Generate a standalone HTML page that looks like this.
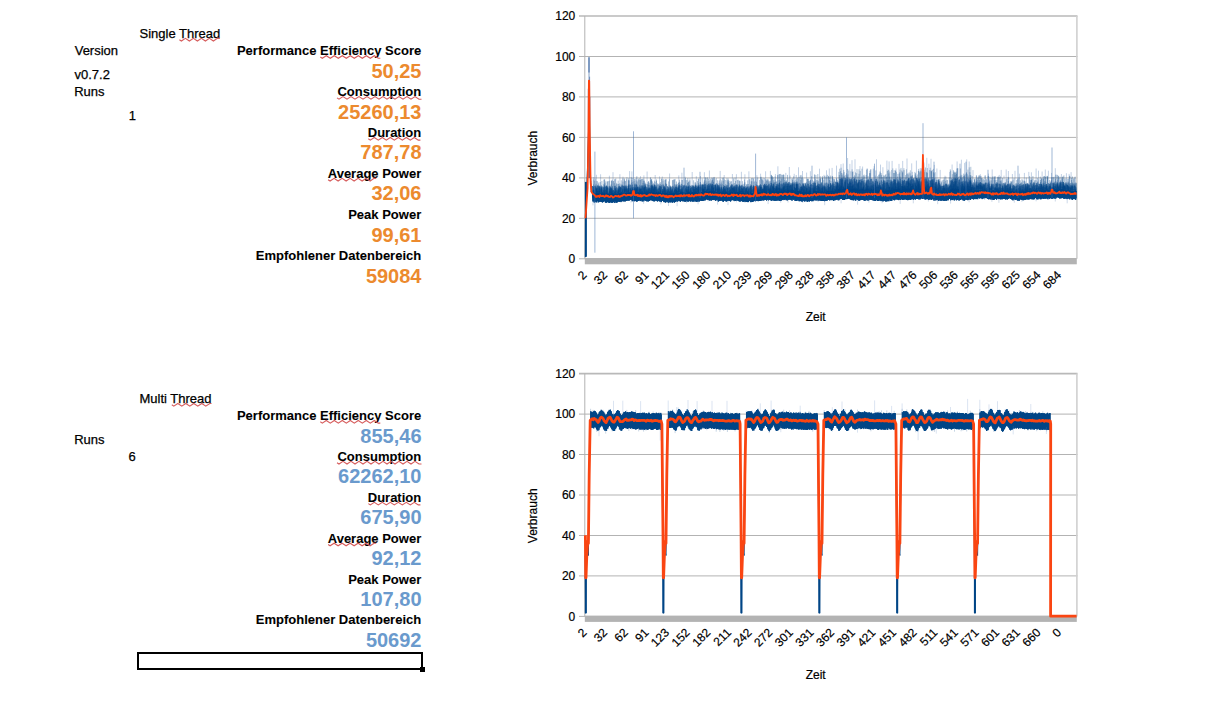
<!DOCTYPE html>
<html><head><meta charset="utf-8"><style>
html,body{margin:0;padding:0;background:#fff;}
body{width:1208px;height:704px;position:relative;overflow:hidden;font-family:"Liberation Sans", sans-serif;}
.t{position:absolute;line-height:1;white-space:nowrap;}
.n{-webkit-text-stroke:0.25px #000;}
.h{-webkit-text-stroke:0.08px #000;}
svg{position:absolute;left:0;top:0;}
svg text{font-family:"Liberation Sans", sans-serif;fill:#000;stroke:#000;stroke-width:0.2px;}
</style></head><body>
<div class="t n" style="left:139.5px;top:26.80px;font-size:13px;font-weight:normal;color:#000;">Single Thread</div>
<div class="t n" style="left:74.7px;top:44.10px;font-size:13px;font-weight:normal;color:#000;">Version</div>
<div class="t n" style="left:74.5px;top:67.70px;font-size:13px;font-weight:normal;color:#000;">v0.7.2</div>
<div class="t n" style="left:74.2px;top:84.70px;font-size:13px;font-weight:normal;color:#000;">Runs</div>
<div class="t n" style="left:128.8px;top:108.60px;font-size:13px;font-weight:normal;color:#000;">1</div>
<div class="t h" style="right:786.8px;top:44.10px;font-size:13px;font-weight:bold;color:#000;">Performance Efficiency Score</div>
<div class="t h" style="right:786.8px;top:85.00px;font-size:13px;font-weight:bold;color:#000;">Consumption</div>
<div class="t h" style="right:786.8px;top:125.90px;font-size:13px;font-weight:bold;color:#000;">Duration</div>
<div class="t h" style="right:786.8px;top:166.80px;font-size:13px;font-weight:bold;color:#000;">Average Power</div>
<div class="t h" style="right:786.8px;top:207.70px;font-size:13px;font-weight:bold;color:#000;">Peak Power</div>
<div class="t h" style="right:786.8px;top:248.60px;font-size:13px;font-weight:bold;color:#000;">Empfohlener Datenbereich</div>
<div class="t" style="right:786.5px;top:60.77px;font-size:20px;font-weight:bold;color:#ec8a2e;">50,25</div>
<div class="t" style="right:786.5px;top:101.67px;font-size:20px;font-weight:bold;color:#ec8a2e;">25260,13</div>
<div class="t" style="right:786.5px;top:142.47px;font-size:20px;font-weight:bold;color:#ec8a2e;">787,78</div>
<div class="t" style="right:786.5px;top:183.27px;font-size:20px;font-weight:bold;color:#ec8a2e;">32,06</div>
<div class="t" style="right:786.5px;top:224.57px;font-size:20px;font-weight:bold;color:#ec8a2e;">99,61</div>
<div class="t" style="right:786.5px;top:265.67px;font-size:20px;font-weight:bold;color:#ec8a2e;">59084</div>
<div class="t n" style="left:139.5px;top:391.90px;font-size:13px;font-weight:normal;color:#000;">Multi Thread</div>
<div class="t n" style="left:74.2px;top:432.90px;font-size:13px;font-weight:normal;color:#000;">Runs</div>
<div class="t n" style="left:128.6px;top:450.00px;font-size:13px;font-weight:normal;color:#000;">6</div>
<div class="t h" style="right:786.8px;top:408.90px;font-size:13px;font-weight:bold;color:#000;">Performance Efficiency Score</div>
<div class="t h" style="right:786.8px;top:449.80px;font-size:13px;font-weight:bold;color:#000;">Consumption</div>
<div class="t h" style="right:786.8px;top:490.70px;font-size:13px;font-weight:bold;color:#000;">Duration</div>
<div class="t h" style="right:786.8px;top:531.60px;font-size:13px;font-weight:bold;color:#000;">Average Power</div>
<div class="t h" style="right:786.8px;top:572.50px;font-size:13px;font-weight:bold;color:#000;">Peak Power</div>
<div class="t h" style="right:786.8px;top:613.40px;font-size:13px;font-weight:bold;color:#000;">Empfohlener Datenbereich</div>
<div class="t" style="right:786.5px;top:425.57px;font-size:20px;font-weight:bold;color:#6a9acd;">855,46</div>
<div class="t" style="right:786.5px;top:466.47px;font-size:20px;font-weight:bold;color:#6a9acd;">62262,10</div>
<div class="t" style="right:786.5px;top:507.27px;font-size:20px;font-weight:bold;color:#6a9acd;">675,90</div>
<div class="t" style="right:786.5px;top:548.07px;font-size:20px;font-weight:bold;color:#6a9acd;">92,12</div>
<div class="t" style="right:786.5px;top:589.37px;font-size:20px;font-weight:bold;color:#6a9acd;">107,80</div>
<div class="t" style="right:786.5px;top:630.47px;font-size:20px;font-weight:bold;color:#6a9acd;">50692</div>
<svg width="1208" height="704" viewBox="0 0 1208 704">
<polyline points="179.4,39.7 181.4,41.0 185.4,38.4 189.4,41.0 193.4,38.4 197.4,41.0 201.4,38.4 205.4,41.0 209.4,38.4 213.4,41.0 217.4,38.4 219.8,38.4" fill="none" stroke="#d65c5c" stroke-width="1.1"/>
<polyline points="171.8,404.8 173.8,406.1 177.8,403.5 181.8,406.1 185.8,403.5 189.8,406.1 193.8,403.5 197.8,406.1 201.8,403.5 205.8,406.1 209.8,403.5 211.5,403.5" fill="none" stroke="#d65c5c" stroke-width="1.1"/>
<polyline points="320.3,57.0 322.3,58.3 326.3,55.7 330.3,58.3 334.3,55.7 338.3,58.3 342.3,55.7 346.3,58.3 350.3,55.7 354.3,58.3 358.3,55.7 362.3,58.3 366.3,55.7 370.3,58.3 374.3,55.7 378.3,58.3 380.3,58.3" fill="none" stroke="#d65c5c" stroke-width="1.1"/>
<polyline points="337.0,97.9 339.0,99.2 343.0,96.6 347.0,99.2 351.0,96.6 355.0,99.2 359.0,96.6 363.0,99.2 367.0,96.6 371.0,99.2 375.0,96.6 379.0,99.2 383.0,96.6 387.0,99.2 391.0,96.6 395.0,99.2 399.0,96.6 403.0,99.2 407.0,96.6 411.0,99.2 415.0,96.6 419.0,99.2 421.5,99.2" fill="none" stroke="#d65c5c" stroke-width="1.1"/>
<polyline points="368.3,138.8 370.3,140.1 374.3,137.5 378.3,140.1 382.3,137.5 386.3,140.1 390.3,137.5 394.3,140.1 398.3,137.5 402.3,140.1 406.3,137.5 410.3,140.1 414.3,137.5 418.3,140.1 420.4,140.1" fill="none" stroke="#d65c5c" stroke-width="1.1"/>
<polyline points="328.1,179.7 330.1,181.0 334.1,178.4 338.1,181.0 342.1,178.4 346.1,181.0 350.1,178.4 354.1,181.0 358.1,178.4 362.1,181.0 366.1,178.4 370.1,181.0 374.1,178.4 376.2,178.4" fill="none" stroke="#d65c5c" stroke-width="1.1"/>
<polyline points="320.3,421.8 322.3,423.1 326.3,420.5 330.3,423.1 334.3,420.5 338.3,423.1 342.3,420.5 346.3,423.1 350.3,420.5 354.3,423.1 358.3,420.5 362.3,423.1 366.3,420.5 370.3,423.1 374.3,420.5 378.3,423.1 380.3,423.1" fill="none" stroke="#d65c5c" stroke-width="1.1"/>
<polyline points="337.0,462.7 339.0,464.0 343.0,461.4 347.0,464.0 351.0,461.4 355.0,464.0 359.0,461.4 363.0,464.0 367.0,461.4 371.0,464.0 375.0,461.4 379.0,464.0 383.0,461.4 387.0,464.0 391.0,461.4 395.0,464.0 399.0,461.4 403.0,464.0 407.0,461.4 411.0,464.0 415.0,461.4 419.0,464.0 421.5,464.0" fill="none" stroke="#d65c5c" stroke-width="1.1"/>
<polyline points="368.3,503.6 370.3,504.9 374.3,502.3 378.3,504.9 382.3,502.3 386.3,504.9 390.3,502.3 394.3,504.9 398.3,502.3 402.3,504.9 406.3,502.3 410.3,504.9 414.3,502.3 418.3,504.9 420.4,504.9" fill="none" stroke="#d65c5c" stroke-width="1.1"/>
<polyline points="328.1,544.5 330.1,545.8 334.1,543.2 338.1,545.8 342.1,543.2 346.1,545.8 350.1,543.2 354.1,545.8 358.1,543.2 362.1,545.8 366.1,543.2 370.1,545.8 374.1,543.2 376.2,543.2" fill="none" stroke="#d65c5c" stroke-width="1.1"/>
<rect x="138" y="653" width="284" height="16" fill="none" stroke="#000" stroke-width="2"/>
<rect x="420" y="667" width="5" height="5" fill="#000"/>
<line x1="579" y1="16.0" x2="1077.5" y2="16.0" stroke="#b9b9b9" stroke-width="1.6"/>
<line x1="579" y1="56.5" x2="1077.5" y2="56.5" stroke="#b3b3b3" stroke-width="1"/>
<line x1="579" y1="96.9" x2="1077.5" y2="96.9" stroke="#b3b3b3" stroke-width="1"/>
<line x1="579" y1="137.4" x2="1077.5" y2="137.4" stroke="#b3b3b3" stroke-width="1"/>
<line x1="579" y1="177.9" x2="1077.5" y2="177.9" stroke="#b3b3b3" stroke-width="1"/>
<line x1="579" y1="218.3" x2="1077.5" y2="218.3" stroke="#b3b3b3" stroke-width="1"/>
<line x1="579" y1="258.8" x2="585" y2="258.8" stroke="#b3b3b3" stroke-width="1"/>
<line x1="584.8" y1="16.0" x2="584.8" y2="258.8" stroke="#b3b3b3" stroke-width="1"/>
<line x1="1076.9" y1="16.0" x2="1076.9" y2="258.8" stroke="#d0d0d0" stroke-width="1.6"/>
<rect x="584.8" y="258.0" width="492" height="6.3" fill="#b3b3b3"/>
<text x="575.3" y="20.2" text-anchor="end" font-size="12">120</text>
<text x="575.3" y="60.7" text-anchor="end" font-size="12">100</text>
<text x="575.3" y="101.1" text-anchor="end" font-size="12">80</text>
<text x="575.3" y="141.6" text-anchor="end" font-size="12">60</text>
<text x="575.3" y="182.1" text-anchor="end" font-size="12">40</text>
<text x="575.3" y="222.5" text-anchor="end" font-size="12">20</text>
<text x="575.3" y="263.0" text-anchor="end" font-size="12">0</text>
<text transform="translate(587.5,275.7) rotate(-45)" text-anchor="end" font-size="12">2</text>
<text transform="translate(608.1,275.7) rotate(-45)" text-anchor="end" font-size="12">32</text>
<text transform="translate(628.8,275.7) rotate(-45)" text-anchor="end" font-size="12">62</text>
<text transform="translate(649.4,275.7) rotate(-45)" text-anchor="end" font-size="12">91</text>
<text transform="translate(670.0,275.7) rotate(-45)" text-anchor="end" font-size="12">121</text>
<text transform="translate(690.6,275.7) rotate(-45)" text-anchor="end" font-size="12">150</text>
<text transform="translate(711.3,275.7) rotate(-45)" text-anchor="end" font-size="12">180</text>
<text transform="translate(731.9,275.7) rotate(-45)" text-anchor="end" font-size="12">210</text>
<text transform="translate(752.5,275.7) rotate(-45)" text-anchor="end" font-size="12">239</text>
<text transform="translate(773.2,275.7) rotate(-45)" text-anchor="end" font-size="12">269</text>
<text transform="translate(793.8,275.7) rotate(-45)" text-anchor="end" font-size="12">298</text>
<text transform="translate(814.4,275.7) rotate(-45)" text-anchor="end" font-size="12">328</text>
<text transform="translate(835.1,275.7) rotate(-45)" text-anchor="end" font-size="12">358</text>
<text transform="translate(855.7,275.7) rotate(-45)" text-anchor="end" font-size="12">387</text>
<text transform="translate(876.3,275.7) rotate(-45)" text-anchor="end" font-size="12">417</text>
<text transform="translate(897.0,275.7) rotate(-45)" text-anchor="end" font-size="12">447</text>
<text transform="translate(917.6,275.7) rotate(-45)" text-anchor="end" font-size="12">476</text>
<text transform="translate(938.2,275.7) rotate(-45)" text-anchor="end" font-size="12">506</text>
<text transform="translate(958.8,275.7) rotate(-45)" text-anchor="end" font-size="12">536</text>
<text transform="translate(979.5,275.7) rotate(-45)" text-anchor="end" font-size="12">565</text>
<text transform="translate(1000.1,275.7) rotate(-45)" text-anchor="end" font-size="12">595</text>
<text transform="translate(1020.7,275.7) rotate(-45)" text-anchor="end" font-size="12">625</text>
<text transform="translate(1041.4,275.7) rotate(-45)" text-anchor="end" font-size="12">654</text>
<text transform="translate(1062.0,275.7) rotate(-45)" text-anchor="end" font-size="12">684</text>
<path d="M585.4 257.2L585.6 186L586.3 198.1L586.9 181.9L587.5 167.7L588.3 137.4L589 117.2L589.5 125.2L590 157.6L590.6 177.9L591.3 192L592 186L592.6 198.1L593 201.5L593.2 194.5L593.4 201.1L593.6 194.9L593.8 201.2L594 194.8L594.2 202.6L594.4 193.9L594.6 200.7L594.8 194.2L595 200.8L595.2 193.1L595.4 201.6L595.6 193.4L595.8 201.5L596 194L596.2 202.5L596.4 193.3L596.6 202L596.8 194.7L597 201L597.2 193.1L597.4 200.9L597.6 193.1L597.8 201.2L598 193L598.2 202.5L598.4 194.5L598.6 202L598.8 193.2L599 200.4L599.2 194.5L599.4 201.8L599.6 194.7L599.8 201.3L600 194.1L600.2 202L600.4 194.6L600.6 201L600.8 194.7L601 200.6L601.2 193.3L601.4 201.7L601.6 193.1L601.8 202.1L602 192.9L602.2 201.8L602.4 194L602.6 202.5L602.8 194.1L603 201.8L603.2 193.4L603.4 200.8L603.6 193.8L603.8 201.9L604 193.8L604.2 201.1L604.4 193L604.6 200.6L604.8 192.9L605 201.1L605.2 194.6L605.4 202.6L605.6 194.5L605.8 201.9L606 194.1L606.2 202.7L606.4 193.1L606.6 202.3L606.8 194.9L607 202.3L607.2 194.6L607.4 200.9L607.6 195L607.8 202.1L608 193.8L608.2 201.8L608.4 194.7L608.6 202.6L608.8 194.7L609 201.3L609.2 194.9L609.4 202.8L609.6 195.1L609.8 202.7L610 193.9L610.2 201.7L610.4 195.1L610.6 202.3L610.8 195.1L611 201.9L611.2 193.9L611.4 202.3L611.6 193.6L611.8 202.8L612 193.6L612.2 201.6L612.4 195.3L612.6 202.7L612.8 193.4L613 201L613.2 194.4L613.4 202.2L613.6 193.8L613.8 201.8L614 194.9L614.2 202.1L614.4 194.1L614.6 202.8L614.8 195.1L615 202.9L615.2 194.2L615.4 201.2L615.6 193.5L615.8 201.4L616 195.1L616.2 201.6L616.4 194.7L616.6 202.6L616.8 194L617 202.5L617.2 194.8L617.4 202.1L617.6 193.9L617.8 200.7L618 194.7L618.2 200.7L618.4 193.8L618.6 201.6L618.8 194.3L619 201.6L619.2 193.4L619.4 201.7L619.6 193L619.8 201.7L620 194.7L620.2 200.4L620.4 193.9L620.6 201.3L620.8 193.2L621 202.1L621.2 193L621.4 200.6L621.6 194.2L621.8 201.4L622 194L622.2 200.5L622.4 193.7L622.6 200.6L622.8 193.8L623 201.2L623.2 193.6L623.4 201.3L623.6 193.1L623.8 200.3L624 193.5L624.2 201.2L624.4 193.9L624.6 200.4L624.8 193.1L625 201.6L625.2 193L625.4 201.1L625.6 193.2L625.8 200.6L626 193.5L626.2 200.2L626.4 193.4L626.6 200.8L626.8 193.1L627 200L627.2 193.4L627.4 200.7L627.6 193.4L627.8 199.6L628 193.1L628.2 199.4L628.4 193.6L628.6 200.3L628.8 192.7L629 201L629.2 193.3L629.4 199.4L629.6 192.6L629.8 199.9L630 193.1L630.2 199.8L630.4 192L630.6 199.7L630.8 192.8L631 200L631.2 192.5L631.4 200.1L631.6 193.2L631.8 200L632 193.1L632.2 201.3L632.4 192L632.6 200.5L632.8 193L633 200.9L633.2 193.1L633.4 200.1L633.6 191.8L633.8 200.5L634 192.2L634.2 201.3L634.4 192L634.6 200.8L634.8 192.1L635 201.1L635.2 191.9L635.4 200.6L635.6 192.6L635.8 200.3L636 193.1L636.2 201.1L636.4 193.7L636.6 201.6L636.8 192.7L637 201.1L637.2 192.8L637.4 201.4L637.6 193.6L637.8 200.9L638 192.1L638.2 200.5L638.4 192.2L638.6 200.6L638.8 192.7L639 200.6L639.2 194L639.4 200.1L639.6 192.9L639.8 200.1L640 193.4L640.2 201.1L640.4 192.4L640.6 200.6L640.8 193.2L641 199.9L641.2 194.1L641.4 200.6L641.6 192.8L641.8 200L642 192.1L642.2 201.6L642.4 193.3L642.6 200.6L642.8 192.4L643 200.6L643.2 193.9L643.4 201.1L643.6 193L643.8 201.3L644 192.7L644.2 199.8L644.4 192.8L644.6 199.8L644.8 193.9L645 200.6L645.2 192.6L645.4 199.8L645.6 193L645.8 200.9L646 192.6L646.2 199.7L646.4 193L646.6 201.1L646.8 192.9L647 201.4L647.2 193.2L647.4 200.7L647.6 192.5L647.8 200L648 193.6L648.2 201.6L648.4 192.9L648.6 201L648.8 193.7L649 200L649.2 192.3L649.4 201L649.6 192.1L649.8 199.5L650 192.4L650.2 200.2L650.4 192.7L650.6 200.2L650.8 193L651 199.9L651.2 192L651.4 199.9L651.6 192.3L651.8 200.3L652 192.4L652.2 200.8L652.4 192.8L652.6 200.5L652.8 192.4L653 199.9L653.2 192.9L653.4 201.3L653.6 192.2L653.8 200.5L654 193.6L654.2 199.6L654.4 192.8L654.6 201.4L654.8 193.3L655 200.6L655.2 192.9L655.4 200L655.6 193L655.8 200.5L656 193.6L656.2 200.7L656.4 192.6L656.6 199.8L656.8 192.3L657 201L657.2 193.6L657.4 201.5L657.6 193.6L657.8 200.3L658 192.8L658.2 201.1L658.4 193.6L658.6 199.9L658.8 192.3L659 200.8L659.2 193.2L659.4 200.8L659.6 192.8L659.8 201.6L660 193.4L660.2 200.3L660.4 192.4L660.6 201.5L660.8 194L661 200.5L661.2 193.7L661.4 202.1L661.6 193.9L661.8 200.2L662 194.5L662.2 200.8L662.4 192.6L662.6 200.6L662.8 193L663 201L663.2 194.6L663.4 200.9L663.6 193L663.8 201.8L664 194.6L664.2 202.2L664.4 194L664.6 201.7L664.8 193.2L665 201.3L665.2 193L665.4 202.4L665.6 193.7L665.8 202.5L666 193.1L666.2 201.5L666.4 194.5L666.6 200.9L666.8 193.3L667 201.9L667.2 193.7L667.4 201.5L667.6 194.1L667.8 200.9L668 193.8L668.2 202.7L668.4 194.5L668.6 202.5L668.8 194.4L669 201.8L669.2 194.9L669.4 201.7L669.6 194.4L669.8 202.3L670 194.2L670.2 202.3L670.4 194.6L670.6 201.8L670.8 193.4L671 202.3L671.2 193.8L671.4 201.3L671.6 193.4L671.8 201.3L672 194.3L672.2 202.5L672.4 194.3L672.6 202.5L672.8 193.2L673 201.5L673.2 193.4L673.4 200.9L673.6 193.9L673.8 201.9L674 194.5L674.2 202.5L674.4 194.3L674.6 202.4L674.8 193.1L675 200.5L675.2 194.1L675.4 202L675.6 192.9L675.8 200.4L676 194L676.2 200.7L676.4 192.9L676.6 201L676.8 193.3L677 201.8L677.2 193.2L677.4 201L677.6 193.2L677.8 201.4L678 192.7L678.2 200.4L678.4 193.7L678.6 200.5L678.8 193.2L679 200.3L679.2 193.4L679.4 200.8L679.6 193.4L679.8 200.5L680 193L680.2 201.7L680.4 192.3L680.6 201.5L680.8 192.3L681 200.1L681.2 193.1L681.4 200.3L681.6 192.1L681.8 200.9L682 193.9L682.2 200.6L682.4 193L682.6 200.9L682.8 192.3L683 201.5L683.2 192.4L683.4 201L683.6 192.8L683.8 200L684 192.4L684.2 201.3L684.4 192.6L684.6 201.4L684.8 192.6L685 201.3L685.2 193L685.4 201.7L685.6 193.9L685.8 201L686 194L686.2 200.4L686.4 193.4L686.6 200.8L686.8 194L687 201.6L687.2 193.5L687.4 201.2L687.6 193.5L687.8 200.4L688 192.5L688.2 201.4L688.4 192.2L688.6 201.4L688.8 192.3L689 201.1L689.2 194.1L689.4 201.1L689.6 192.8L689.8 200.9L690 192.8L690.2 200.4L690.4 193.7L690.6 201.6L690.8 192.7L691 200.6L691.2 194.1L691.4 200.6L691.6 193.1L691.8 200L692 192.2L692.2 201.8L692.4 193.8L692.6 201.1L692.8 192.3L693 200.8L693.2 194.2L693.4 200.9L693.6 192.9L693.8 201.8L694 192.4L694.2 200.1L694.4 193.2L694.6 200L694.8 192.3L695 201.4L695.2 192.3L695.4 201.1L695.6 192.3L695.8 201.3L696 193L696.2 201.2L696.4 192.2L696.6 201.7L696.8 194L697 201.4L697.2 193.1L697.4 200.9L697.6 193.1L697.8 201.5L698 192.6L698.2 201.5L698.4 193L698.6 199.8L698.8 193.1L699 199.8L699.2 192.3L699.4 201.5L699.6 192.9L699.8 200.5L700 192.9L700.2 200.7L700.4 193L700.6 199.9L700.8 193.5L701 200.7L701.2 192.5L701.4 199.6L701.6 192L701.8 201L702 192.1L702.2 201L702.4 193L702.6 199.5L702.8 192L703 200.8L703.2 191.5L703.4 200.5L703.6 191.5L703.8 200.1L704 192.4L704.2 200.4L704.4 191.3L704.6 199.5L704.8 191.3L705 200.4L705.2 191.7L705.4 200.1L705.6 191.3L705.8 199.9L706 191.7L706.2 199.2L706.4 192.1L706.6 198.9L706.8 192.3L707 199.2L707.2 192.1L707.4 199.8L707.6 192.6L707.8 199.3L708 192.9L708.2 199.2L708.4 192.3L708.6 200.1L708.8 192.6L709 199.8L709.2 191.2L709.4 200.5L709.6 191.3L709.8 200.1L710 192.3L710.2 200.1L710.4 191.1L710.6 199.1L710.8 192.1L711 200.6L711.2 191.1L711.4 200.4L711.6 191.7L711.8 199L712 192.9L712.2 199.5L712.4 191.5L712.6 199.9L712.8 191.8L713 200.1L713.2 191.1L713.4 199.6L713.6 192.8L713.8 199.4L714 191.4L714.2 199.8L714.4 191.6L714.6 199.5L714.8 192.2L715 199.1L715.2 192.9L715.4 200.8L715.6 192L715.8 199.2L716 192.3L716.2 200.3L716.4 192.4L716.6 199.6L716.8 193.4L717 200.2L717.2 193.5L717.4 200.1L717.6 191.8L717.8 199.7L718 192.5L718.2 201.3L718.4 193.7L718.6 201.4L718.8 192.9L719 200.5L719.2 193.6L719.4 200.7L719.6 192.3L719.8 201L720 192.3L720.2 200.5L720.4 192.6L720.6 200.1L720.8 192.4L721 201L721.2 192.5L721.4 199.7L721.6 193.7L721.8 200L722 193.3L722.2 201L722.4 192.4L722.6 200.1L722.8 193.1L723 201.7L723.2 192.4L723.4 201.6L723.6 193.6L723.8 200L724 192.5L724.2 200.2L724.4 192.8L724.6 200.5L724.8 193.9L725 200.6L725.2 193.8L725.4 201.1L725.6 192.2L725.8 200.8L726 193.3L726.2 201.5L726.4 192.9L726.6 201.2L726.8 192.2L727 201.2L727.2 192.9L727.4 200.8L727.6 193.5L727.8 201L728 194.1L728.2 200.1L728.4 193.9L728.6 200.4L728.8 193.4L729 200.7L729.2 193.6L729.4 201L729.6 193.2L729.8 200.3L730 193L730.2 201.1L730.4 192.1L730.6 201.5L730.8 192.7L731 200.5L731.2 193.5L731.4 200.2L731.6 192.5L731.8 199.7L732 192.4L732.2 200.1L732.4 192L732.6 200.1L732.8 193.2L733 199.6L733.2 193.7L733.4 200.2L733.6 193.5L733.8 200.1L734 193.1L734.2 201.1L734.4 192.9L734.6 199.7L734.8 192.3L735 199.6L735.2 192.9L735.4 200.8L735.6 191.8L735.8 200.8L736 192.2L736.2 200.2L736.4 193.7L736.6 199.7L736.8 193.1L737 200.8L737.2 192.1L737.4 200.2L737.6 193L737.8 200.2L738 192.7L738.2 199.9L738.4 192.4L738.6 201.1L738.8 192.5L739 200.4L739.2 193.8L739.4 201.4L739.6 193.3L739.8 200.2L740 192.5L740.2 201.7L740.4 193.2L740.6 200.1L740.8 193.9L741 200.4L741.2 193L741.4 201L741.6 193.3L741.8 200.1L742 192.9L742.2 201.4L742.4 193.5L742.6 200.1L742.8 192.7L743 202L743.2 192.6L743.4 200.9L743.6 193.6L743.8 201.7L744 192.8L744.2 200.9L744.4 193.8L744.6 200.8L744.8 194L745 202.1L745.2 193.5L745.4 200.5L745.6 194.5L745.8 201.6L746 194.3L746.2 201L746.4 194.4L746.6 201.8L746.8 194L747 200.6L747.2 193.6L747.4 202.1L747.6 193L747.8 202L748 192.8L748.2 202L748.4 193.9L748.6 202.1L748.8 194.1L749 200.8L749.2 194.3L749.4 200.7L749.6 194L749.8 200.4L750 194.5L750.2 201L750.4 194.5L750.6 202L750.8 192.7L751 202.1L751.2 192.9L751.4 201.4L751.6 193.4L751.8 200.8L752 193.9L752.2 202L752.4 193.2L752.6 201L752.8 193.1L753 201.8L753.2 193.5L753.4 201.2L753.6 193.6L753.8 200.9L754 194.2L754.2 200L754.4 192.3L754.6 200.3L754.8 193.6L755 201.2L755.2 192.3L755.4 200.8L755.6 192.7L755.8 200.2L756 193.8L756.2 200.8L756.4 192.5L756.6 200.5L756.8 193.2L757 199.9L757.2 192.9L757.4 200.8L757.6 192.4L757.8 199.6L758 192.7L758.2 201.2L758.4 192.4L758.6 200.8L758.8 192.9L759 201L759.2 192L759.4 200.9L759.6 192.4L759.8 199.1L760 192.4L760.2 200.3L760.4 193.2L760.6 200.8L760.8 192L761 199.3L761.2 191.2L761.4 199.3L761.6 191.9L761.8 200.8L762 191.6L762.2 199.9L762.4 191.9L762.6 199.7L762.8 191.2L763 200.3L763.2 193L763.4 199.8L763.6 192L763.8 200.5L764 191.6L764.2 198.8L764.4 192.4L764.6 199.7L764.8 191.1L765 199.9L765.2 192.5L765.4 199.8L765.6 192.2L765.8 198.8L766 192.3L766.2 199.4L766.4 191L766.6 200.6L766.8 192.5L767 199.9L767.2 192.7L767.4 199L767.6 192.8L767.8 199.9L768 193L768.2 199.2L768.4 192.8L768.6 200.4L768.8 192.6L769 199.9L769.2 193L769.4 198.8L769.6 191.5L769.8 199.9L770 191.1L770.2 199.9L770.4 191.2L770.6 199.5L770.8 190.8L771 200.5L771.2 191.5L771.4 200.7L771.6 191.4L771.8 199.1L772 192.4L772.2 200.5L772.4 190.7L772.6 199.3L772.8 192.6L773 199.8L773.2 191L773.4 200.5L773.6 192.6L773.8 199.1L774 190.8L774.2 200.6L774.4 191.6L774.6 200.5L774.8 192.3L775 200.3L775.2 192.3L775.4 200.7L775.6 191.8L775.8 199.1L776 192.2L776.2 200.9L776.4 191L776.6 199.7L776.8 191.5L777 200.3L777.2 191.7L777.4 199.9L777.6 192.7L777.8 200.5L778 191.9L778.2 200.5L778.4 191.8L778.6 199.5L778.8 191L779 200L779.2 192.1L779.4 200.9L779.6 192.2L779.8 200.1L780 191.7L780.2 199.7L780.4 192.2L780.6 200.8L780.8 191.6L781 200.8L781.2 191.4L781.4 200.1L781.6 190.6L781.8 200.2L782 191.4L782.2 199.5L782.4 192.4L782.6 200L782.8 191.5L783 199.3L783.2 192.3L783.4 198.8L783.6 192.4L783.8 200.1L784 190.7L784.2 198.7L784.4 190.5L784.6 199.7L784.8 191.8L785 199.5L785.2 191.1L785.4 198.7L785.6 190.9L785.8 199.4L786 191.9L786.2 200.2L786.4 191L786.6 199.5L786.8 191.4L787 200.1L787.2 191.1L787.4 200.4L787.6 190.4L787.8 199.8L788 190.5L788.2 198.5L788.4 190.7L788.6 199.9L788.8 191.8L789 199L789.2 190.8L789.4 198.8L789.6 191.5L789.8 199.7L790 191.5L790.2 200L790.4 190.8L790.6 198.8L790.8 191.2L791 198.7L791.2 190.7L791.4 200.3L791.6 190.4L791.8 199.1L792 191.5L792.2 200.6L792.4 190.5L792.6 199L792.8 191.4L793 199L793.2 190.6L793.4 199.6L793.6 190.8L793.8 199.4L794 191.8L794.2 199.6L794.4 191.1L794.6 199L794.8 190.9L795 200.8L795.2 192.1L795.4 200.8L795.6 190.9L795.8 200.1L796 192.2L796.2 199.3L796.4 192.4L796.6 201L796.8 192.3L797 199.5L797.2 191.3L797.4 199.8L797.6 191.6L797.8 200.7L798 191.1L798.2 199.9L798.4 192.2L798.6 199.6L798.8 192.2L799 201.2L799.2 191.7L799.4 201L799.6 193.2L799.8 201.2L800 191.6L800.2 200.9L800.4 191.6L800.6 200.8L800.8 192.7L801 200.4L801.2 191.9L801.4 201.5L801.6 192.5L801.8 200.4L802 192.5L802.2 200.7L802.4 193.4L802.6 201.6L802.8 192.2L803 200.9L803.2 192.7L803.4 200.1L803.6 192.8L803.8 200.6L804 192.5L804.2 200.4L804.4 193.4L804.6 201.4L804.8 191.9L805 201.4L805.2 192.4L805.4 200.1L805.6 192.2L805.8 200.7L806 193L806.2 200L806.4 191.9L806.6 200.4L806.8 192.3L807 201.7L807.2 192.9L807.4 200.2L807.6 192.8L807.8 201.8L808 193.6L808.2 201.1L808.4 192.9L808.6 200.3L808.8 192.1L809 201L809.2 192.2L809.4 201.6L809.6 191.6L809.8 200.3L810 192.3L810.2 199.9L810.4 191.5L810.6 201L810.8 191.7L811 199.7L811.2 192.9L811.4 199.8L811.6 192.3L811.8 201.3L812 192.1L812.2 201L812.4 191.3L812.6 200.3L812.8 191.8L813 201.2L813.2 192.2L813.4 199.5L813.6 193L813.8 200.4L814 191.3L814.2 199.8L814.4 191.3L814.6 200.2L814.8 191.2L815 199.3L815.2 192.1L815.4 200.3L815.6 191.5L815.8 200.1L816 192.9L816.2 200.3L816.4 191.3L816.6 200.1L816.8 192.8L817 200.4L817.2 192.2L817.4 199.3L817.6 191.5L817.8 199.5L818 191.9L818.2 200.8L818.4 191L818.6 199.2L818.8 191.8L819 200.2L819.2 192.7L819.4 200L819.6 191.9L819.8 200.5L820 192.4L820.2 200.6L820.4 191.8L820.6 199.6L820.8 192.1L821 200.9L821.2 191.3L821.4 199.7L821.6 192.4L821.8 201L822 192.9L822.2 200.9L822.4 191.3L822.6 201L822.8 191.8L823 200L823.2 192.7L823.4 200.9L823.6 192.4L823.8 201L824 192.2L824.2 200.7L824.4 191.7L824.6 201.2L824.8 192.5L825 201L825.2 192.6L825.4 200.6L825.6 192.2L825.8 200L826 192L826.2 199.6L826.4 192.9L826.6 200.8L826.8 191.8L827 199.6L827.2 191.3L827.4 200.5L827.6 191.9L827.8 199.4L828 191.3L828.2 200L828.4 192.6L828.6 199.9L828.8 191.1L829 199.4L829.2 191.7L829.4 199.6L829.6 192.4L829.8 200.5L830 192.7L830.2 199.9L830.4 191.7L830.6 199.8L830.8 192L831 199.8L831.2 192.2L831.4 199.6L831.6 191.3L831.8 200.2L832 190.9L832.2 199.5L832.4 192.4L832.6 199.4L832.8 190.9L833 200L833.2 191.8L833.4 200.8L833.6 191.2L833.8 199L834 192.4L834.2 200.5L834.4 192.3L834.6 199.6L834.8 191.4L835 199.5L835.2 191L835.4 200.2L835.6 190.5L835.8 199.4L836 191.6L836.2 199.2L836.4 191.4L836.6 199.7L836.8 190.9L837 199.1L837.2 191L837.4 199.3L837.6 191.7L837.8 199.5L838 190.5L838.2 200.3L838.4 189.5L838.6 198.6L838.8 189.3L839 200.2L839.2 188.9L839.4 198.7L839.6 189.1L839.8 199.3L840 189.7L840.2 198.5L840.4 189.7L840.6 199L840.8 188.8L841 198.4L841.2 190.2L841.4 198.8L841.6 190.3L841.8 198.7L842 190.1L842.2 198.2L842.4 189.8L842.6 199.9L842.8 190.3L843 197.9L843.2 188.9L843.4 199.7L843.6 189.2L843.8 199.7L844 189.3L844.2 199.7L844.4 188.9L844.6 199.8L844.8 189.4L845 199.2L845.2 190L845.4 199.1L845.6 188.8L845.8 197.9L846 190.3L846.2 198.5L846.4 189L846.6 199.1L846.8 189.5L847 199.1L847.2 188.6L847.4 199L847.6 190.1L847.8 198.5L848 190.4L848.2 198.6L848.4 190.2L848.6 198.2L848.8 190.5L849 198.4L849.2 189.6L849.4 198.7L849.6 190.1L849.8 198.3L850 190.2L850.2 199.3L850.4 189.2L850.6 199.5L850.8 189.4L851 198.9L851.2 190.5L851.4 199.9L851.6 190L851.8 198.6L852 189.7L852.2 200.2L852.4 190.3L852.6 199.7L852.8 189.4L853 199.9L853.2 189.2L853.4 200.2L853.6 190L853.8 200.3L854 189.2L854.2 199.5L854.4 191.2L854.6 198.9L854.8 190L855 198.8L855.2 189.5L855.4 200.4L855.6 189.4L855.8 200.6L856 190.6L856.2 199.2L856.4 190.4L856.6 199.2L856.8 190.4L857 199L857.2 190.7L857.4 199.8L857.6 189.8L857.8 200L858 190.4L858.2 199.2L858.4 190L858.6 200.3L858.8 191.2L859 200.7L859.2 190.6L859.4 200.5L859.6 190.9L859.8 199.7L860 189.7L860.2 199.4L860.4 190.4L860.6 200.2L860.8 191.3L861 199.3L861.2 190.2L861.4 199.5L861.6 189.8L861.8 199.8L862 189.7L862.2 199.6L862.4 191.4L862.6 199.6L862.8 189.6L863 199.8L863.2 190.4L863.4 199.9L863.6 189.8L863.8 200.2L864 190.4L864.2 200.6L864.4 190.8L864.6 200.3L864.8 190L865 200.6L865.2 190L865.4 198.8L865.6 190L865.8 200.5L866 190.1L866.2 198.8L866.4 189.5L866.6 200L866.8 189.7L867 199.3L867.2 190.2L867.4 200.5L867.6 191L867.8 200L868 190.7L868.2 199.7L868.4 191L868.6 200.5L868.8 189.7L869 200.1L869.2 189.8L869.4 199L869.6 190.3L869.8 199.9L870 190.3L870.2 198.9L870.4 190.4L870.6 199.7L870.8 190.6L871 199.4L871.2 190.1L871.4 199.8L871.6 189.6L871.8 199.8L872 191.1L872.2 200.1L872.4 190.1L872.6 199.5L872.8 190.6L873 200.4L873.2 190.3L873.4 199.3L873.6 189.5L873.8 200.6L874 191L874.2 199L874.4 189.7L874.6 200.7L874.8 190.8L875 200.3L875.2 190.9L875.4 200.9L875.6 190.6L875.8 200.7L876 190.3L876.2 199.6L876.4 190.7L876.6 199.4L876.8 191.5L877 199.9L877.2 191.5L877.4 200.8L877.6 190.8L877.8 200.6L878 191.1L878.2 201L878.4 191.7L878.6 200.5L878.8 191.5L879 199.4L879.2 191.9L879.4 200.6L879.6 191.8L879.8 199.4L880 190.3L880.2 199.9L880.4 191.6L880.6 200.5L880.8 190.7L881 201.1L881.2 191L881.4 199.6L881.6 191L881.8 201L882 191.5L882.2 200.7L882.4 191.5L882.6 200.7L882.8 190.8L883 201.5L883.2 191.9L883.4 200.3L883.6 190.7L883.8 200.6L884 191.4L884.2 200.6L884.4 192.1L884.6 200L884.8 190.9L885 200.9L885.2 191.5L885.4 201.2L885.6 192.1L885.8 201.5L886 191.2L886.2 201L886.4 191.2L886.6 201.4L886.8 190.6L887 199.5L887.2 191.7L887.4 201L887.6 191L887.8 201.3L888 190.3L888.2 201L888.4 192L888.6 200.7L888.8 190.5L889 201.2L889.2 190.1L889.4 199.2L889.6 191.4L889.8 199.3L890 191.5L890.2 199.5L890.4 190.3L890.6 200.7L890.8 190.2L891 200.9L891.2 190L891.4 199.5L891.6 190.6L891.8 200.9L892 190.1L892.2 199.1L892.4 191.2L892.6 199.3L892.8 190.9L893 198.9L893.2 190.5L893.4 199.9L893.6 190.5L893.8 200L894 189.3L894.2 200L894.4 190.1L894.6 200.3L894.8 189.3L895 200L895.2 189.8L895.4 198.5L895.6 190L895.8 198.7L896 190.5L896.2 199.1L896.4 189.6L896.6 199.5L896.8 189.6L897 199L897.2 190.6L897.4 198.6L897.6 189.4L897.8 199.9L898 188.8L898.2 199L898.4 189.2L898.6 200.1L898.8 189.4L899 199.6L899.2 189.2L899.4 198.7L899.6 189.9L899.8 199.5L900 190.2L900.2 199.6L900.4 190.6L900.6 199.8L900.8 189.9L901 198.6L901.2 190.2L901.4 199.1L901.6 190.5L901.8 198.8L902 190.1L902.2 199.9L902.4 189.1L902.6 199.1L902.8 189.8L903 199.9L903.2 190.2L903.4 199.4L903.6 189.7L903.8 199L904 190.5L904.2 199.5L904.4 189.9L904.6 198.9L904.8 190.1L905 199.5L905.2 189.4L905.4 199.2L905.6 190L905.8 198.9L906 189.1L906.2 199.3L906.4 190L906.6 199.8L906.8 189.1L907 198.4L907.2 188.9L907.4 199.2L907.6 189.5L907.8 200.2L908 189.5L908.2 200L908.4 189.7L908.6 198.5L908.8 189.1L909 199.6L909.2 190.4L909.4 199L909.6 189L909.8 199.8L910 189.5L910.2 198.5L910.4 189.9L910.6 199.8L910.8 189.9L911 199.3L911.2 189.3L911.4 199L911.6 190.4L911.8 199.3L912 190L912.2 198.7L912.4 190.9L912.6 199L912.8 189L913 199.2L913.2 190.2L913.4 199.6L913.6 190.3L913.8 199.5L914 190.1L914.2 198.9L914.4 190.2L914.6 198.3L914.8 190.2L915 198.7L915.2 190.2L915.4 199.6L915.6 190L915.8 198.8L916 188.8L916.2 198.5L916.4 189.1L916.6 199L916.8 189.7L917 198.5L917.2 190.2L917.4 199L917.6 190.5L917.8 199L918 189.7L918.2 197.9L918.4 189.2L918.6 198.4L918.8 190.4L919 199.6L919.2 190L919.4 198.4L919.6 189.5L919.8 198.1L920 190.1L920.2 199.4L920.4 189.3L920.6 198.4L920.8 189.7L921 197.7L921.2 189.9L921.4 198L921.6 188.4L921.8 198.7L922 190.1L922.2 197.7L922.4 189.8L922.6 198.9L922.8 189.8L923 198.5L923.2 189.6L923.4 198.3L923.6 190L923.8 198.1L924 190.2L924.2 198.6L924.4 189.2L924.6 198.2L924.8 189.4L925 199.5L925.2 190.2L925.4 198.9L925.6 189.3L925.8 199.5L926 188.6L926.2 197.7L926.4 188.8L926.6 199L926.8 190L927 199.2L927.2 189.7L927.4 198.6L927.6 190.2L927.8 198.8L928 189.1L928.2 199.3L928.4 189.2L928.6 199.8L928.8 188.7L929 199.6L929.2 189.2L929.4 198.4L929.6 190.5L929.8 199.3L930 189.2L930.2 199.4L930.4 190L930.6 199.1L930.8 189L931 199.1L931.2 189.4L931.4 199.9L931.6 190.5L931.8 200L932 189.8L932.2 198.8L932.4 190.1L932.6 198.6L932.8 189.7L933 198.5L933.2 189.2L933.4 198.7L933.6 190L933.8 200.5L934 189.7L934.2 198.6L934.4 190.7L934.6 199.1L934.8 191L935 200.7L935.2 190L935.4 199.8L935.6 191.2L935.8 198.9L936 189.8L936.2 198.8L936.4 190.6L936.6 200.2L936.8 189.7L937 200L937.2 190.6L937.4 200L937.6 190.2L937.8 199L938 190.6L938.2 200.4L938.4 191.2L938.6 200.5L938.8 190.5L939 200.8L939.2 190.2L939.4 199L939.6 190.9L939.8 200L940 192.7L940.2 199.7L940.4 192.4L940.6 200.3L940.8 191.6L941 201L941.2 191.6L941.4 200.2L941.6 191.3L941.8 199.7L942 192L942.2 200.6L942.4 191.9L942.6 200L942.8 191.7L943 199.3L943.2 192.2L943.4 200.8L943.6 191.4L943.8 199.1L944 192.4L944.2 200.3L944.4 192.6L944.6 200.8L944.8 193L945 199L945.2 192.5L945.4 200.7L945.6 192L945.8 199.1L946 192.3L946.2 200.3L946.4 191.5L946.6 200.6L946.8 192.1L947 200.3L947.2 191.9L947.4 198.9L947.6 192.8L947.8 199.7L948 192.5L948.2 200.3L948.4 192.8L948.6 198.8L948.8 191.8L949 198.8L949.2 191.4L949.4 198.6L949.6 191.5L949.8 198.6L950 190.7L950.2 198.6L950.4 190.4L950.6 200.3L950.8 189.5L951 199.1L951.2 190.8L951.4 199.1L951.6 189L951.8 199.7L952 189.6L952.2 200.1L952.4 189.3L952.6 199.4L952.8 189.6L953 199.9L953.2 189.7L953.4 198.5L953.6 190.1L953.8 198.9L954 190.8L954.2 200.4L954.4 190.7L954.6 200.2L954.8 189.3L955 198.9L955.2 190.4L955.4 199.2L955.6 189.9L955.8 199L956 189.8L956.2 200.1L956.4 189.4L956.6 200.3L956.8 189L957 198.6L957.2 190.9L957.4 199.8L957.6 189.8L957.8 200L958 190.6L958.2 199.6L958.4 189.4L958.6 198.8L958.8 190.9L959 200.5L959.2 190L959.4 200.2L959.6 190.4L959.8 199.9L960 189.7L960.2 200L960.4 190.4L960.6 199.7L960.8 190.1L961 199.3L961.2 190.1L961.4 198.8L961.6 190.1L961.8 199.1L962 191.1L962.2 199.5L962.4 190.4L962.6 199.1L962.8 190.6L963 200.3L963.2 190L963.4 200.4L963.6 189.2L963.8 199.3L964 189.9L964.2 200.2L964.4 189.2L964.6 200.7L964.8 190.5L965 200L965.2 190L965.4 199.3L965.6 191L965.8 199.2L966 189.6L966.2 198.6L966.4 189.5L966.6 199.4L966.8 190.4L967 200L967.2 190.8L967.4 199.3L967.6 190.4L967.8 200.2L968 190.6L968.2 199.9L968.4 190.1L968.6 198.9L968.8 189.5L969 199.8L969.2 189.5L969.4 198.3L969.6 190.1L969.8 199.3L970 189.8L970.2 198.9L970.4 189.2L970.6 200L970.8 188.8L971 198.9L971.2 189.7L971.4 198L971.6 189.7L971.8 198.2L972 192.2L972.2 198.9L972.4 191L972.6 198.9L972.8 190.9L973 198.2L973.2 191.2L973.4 199.5L973.6 191.9L973.8 198.6L974 191.4L974.2 198.5L974.4 191.1L974.6 198.4L974.8 190.1L975 199.2L975.2 191.2L975.4 198.7L975.6 190L975.8 197.8L976 191.2L976.2 197.8L976.4 190.4L976.6 199.1L976.8 191.1L977 198.8L977.2 190.9L977.4 197.8L977.6 190.1L977.8 199.2L978 190.7L978.2 197.6L978.4 190.7L978.6 197.2L978.8 189.9L979 197.7L979.2 190.3L979.4 198L979.6 190L979.8 198.7L980 190.5L980.2 197.9L980.4 191.2L980.6 197.9L980.8 190.4L981 197.8L981.2 190.7L981.4 198.3L981.6 190L981.8 197.8L982 190.2L982.2 199.1L982.4 189.8L982.6 198.4L982.8 190.8L983 197.9L983.2 190.5L983.4 197.6L983.6 190.2L983.8 198.5L984 191.1L984.2 197.9L984.4 190.4L984.6 197.5L984.8 189.6L985 198.2L985.2 191.4L985.4 197.6L985.6 190.1L985.8 197.8L986 190.8L986.2 197.5L986.4 190.4L986.6 198.1L986.8 191.1L987 197.5L987.2 190.5L987.4 198.8L987.6 190.1L987.8 198.2L988 190L988.2 197.9L988.4 190.2L988.6 199.3L988.8 191.9L989 198.7L989.2 191.5L989.4 199L989.6 190.5L989.8 199L990 192.1L990.2 199.4L990.4 191.9L990.6 198L990.8 191.5L991 199.3L991.2 191.6L991.4 198L991.6 191.4L991.8 199.5L992 191.4L992.2 198L992.4 191.4L992.6 199.6L992.8 190.6L993 198.7L993.2 190.3L993.4 200L993.6 191L993.8 199.4L994 191.3L994.2 199.8L994.4 191.4L994.6 198.6L994.8 190.9L995 198.8L995.2 191.3L995.4 198.4L995.6 191.4L995.8 198.7L996 191.4L996.2 198.3L996.4 190.4L996.6 199.7L996.8 192L997 198.2L997.2 190.2L997.4 198.1L997.6 191.4L997.8 198.2L998 191.6L998.2 199.1L998.4 190.4L998.6 198.3L998.8 191.6L999 198.9L999.2 190.7L999.4 199.1L999.6 192L999.8 198.9L1000 190.5L1000.2 197.8L1000.4 192L1000.6 199.4L1000.8 190.5L1001 198.3L1001.2 190.8L1001.4 198.8L1001.6 191.4L1001.8 199.2L1002 191.2L1002.2 199.3L1002.4 190.4L1002.6 198.6L1002.8 190.9L1003 197.9L1003.2 190.3L1003.4 197.8L1003.6 190.5L1003.8 199L1004 190.2L1004.2 199L1004.4 192L1004.6 199L1004.8 191.7L1005 197.7L1005.2 191.4L1005.4 199.3L1005.6 190.9L1005.8 199.4L1006 190.5L1006.2 199.1L1006.4 190.4L1006.6 198.4L1006.8 191.1L1007 199.2L1007.2 190.6L1007.4 199.5L1007.6 190.3L1007.8 198.9L1008 190.3L1008.2 198.8L1008.4 190.7L1008.6 198.3L1008.8 190.7L1009 198.2L1009.2 192.1L1009.4 198.1L1009.6 190.7L1009.8 198.1L1010 191.3L1010.2 198.3L1010.4 191.3L1010.6 199L1010.8 190.9L1011 198.6L1011.2 191.2L1011.4 198.4L1011.6 191.9L1011.8 199.4L1012 190.6L1012.2 199.7L1012.4 191.4L1012.6 199.6L1012.8 191.8L1013 200.4L1013.2 191.6L1013.4 198.6L1013.6 192.7L1013.8 199.1L1014 192.2L1014.2 199.3L1014.4 192.8L1014.6 199L1014.8 191.8L1015 199.6L1015.2 192.8L1015.4 199.5L1015.6 192.1L1015.8 200L1016 192.3L1016.2 199.7L1016.4 192.9L1016.6 198.7L1016.8 193.1L1017 198.8L1017.2 191.1L1017.4 200.6L1017.6 191.8L1017.8 199.1L1018 192.2L1018.2 200.3L1018.4 191.3L1018.6 200.3L1018.8 191.4L1019 200.6L1019.2 192.6L1019.4 200.5L1019.6 191.5L1019.8 199.6L1020 191.4L1020.2 199.2L1020.4 192.4L1020.6 199.1L1020.8 192.6L1021 199.3L1021.2 191.6L1021.4 200L1021.6 191.9L1021.8 200L1022 192.9L1022.2 199.9L1022.4 192.7L1022.6 199.5L1022.8 191.2L1023 200.3L1023.2 192.1L1023.4 199.1L1023.6 191.4L1023.8 200.1L1024 191.7L1024.2 199.7L1024.4 191.7L1024.6 198.7L1024.8 192L1025 199.9L1025.2 191.5L1025.4 199.4L1025.6 191L1025.8 199.6L1026 190.8L1026.2 199L1026.4 192.4L1026.6 198.5L1026.8 191.8L1027 199.5L1027.2 191.6L1027.4 199.1L1027.6 190.8L1027.8 199L1028 191.4L1028.2 199.7L1028.4 191.2L1028.6 198.3L1028.8 191.6L1029 199.3L1029.2 190.7L1029.4 198.6L1029.6 191.3L1029.8 199.3L1030 191.1L1030.2 199L1030.4 191.4L1030.6 198L1030.8 190.8L1031 198.6L1031.2 191.1L1031.4 198.3L1031.6 190.5L1031.8 199.2L1032 191.8L1032.2 199.3L1032.4 191.3L1032.6 199.1L1032.8 190.9L1033 198.6L1033.2 190.3L1033.4 199.2L1033.6 191.7L1033.8 199.4L1034 190.1L1034.2 198L1034.4 190.5L1034.6 199.1L1034.8 191.3L1035 197.5L1035.2 190.2L1035.4 198L1035.6 190.5L1035.8 197.4L1036 190.9L1036.2 197.6L1036.4 191.1L1036.6 199.2L1036.8 190.6L1037 198L1037.2 190L1037.4 199.3L1037.6 191.8L1037.8 197.6L1038 191.1L1038.2 199.3L1038.4 191.2L1038.6 197.5L1038.8 191.4L1039 198L1039.2 190.7L1039.4 198.2L1039.6 191.7L1039.8 198.5L1040 190L1040.2 199.2L1040.4 191.8L1040.6 198.1L1040.8 191.7L1041 199.3L1041.2 190.1L1041.4 198.2L1041.6 190.7L1041.8 198.7L1042 190.4L1042.2 198.1L1042.4 191.5L1042.6 198.1L1042.8 190.8L1043 198.6L1043.2 190.7L1043.4 198.7L1043.6 190.6L1043.8 198.7L1044 191.9L1044.2 198L1044.4 190.2L1044.6 198.3L1044.8 191.6L1045 198.9L1045.2 191.7L1045.4 197.7L1045.6 190.1L1045.8 198.4L1046 190.7L1046.2 198.7L1046.4 191L1046.6 197.9L1046.8 191.2L1047 197.8L1047.2 190.4L1047.4 198L1047.6 190.6L1047.8 199.2L1048 191.5L1048.2 198.4L1048.4 190.3L1048.6 197.7L1048.8 190.8L1049 198.1L1049.2 191.7L1049.4 198.8L1049.6 190.8L1049.8 198.3L1050 190.3L1050.2 198.3L1050.4 191.6L1050.6 197.9L1050.8 190.2L1051 197.9L1051.2 190.8L1051.4 198.5L1051.6 190.9L1051.8 198.5L1052 191.1L1052.2 198.4L1052.4 191.1L1052.6 198.5L1052.8 189.8L1053 198.4L1053.2 189.6L1053.4 197.3L1053.6 191.3L1053.8 198.2L1054 189.8L1054.2 197.2L1054.4 191L1054.6 198.5L1054.8 189.8L1055 197.9L1055.2 189.4L1055.4 198.4L1055.6 189.9L1055.8 198.6L1056 189.4L1056.2 197.6L1056.4 189.7L1056.6 196.9L1056.8 191L1057 197.4L1057.2 189.6L1057.4 197.2L1057.6 189.7L1057.8 197L1058 189.9L1058.2 197.3L1058.4 190.5L1058.6 197.3L1058.8 190.5L1059 198L1059.2 189.3L1059.4 197.9L1059.6 190.9L1059.8 198.6L1060 189.5L1060.2 198.1L1060.4 189.9L1060.6 196.9L1060.8 189.3L1061 198.5L1061.2 189L1061.4 198L1061.6 190.5L1061.8 197.8L1062 190.4L1062.2 197.7L1062.4 189.8L1062.6 198L1062.8 189.2L1063 196.9L1063.2 190.6L1063.4 198.7L1063.6 189.6L1063.8 197.3L1064 190.2L1064.2 197.4L1064.4 190.8L1064.6 198.7L1064.8 191L1065 198.6L1065.2 189.6L1065.4 197.6L1065.6 191.1L1065.8 198.5L1066 190.2L1066.2 197.7L1066.4 190.1L1066.6 198.4L1066.8 191.6L1067 199.1L1067.2 191.5L1067.4 197.6L1067.6 191.7L1067.8 198.9L1068 190.1L1068.2 198.6L1068.4 190.1L1068.6 197.7L1068.8 191L1069 197.9L1069.2 190.9L1069.4 198.6L1069.6 191.9L1069.8 199.4L1070 190.5L1070.2 198L1070.4 191.3L1070.6 198.2L1070.8 192.1L1071 198.3L1071.2 191.4L1071.4 198.4L1071.6 191.3L1071.8 199.5L1072 190.9L1072.2 198.1L1072.4 191.3L1072.6 199.9L1072.8 191.6L1073 198L1073.2 191.6L1073.4 199L1073.6 191.3L1073.8 198.8L1074 191.6L1074.2 199.1L1074.4 192.2L1074.6 198.3L1074.8 192L1075 198.6L1075.2 191.9L1075.4 199.7L1075.6 191.4L1075.8 199.6L1076 190.8L1076.2 198.2" fill="none" stroke="#004586" stroke-width="1" stroke-linejoin="round"/>
<path d="M593.2 194.6V187M594.3 194.6V190.3M594.8 194.5V192.1M595.8 194.5V187.7M596.5 194.4V188.6M597.1 194.4V188.1M598.2 194.4V187M599.1 194.3V188.7M599.6 194.3V191.2M600.4 194.3V192.7M600.9 194.3V185.6M601.9 194.3V188.8M602.9 194.4V186.3M603.8 194.4V190M604.6 194.5V185.6M605.8 194.5V192.3M606.8 194.6V188.4M607.6 194.7V188M608.3 194.7V187.7M609.2 194.8V189M609.7 194.8V186.5M610.9 194.9V187.7M611.6 194.9V188M612.2 194.9V189.5M612.9 194.9V190.1M613.6 194.9V193.3M614.4 194.9V191.9M615 194.8V191.1M615.6 194.8V193.6M616.8 194.7V193.2M617.9 194.6V190.2M618.5 194.5V190M619.4 194.4V192.9M620.3 194.3V193.2M621 194.1V187.4M622.1 194V191.5M622.8 193.9V185.2M623.6 193.8V191.8M624.2 193.7V185.6M625 193.6V187.2M626.1 193.4V187.4M626.8 193.4V188.5M627.5 193.3V188.4M628.4 193.3V184.4M629.4 193.2V188.1M630.5 193.2V188.1M631.1 193.2V186.8M631.8 193.2V190.5M632.6 193.3V188.3M633.1 193.3V189.4M634.3 193.4V188.2M635 193.4V188.7M636 193.5V188.4M636.8 193.5V187.8M637.5 193.6V187M638.3 193.6V186.9M639 193.7V187.5M639.7 193.7V188.8M640.5 193.7V192.6M641.1 193.7V189M642.1 193.7V186.2M643.2 193.7V186.2M644.4 193.7V191.1M645 193.7V191.5M646.1 193.6V191.1M646.8 193.6V191.4M647.9 193.5V190.8M648.6 193.5V187.6M649.6 193.4V192.1M650.5 193.4V188.1M651.4 193.3V188.2M652.4 193.3V185.6M653.5 193.3V189.6M654.1 193.3V188.5M654.6 193.3V187.2M655.4 193.4V186.3M656.5 193.4V186.5M657.5 193.5V189.8M658.5 193.6V187.5M659.1 193.7V185.7M660 193.8V188.5M660.6 193.9V186.2M661.4 194V187M662.5 194.2V189M663.4 194.3V189.5M664.1 194.4V186.9M665.3 194.5V193.2M665.8 194.6V189.7M666.3 194.6V190M667.1 194.7V191.7M668.1 194.7V189M669.3 194.7V192.1M670 194.7V188.7M671.1 194.7V190.2M671.7 194.7V190.5M672.6 194.6V185.8M673.6 194.5V186.7M674.6 194.4V189.9M675.5 194.3V186.6M676.5 194.2V190M677.1 194.1V187.2M677.8 194.1V190.9M678.5 194V187.4M679.5 193.9V185.3M680.4 193.8V188.9M681.5 193.8V191.6M682.4 193.7V184.7M683.1 193.7V191.5M683.7 193.7V192.4M684.7 193.7V189.3M685.8 193.7V185.9M686.3 193.7V190.2M687 193.7V190.6M687.5 193.7V190.7M688.3 193.8V189.1M689.1 193.8V184.8M689.7 193.8V191.7M690.8 193.8V190.5M691.7 193.8V190.4M692.9 193.9V185.3M693.8 193.8V192.1M694.5 193.8V187.1M695.4 193.8V190.5M696.2 193.7V192.2M697 193.7V186M697.7 193.6V188.8M698.4 193.6V186.8M699.1 193.5V189.3M700.2 193.3V189.9M700.7 193.3V187.1M701.8 193.1V191.7M702.5 193.1V184.9M703.4 192.9V188.6M703.9 192.9V189.5M704.9 192.8V184.4M705.8 192.7V183.8M706.6 192.6V191M707.3 192.6V188.6M707.9 192.6V190.9M709 192.5V184.3M709.6 192.5V190.9M710.8 192.6V190.2M711.5 192.6V189.8M712.2 192.6V191.4M713 192.7V185.4M713.5 192.8V187.8M714.1 192.8V185.4M715.3 192.9V184.8M716.1 193V190.9M717.1 193.2V191.6M718.2 193.3V189.9M719.3 193.4V190.1M720.3 193.5V188.5M721 193.6V188.6M721.8 193.6V191.4M722.7 193.7V188.4M723.7 193.7V190M724.6 193.8V191.1M725.5 193.8V190.8M726.5 193.7V191.2M727.2 193.7V192.1M727.9 193.7V188.3M728.6 193.7V191.7M729.7 193.6V190.1M730.4 193.6V189.3M731.4 193.5V186.5M732.6 193.5V188.1M733.3 193.5V188.4M733.9 193.5V186.9M734.9 193.5V185M736 193.5V187.2M737.1 193.5V190.1M738 193.5V191.2M739.1 193.6V188.5M739.8 193.7V184.7M740.7 193.7V191M741.8 193.8V187.8M742.7 193.9V185.8M743.4 194V190.7M744.3 194.1V191.4M745.3 194.1V189.3M746 194.2V192.1M746.6 194.2V188.5M747.7 194.2V186.8M748.8 194.2V188.6M749.9 194.2V190.5M750.6 194.2V185.8M751.3 194.1V188.1M752.2 194V192.6M753.1 193.9V186.5M754.2 193.8V189.4M755.4 193.6V192.3M756.5 193.5V186.9M757.6 193.3V188.7M758.5 193.2V185.5M759.1 193.1V190.6M760.2 192.9V184.8M760.8 192.9V187.4M761.7 192.8V189.3M762.8 192.7V189.4M763.8 192.6V188.3M764.4 192.6V183.8M765 192.6V190.8M765.5 192.6V188.7M766.1 192.6V190.3M767.2 192.6V189.5M768.2 192.6V189.9M768.7 192.7V191.6M769.3 192.7V183.9M770.1 192.7V188.9M770.7 192.8V185.3M771.4 192.8V189.6M772.2 192.8V184.7M772.9 192.9V186.2M773.6 192.9V186.2M774.1 192.9V182.9M775.2 192.9V186.1M776.1 192.9V187.8M777.1 192.9V186.1M778.1 192.9V187.3M778.9 192.9V184.7M779.5 192.9V188.2M780.2 192.8V189.4M781.3 192.7V188.4M782.3 192.7V190.8M783.4 192.6V186.8M784.5 192.5V190.1M785.4 192.5V183.4M786.1 192.4V190.1M786.8 192.4V183.8M787.9 192.4V190.3M788.6 192.4V182.4M789.3 192.4V190.1M790.4 192.4V183.3M791.2 192.5V184.5M792.3 192.6V183.3M792.9 192.6V184.4M794 192.7V183.9M794.9 192.9V187.7M796.1 193V182.3M797.1 193.2V187M798.3 193.3V183.7M799.1 193.4V190.7M800.1 193.6V190.8M800.8 193.6V186.9M801.6 193.7V186.2M802.7 193.8V183.5M803.4 193.8V183.5M804.2 193.8V189.1M805.2 193.9V183.3M806 193.8V185M807.1 193.8V189.4M808.1 193.8V183.6M808.6 193.7V191.1M809.7 193.6V186.9M810.5 193.6V184.7M811.3 193.5V190.7M812 193.4V184.9M813 193.3V187.2M813.5 193.3V182.5M814 193.2V189.2M815.1 193.2V183M816.1 193.1V188.1M817.1 193.1V185.4M818 193V184.3M818.9 193V186.5M819.6 193V184.3M820.1 193V190.7M821.1 193V191.2M822.2 193.1V189.8M823 193.1V189.2M823.9 193.1V185.9M824.5 193.2V186.6M825.7 193.2V190.4M826.3 193.2V189.9M826.9 193.2V191.7M828.1 193.2V182.8M828.6 193.2V184M829.5 193.2V189.8M830.6 193.2V190.6M831.6 193.1V185.4M832.6 193V189.4M833.2 193V185.6M833.9 192.9V185.8M834.9 192.8V191M835.9 192.6V182M836.7 192.5V185.7M837.4 192.4V182.7M838.1 192.3V188.8M838.9 192.2V184.6M839.8 192.1V187.3M841 192V183.3M841.7 191.9V180.7M842.3 191.8V178.7M843.4 191.8V186.4M844.2 191.8V188.9M845.2 191.8V178M846.1 191.8V177.9M847 191.8V179.2M848.1 191.9V178.6M848.9 191.9V183.6M849.4 192V178.4M850 192V182.8M850.9 192.1V187.7M851.6 192.2V186.3M852.1 192.3V185.2M852.9 192.4V181.6M853.9 192.5V179M855 192.6V187.2M855.9 192.7V182.1M857 192.7V188.7M857.7 192.8V183.2M858.4 192.8V179.7M859.2 192.8V182.1M859.8 192.8V179.9M861 192.8V179.1M861.7 192.8V180.6M862.9 192.7V189.1M863.4 192.7V182.5M864.6 192.7V189.9M865.7 192.6V182.5M866.6 192.6V188.5M867.4 192.6V184.3M868.1 192.5V179.6M869.1 192.5V188.2M870 192.5V183.1M871.2 192.6V178.7M872.3 192.6V189.6M873.1 192.7V188.5M874.1 192.7V189.4M875.2 192.8V183.2M876.1 192.9V179.5M877.2 193.1V182.1M878.2 193.2V184.4M879 193.2V190.5M879.7 193.3V182.8M880.5 193.4V185.7M881.6 193.4V186.5M882.6 193.5V181.7M883.7 193.5V188.4M884.6 193.5V185.6M885.5 193.5V190.1M886.1 193.4V188.2M887.2 193.4V181.8M887.9 193.3V183.8M888.7 193.2V184.5M889.4 193.1V186.7M890.6 193V180.2M891.2 192.9V189.1M892.3 192.7V185.2M893.2 192.6V183.1M894.2 192.5V179.5M894.8 192.4V179.9M895.5 192.3V189M896.2 192.2V183.8M897.2 192.1V182.9M898.4 192V187.4M899.2 192V182.9M900.1 192V181.4M900.9 192V188.4M902 192V180.3M902.5 192V180.1M903 192V181.6M904 192V186.2M904.5 192V186.6M905.5 192.1V183.4M906.5 192.1V187.7M907.5 192.2V186.2M908 192.2V187.6M908.6 192.2V187.9M909.1 192.2V178.4M909.9 192.2V181M910.7 192.2V183.8M911.3 192.2V178.8M912 192.2V178.6M913 192.2V179.6M913.6 192.1V178.2M914.6 192.1V182.9M915.5 192V184.4M916.6 191.9V178M917.8 191.8V187.8M918.7 191.7V181.1M919.3 191.7V178.9M920.3 191.6V187.8M921 191.6V181.2M922.1 191.5V177.4M922.8 191.5V179.3M923.7 191.5V184.8M924.4 191.5V187.9M924.9 191.5V184.1M925.5 191.5V186.7M926.2 191.5V187.6M926.9 191.6V186.2M928.1 191.7V184.3M929 191.8V183.1M930.2 191.9V179.9M931.3 192.1V179.5M932.3 192.2V179.6M933.1 192.3V182.8M933.8 192.4V179.2M934.5 192.5V178.4M935.2 192.6V186.2M936.2 192.7V183.6M936.8 192.8V188.9M937.9 192.9V188.1M938.8 192.9V180.7M939.6 192.9V185M940.2 193V184.4M941.2 193V186.5M941.9 192.9V186.2M942.7 192.9V190.5M943.5 192.9V185.7M944.6 192.8V187.6M945.5 192.7V184.2M946.5 192.7V183.7M947.2 192.6V184.5M948.2 192.5V186.9M949.1 192.5V190.1M949.6 192.4V191.2M950.7 192.4V185M951.7 192.3V184.4M952.8 192.3V180.8M953.5 192.3V182M954.2 192.3V178.3M954.8 192.3V178.7M955.7 192.4V188M956.9 192.4V187.5M957.8 192.5V186.8M958.4 192.5V180.3M959.6 192.5V179.2M960.5 192.6V182.3M961.1 192.6V178M961.9 192.6V182.3M962.4 192.6V186.3M963.2 192.6V184.4M964 192.6V185.5M964.5 192.6V182.2M965.3 192.6V188.7M966.1 192.5V181.9M967.1 192.5V184.9M967.7 192.4V182.3M968.6 192.3V183.9M969.8 192.2V185.2M970.6 192V189.2M971.2 192V187.1M971.8 191.9V187.2M972.4 191.8V183.3M973.3 191.6V186.7M974.2 191.5V188.2M975.3 191.4V184.4M976.1 191.3V190.1M976.6 191.2V189.9M977.6 191.1V189.9M978.5 191.1V185.9M979.2 191V187.6M980.4 191V182.3M981.4 191V185.7M982.6 191.1V184.4M983.2 191.1V189M983.8 191.1V189.3M984.6 191.2V185.3M985.2 191.3V189.6M986 191.3V186.6M987.1 191.4V183.2M988.2 191.5V188.4M989.3 191.6V188.3M990.2 191.7V186.4M990.8 191.7V186.4M991.5 191.8V184.3M992.2 191.8V184.5M992.8 191.8V190.8M993.6 191.9V183.7M994.6 191.9V188.8M995.4 191.9V188.2M996.4 191.9V188.5M997 191.8V182.7M997.5 191.8V189.7M998.2 191.8V188.1M999.1 191.7V186.7M999.7 191.7V184M1000.7 191.7V189.2M1001.4 191.6V189.7M1002.2 191.6V185.5M1003.2 191.6V188.7M1004.3 191.6V183.3M1005.2 191.6V189.6M1005.8 191.6V184.8M1006.3 191.6V185.6M1007.3 191.7V190.5M1007.9 191.7V188.8M1008.7 191.8V183.9M1009.8 191.9V187.7M1010.3 192V186.6M1010.9 192V188.7M1012.1 192.2V188.8M1012.9 192.3V185.8M1014 192.4V190.9M1014.9 192.5V186.1M1015.5 192.5V190.7M1016.3 192.6V188.9M1017.2 192.7V183.8M1018.2 192.7V188.2M1019.4 192.8V184.2M1020.2 192.8V187.9M1021.1 192.7V190.9M1022 192.7V185.9M1022.9 192.6V186.9M1024 192.5V186.5M1025 192.4V184.2M1026 192.3V187.6M1027.2 192.1V183.4M1027.7 192V182.9M1028.3 192V183.8M1029.3 191.8V184.5M1030 191.7V188.4M1030.6 191.7V189.7M1031.2 191.6V189.2M1032.3 191.5V186.2M1033.4 191.4V182.4M1034.2 191.4V189M1035.3 191.4V189.4M1036.2 191.4V183.5M1036.8 191.4V188.2M1037.7 191.4V189.6M1038.8 191.4V184.3M1039.7 191.4V184.1M1040.3 191.4V183.6M1041.2 191.5V187.4M1042.3 191.5V186.8M1042.8 191.5V184.9M1043.3 191.5V186M1044 191.5V187.2M1044.8 191.5V184.9M1045.7 191.5V187.7M1046.4 191.5V184.2M1046.9 191.5V185.8M1047.9 191.5V185.4M1048.5 191.4V189.7M1049.4 191.4V184M1050.4 191.3V182.3M1051.3 191.2V186.7M1052.5 191.1V188.1M1053.1 191V186.8M1053.6 190.9V185.3M1054.5 190.9V188.3M1055.4 190.8V186M1056.4 190.7V183.3M1057.5 190.6V184.1M1058 190.6V185M1059 190.6V188M1059.8 190.6V185.4M1060.4 190.6V188.9M1061.1 190.6V186.3M1062.2 190.7V181.7M1063.3 190.8V182.5M1064.5 190.9V185.7M1065.4 191V189.8M1066.4 191.1V183.4M1067.1 191.2V185.3M1067.7 191.3V182.7M1068.5 191.4V186.7M1069.2 191.5V183.5M1070.3 191.7V187.3M1071.2 191.8V188.4M1072.2 191.9V185.8M1073.3 191.9V190.8M1074.1 192V183.1M1074.7 192V185.9M1075.4 192V190.1M1076.1 192V183.2" fill="none" stroke="#004586" stroke-width="1" stroke-opacity="0.45" stroke-linejoin="round"/>
<path d="M593.5 194.6V186.6M594.1 194.6V193.4M595 194.5V188.5M595.5 194.5V186.7M596.5 194.4V188.6M597.2 194.4V185.9M597.9 194.4V185.3M598.7 194.3V186M599.6 194.3V188.4M600.8 194.3V189.8M601.5 194.3V185.5M602.7 194.4V192.3M603.8 194.4V187.2M604.5 194.5V191.6M605 194.5V186.7M605.5 194.5V186.7M606.6 194.6V185.6M607.2 194.7V187.1M607.7 194.7V192.8M608.8 194.8V192.6M609.9 194.8V185.8M610.7 194.9V190.4M611.8 194.9V188.7M613 194.9V188.3M613.8 194.9V193.5M614.9 194.8V187.7M615.5 194.8V188.2M616.2 194.8V190.2M616.8 194.7V193M617.7 194.6V187.8M618.7 194.5V186.6M619.8 194.3V187.3M620.5 194.2V186.9M621.5 194.1V192.1M622 194V185.6M622.6 193.9V185.8M623.8 193.7V189.3M624.7 193.6V192M625.2 193.5V185.6M626.1 193.4V190.3M626.8 193.4V191.7M627.8 193.3V190.1M628.4 193.3V185.6M629.1 193.2V190.9M630 193.2V189.2M630.8 193.2V188.5M631.7 193.2V190.1M632.6 193.3V184.5M633.2 193.3V188.9M634 193.3V188.7M634.8 193.4V187.3M635.9 193.5V191.2M636.7 193.5V184.6M637.2 193.6V186.9M638 193.6V188.5M639 193.7V190.6M639.6 193.7V187.5M640.7 193.7V189M641.9 193.7V188.6M642.9 193.7V187.4M643.9 193.7V187.4M644.9 193.7V186.9M645.6 193.6V185.5M646.5 193.6V188.5M647.4 193.5V189.7M648.1 193.5V185.1M648.8 193.5V189.6M649.7 193.4V188.4M650.2 193.4V190.2M651.3 193.3V191.2M652.1 193.3V191.4M652.7 193.3V184.4M653.5 193.3V188.5M654 193.3V191M654.9 193.4V184.8M656 193.4V189.2M656.9 193.5V190.7M658 193.6V191.5M658.7 193.7V191.1M659.7 193.8V185.8M660.5 193.9V190.2M661.7 194.1V192.2M662.7 194.2V190.6M663.8 194.3V191.3M664.9 194.5V186.6M665.7 194.5V191.9M666.6 194.6V193M667.5 194.7V191.2M668.5 194.7V192.8M669.5 194.7V191.5M670.4 194.7V187.9M671 194.7V191M672 194.6V188.1M673.1 194.6V193.3M673.9 194.5V190.7M675 194.4V189.3M675.7 194.3V192M676.5 194.2V190.5M677 194.2V188M678.2 194V189.7M679 194V185.8M680.2 193.9V185.1M681.2 193.8V191.3M681.9 193.7V190M683 193.7V186.3M684.1 193.7V191.4M684.7 193.7V184.6M685.5 193.7V187.9M686.3 193.7V186.9M686.8 193.7V186.2M687.9 193.7V187.1M688.6 193.8V187.1M689.3 193.8V186.5M690.4 193.8V188M691.4 193.8V187.2M692.4 193.9V185.5M693.5 193.9V185.5M694.4 193.8V192.1M695.1 193.8V185.4M695.7 193.8V185.7M696.7 193.7V191.6M697.8 193.6V186.8M698.4 193.6V189.8M699.4 193.4V187.4M700.3 193.3V185.4M701 193.2V185.3M702.2 193.1V185.2M703 193V190M703.9 192.9V188.7M704.8 192.8V191M705.5 192.7V191M706.1 192.7V189.1M707 192.6V185.2M707.8 192.6V184.4M708.6 192.5V183.8M709.3 192.5V188.9M710 192.5V185.1M710.9 192.6V183.9M711.7 192.6V185.4M712.3 192.6V184.1M712.9 192.7V190.1M714.1 192.8V191.2M715.3 192.9V183.9M715.8 193V188.6M716.9 193.1V184.3M717.7 193.2V184.9M718.5 193.3V186.3M719.1 193.4V187.1M719.7 193.5V186.6M720.4 193.5V192.3M721.2 193.6V190.7M722.1 193.7V192.6M722.9 193.7V190.9M723.6 193.7V187.8M724.7 193.8V188.8M725.5 193.8V190.4M726.4 193.7V186.7M727.1 193.7V191.7M728 193.7V190.5M729.1 193.6V188.1M729.6 193.6V189.8M730.8 193.6V185.8M731.7 193.5V184.4M732.9 193.5V186.1M734.1 193.5V188.4M735.2 193.5V190.1M736.3 193.5V184.5M737.4 193.5V184.7M738.4 193.6V187.1M739 193.6V186.7M739.5 193.6V185.4M740.6 193.7V185.6M741.6 193.8V190.6M742.5 193.9V188.9M743.6 194V188.2M744.4 194.1V187.2M745.5 194.1V188M746.2 194.2V187.8M747.1 194.2V192.3M747.8 194.2V192M748.7 194.2V192.3M749.7 194.2V188.4M750.3 194.2V187.5M751.4 194.1V192.8M752.4 194V189.2M753.5 193.9V185.5M754.4 193.8V186.3M755.1 193.7V186.7M756.1 193.5V186.5M756.9 193.4V190.5M757.6 193.3V190.9M758.6 193.2V186.6M759.5 193V185.6M760.2 192.9V187M761.3 192.8V186.7M761.9 192.8V189.4M762.6 192.7V189.2M763.6 192.6V188.6M764.3 192.6V183.9M765.2 192.6V184.2M766 192.6V190.6M766.5 192.6V184.2M767 192.6V191M768 192.6V188.3M768.5 192.6V188.9M769.4 192.7V190.3M770.2 192.7V189M771 192.8V183M771.9 192.8V184.3M773 192.9V191.3M773.6 192.9V183.8M774.4 192.9V187.6M775.5 192.9V189.1M776.4 192.9V184M777.3 192.9V190.8M778 192.9V183.4M779 192.9V187.7M780.1 192.8V186.4M781.2 192.8V188.8M782.1 192.7V187.7M782.6 192.7V185.1M783.5 192.6V188.1M784.2 192.5V187.2M785.2 192.5V182M786.2 192.4V182.2M786.9 192.4V190.7M787.5 192.4V183.1M788.1 192.4V183.8M789.3 192.4V183.6M790.1 192.4V189M791.2 192.5V189.2M791.7 192.5V186.6M792.8 192.6V181.9M793.7 192.7V190.9M794.5 192.8V187.3M795.5 192.9V188M796.3 193V183.6M797.3 193.2V189.4M798.2 193.3V191.4M799.1 193.4V191.8M800 193.5V188.5M801.2 193.7V187.5M801.8 193.7V185.2M802.5 193.8V187.1M803.6 193.8V188.6M804.4 193.9V191.9M805.1 193.9V191.7M806 193.8V187.9M806.6 193.8V189M807.1 193.8V183.5M808.2 193.7V189.4M809.4 193.6V185.4M810.3 193.6V189.3M811.3 193.5V184.3M812.3 193.4V187.7M813.5 193.3V189.8M814.5 193.2V182.6M815 193.2V190.2M816 193.1V185.4M816.6 193.1V191.4M817.8 193V182.4M818.9 193V191M819.9 193V187.4M820.7 193V188.8M821.7 193.1V187.9M822.3 193.1V191.3M822.8 193.1V187.7M823.8 193.1V186.3M825 193.2V183.5M826.1 193.2V186.7M827 193.2V185.3M827.9 193.2V190.2M828.8 193.2V187.5M829.7 193.2V187.2M830.5 193.2V186.1M831.2 193.1V190.2M832.4 193V184.6M833.1 193V183.8M834.2 192.8V188.3M834.9 192.8V189.5M835.4 192.7V188.9M836.5 192.5V182M837.5 192.4V181.9M838 192.3V183.5M839.2 192.2V186.7M839.7 192.1V178.8M840.6 192V178.6M841.2 191.9V179.8M842.1 191.9V179.3M842.8 191.8V189.1M843.8 191.8V185.4M844.4 191.8V187.6M844.9 191.8V182.2M846 191.8V188.3M846.6 191.8V179.8M847.3 191.8V182.5M847.9 191.9V179.9M848.8 191.9V188.5M849.6 192V181.8M850.2 192.1V188.2M851 192.2V189.5M851.5 192.2V188.5M852.3 192.3V180.3M853.4 192.4V185.4M854.4 192.5V180.5M855.6 192.6V187.6M856.6 192.7V179.8M857.6 192.8V189.9M858.7 192.8V181.4M859.6 192.8V189.9M860.2 192.8V190.3M861 192.8V183.4M861.6 192.8V180.6M862.4 192.8V188.8M863.3 192.7V187.3M864 192.7V187.8M865 192.7V189.1M865.7 192.6V188.6M866.6 192.6V182.3M867.4 192.6V188.4M868 192.5V179.3M868.9 192.5V189.5M869.8 192.5V180.4M870.5 192.5V179.1M871.1 192.6V185M871.9 192.6V178.9M872.7 192.6V181.6M873.7 192.7V187M874.6 192.8V185M875.3 192.9V188.2M875.9 192.9V178.9M877 193V188.8M878.2 193.2V186.8M879.3 193.3V185.4M880.1 193.3V186M880.6 193.4V184.9M881.3 193.4V180.3M882.2 193.5V187.8M883.3 193.5V184.3M884.3 193.5V182.5M885.3 193.5V188.6M886.4 193.4V182.3M887.4 193.4V182.2M888.1 193.3V179.4M889.1 193.2V180.1M889.8 193.1V187.1M890.9 192.9V178.8M891.9 192.8V188.7M892.6 192.7V183.9M893.1 192.6V186.3M894 192.5V179.2M895 192.4V179.5M895.6 192.3V179.7M896.3 192.2V186.9M897.3 192.1V186.9M897.8 192.1V181.5M898.3 192.1V182.2M898.9 192V183.7M900 192V184.7M900.7 192V179.1M901.8 192V184M902.8 192V186.7M903.3 192V187M904.2 192V180.4M904.8 192.1V188M905.6 192.1V186.7M906.3 192.1V180.9M907.1 192.1V181M908 192.2V179.1M908.9 192.2V178.4M909.7 192.2V183.4M910.3 192.2V187.4M911.1 192.2V179.8M912.2 192.2V184.5M912.9 192.2V185.9M913.8 192.1V184.4M915 192V181.6M915.8 192V183M916.6 191.9V178.3M917.2 191.9V180M917.9 191.8V184.8M918.5 191.8V186.4M919.2 191.7V186.2M920.1 191.6V187.8M920.9 191.6V182.8M921.7 191.5V182.3M922.3 191.5V186.1M923.4 191.5V177.5M924 191.5V188.1M925.1 191.5V177.4M925.9 191.5V177.8M926.8 191.6V178.6M927.3 191.6V189M928.4 191.7V183.9M929 191.8V180.3M929.5 191.8V187.2M930.5 192V180.9M931.4 192.1V182.6M932.3 192.2V186.8M933.1 192.3V182.7M933.7 192.4V180.8M934.9 192.6V182.8M935.5 192.6V186.9M936.4 192.7V185.1M937.2 192.8V190.2M937.9 192.9V186.1M938.5 192.9V178.9M939.6 192.9V179.2M940.2 193V186.4M941.2 193V189.9M942.1 192.9V186.1M943.1 192.9V187.5M943.7 192.9V189.7M944.5 192.8V187.7M945.3 192.8V190.1M945.8 192.7V183.7M946.5 192.7V184.5M947.7 192.6V190.2M948.3 192.5V189.6M948.8 192.5V189.7M949.7 192.4V185.7M950.4 192.4V183.5M951.3 192.4V181M952.3 192.3V180.6M952.8 192.3V188.2M953.9 192.3V184.4M954.9 192.3V181M955.9 192.4V181.2M956.7 192.4V178.9M957.7 192.4V184.1M958.7 192.5V185.8M959.5 192.5V182.8M960.7 192.6V187.7M961.4 192.6V188.8M962.3 192.6V184.3M963.2 192.6V185.8M963.9 192.6V183.1M964.5 192.6V184.3M965.1 192.6V183.9M966 192.5V185M966.7 192.5V180.3M967.4 192.4V183.5M968.5 192.3V185.3M969.3 192.2V181.4M970.2 192.1V180.1M971.3 191.9V186.6M972.1 191.8V187M973 191.7V185.5M973.6 191.6V188.3M974.3 191.5V187M975 191.4V188M976.2 191.3V185.3M976.9 191.2V189.4M977.8 191.1V185.2M978.7 191.1V189.7M979.6 191V183.6M980.5 191V184.6M981.3 191V186.9M982 191V183.8M983 191.1V185.7M983.9 191.1V187.8M985 191.2V189.9M985.9 191.3V187.8M987 191.4V182.6M987.9 191.5V184.6M988.5 191.6V182.5M989.4 191.6V183.6M989.9 191.7V188M990.9 191.8V189.3M991.4 191.8V188.1M992.4 191.8V183.8M993 191.9V186M994.1 191.9V184.7M995 191.9V186.9M995.7 191.9V188.6M996.6 191.8V188.4M997.6 191.8V188.8M998.5 191.8V189.1M999.5 191.7V183.6M1000.6 191.7V187.3M1001.8 191.6V189.5M1002.6 191.6V188.3M1003.3 191.6V190.1M1004.1 191.6V185.8M1005.1 191.6V187M1006.3 191.6V185.2M1007.3 191.7V183.9M1008 191.7V184.5M1008.9 191.8V188.5M1009.8 191.9V185.2M1010.4 192V185.2M1011.5 192.1V190.8M1012.7 192.2V187.8M1013.8 192.4V188.2M1014.7 192.5V186.1M1015.4 192.5V189.6M1016.3 192.6V188.9M1016.8 192.7V189.3M1018 192.7V185.8M1018.6 192.7V187.6M1019.5 192.8V190.3M1020.6 192.7V183.8M1021.5 192.7V185.3M1022.3 192.7V189.6M1023.3 192.6V184.5M1024.3 192.5V190.2M1025.5 192.3V184M1026.5 192.2V189.5M1027.1 192.1V190.2M1028.1 192V186.5M1029.3 191.8V189.4M1030.1 191.7V188.5M1031.2 191.6V184.4M1032.2 191.5V186.5M1032.9 191.5V187.2M1033.5 191.4V184.7M1034.4 191.4V186M1035.5 191.4V189.3M1036.4 191.4V189.5M1037.1 191.4V185.1M1038 191.4V183.3M1038.6 191.4V187.5M1039.4 191.4V188M1040.4 191.4V187.7M1041.2 191.5V184.1M1041.7 191.5V185.2M1042.6 191.5V187.2M1043.4 191.5V189.1M1044 191.5V184.7M1044.7 191.5V188.5M1045.3 191.5V185.4M1046.3 191.5V185.6M1046.8 191.5V186.9M1047.6 191.5V189M1048.6 191.4V187.1M1049.7 191.3V186.3M1050.4 191.3V183.2M1050.9 191.2V187.4M1051.7 191.1V189.2M1052.6 191V187.6M1053.8 190.9V182.5M1054.3 190.9V188.3M1055.3 190.8V184.1M1056 190.7V187M1057.1 190.7V182.1M1057.9 190.6V183.9M1059.1 190.6V184.3M1059.9 190.6V182M1060.8 190.6V184.1M1061.9 190.7V189.2M1062.5 190.7V189.2M1063.2 190.8V181.9M1064.2 190.9V186.9M1065.1 191V186.4M1065.9 191.1V187.3M1067.1 191.2V184.2M1067.6 191.3V185.4M1068.8 191.5V187.3M1069.4 191.5V190.1M1070.3 191.7V187.6M1071.1 191.8V185.2M1071.9 191.8V185.9M1072.9 191.9V186.3M1073.7 192V189.3M1074.4 192V185.5M1075.6 192V190.2M1076.1 192V187.4" fill="none" stroke="#004586" stroke-width="1" stroke-opacity="0.45" stroke-linejoin="round"/>
<path d="M593.9 194.6V191.8M594.8 194.5V192.9M595.9 194.5V192.9M597 194.4V190.5M597.8 194.4V190.6M598.3 194.4V190.5M599 194.3V193.1M599.8 194.3V186.6M600.8 194.3V188.9M601.4 194.3V189.6M602.1 194.3V189.6M603.2 194.4V191.8M604.1 194.4V189.6M604.9 194.5V192.9M606 194.6V186.3M606.7 194.6V186.6M607.5 194.7V186.7M608.2 194.7V193.3M609.4 194.8V190.9M609.9 194.8V192M610.7 194.9V187.1M611.9 194.9V191.7M612.4 194.9V193M613.6 194.9V190M614.2 194.9V191.4M615.1 194.8V188.8M616 194.8V187.5M616.8 194.7V186.9M617.8 194.6V188.7M618.3 194.5V190.9M619 194.4V186.4M620.1 194.3V187.6M621.1 194.1V192M621.6 194V192.4M622.4 193.9V190.6M623.6 193.7V192M624.6 193.6V190.1M625.2 193.5V185.9M626.3 193.4V188.5M627.1 193.3V191.4M628 193.3V186.2M629.1 193.2V185.6M630.2 193.2V190.6M631.3 193.2V191.5M632 193.3V187.8M633 193.3V187.1M633.9 193.3V186.5M634.7 193.4V192M635.4 193.4V187.7M636.4 193.5V189.2M637.3 193.6V185.7M638.2 193.6V188.7M639 193.7V191.8M639.8 193.7V184.8M640.6 193.7V189M641.6 193.7V190.9M642.4 193.7V190.7M643.3 193.7V188.6M644.3 193.7V186.5M645.1 193.7V184.6M646 193.6V189.5M646.6 193.6V192.4M647.3 193.5V187.6M648 193.5V191.4M648.9 193.5V191.4M649.5 193.4V188.4M650.5 193.4V189.6M651.5 193.3V189.7M652.1 193.3V185.9M653.1 193.3V187M654.1 193.3V188.2M654.6 193.3V191.1M655.5 193.4V187.1M656 193.4V186.5M657.2 193.5V187.6M658.3 193.6V188.6M659.3 193.7V192.5M660.2 193.9V186.8M661.2 194V185.5M662 194.1V192.7M663.1 194.2V185.3M664.2 194.4V186.4M664.7 194.4V187.9M665.9 194.6V191.1M666.8 194.6V188.8M667.6 194.7V186.2M668.1 194.7V192.3M669.2 194.7V187.5M670 194.7V186.7M670.6 194.7V191.7M671.2 194.7V186.9M671.9 194.6V188.7M672.7 194.6V189.2M673.4 194.5V192.5M674.5 194.4V189.8M675.2 194.4V189M675.7 194.3V187.3M676.5 194.2V190.6M677.2 194.1V192.8M678.2 194V187.6M679.2 193.9V189.1M680.3 193.8V189.6M681.2 193.8V186.2M681.9 193.7V188.9M682.7 193.7V192.2M683.9 193.7V185.8M684.9 193.7V192.6M686 193.7V191.6M687.2 193.7V189.7M687.7 193.7V186.6M688.2 193.7V186.1M688.8 193.8V186.1M689.3 193.8V191.8M690.3 193.8V187.9M691.3 193.8V191.8M692.2 193.9V186M693.3 193.9V186M694.3 193.8V186.2M695.1 193.8V189M696 193.8V186.1M696.7 193.7V190.5M697.8 193.6V190.7M698.3 193.6V186.1M699.5 193.4V191.4M700.1 193.4V188.2M701 193.3V187M701.9 193.1V188.2M702.5 193.1V189.1M703.3 193V183.9M704.1 192.9V186.6M705.1 192.7V186.7M706.1 192.7V190.8M706.7 192.6V190M707.5 192.6V189.1M708.6 192.5V190.8M709.2 192.5V185.5M709.7 192.5V191.1M710.4 192.5V188.4M711.3 192.6V186.8M712.3 192.6V184.1M713 192.7V188M713.7 192.8V190.3M714.6 192.9V185M715.3 192.9V190.6M715.8 193V188.8M717 193.2V187M717.6 193.2V184.4M718.3 193.3V188.7M719.2 193.4V184.5M720.3 193.5V189.7M721.5 193.6V187.8M722.6 193.7V190.2M723.5 193.7V186.9M724.7 193.8V185.9M725.6 193.8V192.1M726.6 193.7V191.7M727.8 193.7V185M728.9 193.7V191.8M729.8 193.6V187.5M730.8 193.6V185.6M731.4 193.5V190.9M731.9 193.5V184.5M732.8 193.5V187.6M733.9 193.5V190.9M734.6 193.5V187.2M735.3 193.5V186.4M736.1 193.5V187.7M737 193.5V189.4M738.2 193.6V185.9M738.9 193.6V188.1M739.8 193.7V190.8M740.4 193.7V189.3M741.3 193.8V186M742.2 193.9V188.8M743.1 194V192.6M743.8 194V186.8M744.7 194.1V192.4M745.8 194.2V186M746.9 194.2V187.1M747.7 194.2V191.1M748.4 194.2V189.8M749 194.2V191.6M749.9 194.2V186.3M750.5 194.2V191.7M751.2 194.1V186.4M752 194.1V190.7M752.9 194V187M753.8 193.8V188M754.9 193.7V188.2M755.8 193.6V189.1M756.9 193.4V184.9M757.8 193.3V187.3M759 193.1V191.1M759.7 193V189.3M760.6 192.9V185.6M761.5 192.8V187.2M762.6 192.7V188.8M763.5 192.6V185.4M764.4 192.6V185.5M764.9 192.6V186.6M765.9 192.6V185.9M766.5 192.6V187.4M767.4 192.6V185.8M768.6 192.6V190.7M769.2 192.7V186.3M769.7 192.7V188.1M770.3 192.7V185.4M771.2 192.8V190.3M771.8 192.8V188.2M772.5 192.9V186.8M773.5 192.9V188.4M774 192.9V190.9M775.1 192.9V189.7M776.2 192.9V187.5M776.8 192.9V186.2M777.4 192.9V189.2M778.3 192.9V188M778.9 192.9V185.3M779.5 192.9V182.4M780.2 192.8V189.8M780.9 192.8V183.8M782 192.7V183.7M782.7 192.7V187.5M783.5 192.6V186.2M784.7 192.5V183.8M785.5 192.5V189.7M786.7 192.4V181.7M787.8 192.4V183.9M788.8 192.4V182.2M789.9 192.4V185.5M790.7 192.4V185.3M791.3 192.5V185.3M791.8 192.5V183M792.4 192.6V188.5M793.4 192.7V189.8M794.1 192.7V186.7M795.2 192.9V182.3M795.8 193V191.4M796.4 193.1V184.2M797.4 193.2V183.9M798.2 193.3V187.9M799.3 193.5V188.5M800.4 193.6V186.7M801 193.6V191.9M801.8 193.7V189.1M803 193.8V191.9M803.8 193.8V185.4M804.5 193.9V186.1M805.3 193.9V190.3M805.9 193.8V186.9M806.8 193.8V187.2M807.6 193.8V191.4M808.2 193.7V184.2M809 193.7V186.6M809.6 193.6V189.9M810.1 193.6V182.9M810.8 193.5V188.1M811.4 193.5V187.9M812.6 193.4V188.3M813.1 193.3V188M814 193.2V188.6M814.6 193.2V185.4M815.4 193.1V183.3M816.5 193.1V185.9M817.6 193V184.7M818.1 193V186M819.2 193V184.3M820.1 193V184.6M821.1 193.1V183.9M821.8 193.1V182.4M822.9 193.1V190.8M823.6 193.1V190.9M824.5 193.2V190.4M825.3 193.2V188.4M826.2 193.2V188.8M826.8 193.2V191.8M827.9 193.2V188.2M828.9 193.2V191.1M829.4 193.2V186.8M830.4 193.2V183.1M831 193.1V183.5M832.2 193.1V188.1M833.1 193V190.7M834.1 192.9V184M835.2 192.7V185.6M835.9 192.6V189.8M836.7 192.5V185.2M837.2 192.4V187.9M838.3 192.3V182.8M839.5 192.1V188.4M840.3 192V186.8M841.3 191.9V178.2M842.2 191.9V178.2M843.3 191.8V187M844.3 191.8V181.5M845.3 191.8V178.6M845.9 191.8V180.4M847 191.8V189.4M847.9 191.9V183.5M848.7 191.9V185.7M849.3 192V183.4M850.4 192.1V180.5M850.9 192.1V182.9M851.6 192.2V179.4M852.7 192.3V185.4M853.4 192.4V189.7M854.2 192.5V188.1M855.2 192.6V184.2M856.1 192.7V189.2M856.7 192.7V188.1M857.3 192.7V189M858 192.8V184M858.9 192.8V185.5M859.7 192.8V189.8M860.5 192.8V182.7M861 192.8V182.6M862.2 192.8V178.9M863.4 192.7V186.6M864.1 192.7V189.4M864.6 192.7V182.5M865.5 192.6V189.8M866.5 192.6V180.3M867.4 192.6V185.5M868.1 192.5V189.6M868.8 192.5V178.6M869.9 192.5V188.2M871 192.6V189.9M871.6 192.6V185.8M872.3 192.6V180.7M873.3 192.7V181.2M874.2 192.8V182.9M875.4 192.9V181M876.4 193V178.9M876.9 193V185.6M877.7 193.1V181.9M878.3 193.2V185.5M879.2 193.3V183.6M880.2 193.3V185.5M881.4 193.4V188.9M882.5 193.5V184.3M883.6 193.5V180.5M884.7 193.5V181M885.4 193.5V188.8M886.2 193.4V185.3M887.1 193.4V182.9M888.3 193.3V190.4M888.9 193.2V188M889.6 193.1V186.6M890.1 193V188.5M890.8 193V184.1M891.5 192.9V180.6M892 192.8V182.1M892.8 192.7V181M893.4 192.6V179.3M894.1 192.5V188.3M895.2 192.3V182M896.2 192.2V184.7M897.4 192.1V179.1M898.4 192V180.2M899.6 192V187.8M900.7 192V187.8M901.6 192V186.4M902.4 192V186.4M903 192V183.4M904.1 192V185.5M904.7 192V180.2M905.4 192.1V188.5M906 192.1V181.5M907.1 192.1V181.7M908 192.2V181.5M909.1 192.2V178.2M910 192.2V188.1M911.2 192.2V181.8M912 192.2V179.3M913.1 192.2V185.2M913.9 192.1V187.9M915.1 192V181.4M916 192V187M917 191.9V178.4M918.1 191.8V184M918.7 191.7V181.8M919.2 191.7V184.3M920 191.6V178.3M921.1 191.6V187.7M921.9 191.5V181.5M922.6 191.5V182.3M923.1 191.5V180.5M924.1 191.5V178.3M925.2 191.5V185.6M925.7 191.5V181.4M926.7 191.6V180.5M927.4 191.6V184.5M928.5 191.7V182.3M929.2 191.8V188.1M930.2 191.9V186.1M931.3 192.1V179.9M932.2 192.2V187.3M932.7 192.3V183.6M933.7 192.4V189M934.5 192.5V185.8M935.3 192.6V183.3M936.1 192.7V182.2M936.8 192.8V181.8M937.6 192.9V183.6M938.5 192.9V179.9M939.7 192.9V190.4M940.7 193V187.6M941.7 192.9V190M942.5 192.9V188.5M943.3 192.9V184.5M944 192.8V188.2M944.5 192.8V189.1M945.2 192.8V188.6M945.8 192.7V189.3M946.5 192.7V187.9M947.4 192.6V186.4M948.3 192.5V187.7M949.1 192.5V187.3M950.1 192.4V185.5M951.3 192.4V180M952.3 192.3V188.1M953 192.3V182.3M954.1 192.3V184.3M955.2 192.3V182.5M955.7 192.4V178M956.8 192.4V185.3M957.9 192.5V187.4M958.8 192.5V182.2M959.6 192.5V179.7M960.2 192.6V187.9M961.1 192.6V181.2M961.6 192.6V181.9M962.3 192.6V183.8M963.1 192.6V181.2M963.9 192.6V180.6M964.6 192.6V178.6M965.4 192.6V188M966.1 192.5V178.6M967.1 192.5V186M967.7 192.4V181.5M968.7 192.3V188.1M969.4 192.2V179.8M970.3 192.1V177.9M971.3 192V187.3M972.1 191.8V185M973.3 191.6V188.1M973.9 191.6V183.8M974.9 191.4V189.4M975.8 191.3V182.6M976.6 191.2V185.8M977.1 191.2V182.2M977.9 191.1V185.7M978.6 191.1V182.4M979.4 191V184.8M980.5 191V183.4M981.3 191V183.2M982.3 191.1V187.3M983.2 191.1V185.6M984.1 191.2V184.7M984.8 191.2V183.5M985.9 191.3V188.9M987 191.4V189.1M987.7 191.5V184.3M988.3 191.5V182.6M988.9 191.6V183.7M989.8 191.7V186.3M991 191.8V187.9M992.1 191.8V184.8M993 191.9V187M994 191.9V190.4M994.7 191.9V188M995.7 191.9V183.4M996.7 191.8V189.6M997.8 191.8V182.9M998.8 191.8V188.3M999.9 191.7V189.7M1000.8 191.7V184.9M1001.7 191.6V188M1002.5 191.6V185.6M1003.4 191.6V188.2M1004 191.6V182.8M1005.1 191.6V189.5M1005.8 191.6V186.1M1006.9 191.7V185.9M1008 191.7V188M1008.8 191.8V189.4M1009.9 191.9V189M1010.5 192V183.5M1011.2 192.1V188.3M1012.3 192.2V189.1M1012.9 192.3V184.1M1014 192.4V188.5M1015 192.5V186.5M1016.1 192.6V186.2M1016.7 192.6V186M1017.3 192.7V185M1017.8 192.7V190.2M1018.7 192.7V185.1M1019.4 192.8V188.6M1020 192.8V186.1M1020.7 192.7V189.2M1021.3 192.7V189.7M1021.9 192.7V190.8M1022.5 192.6V184.9M1023.4 192.6V184.1M1024.3 192.5V187.5M1025.2 192.4V185.7M1025.8 192.3V189.2M1026.8 192.2V185.8M1027.6 192.1V187.5M1028.7 191.9V189.8M1029.3 191.8V185.5M1030.3 191.7V188M1031.5 191.6V188.2M1032.2 191.5V185.2M1033.1 191.5V190.2M1033.6 191.4V189.5M1034.4 191.4V190.2M1035.4 191.4V185.2M1036.3 191.4V188.2M1036.9 191.4V182.8M1037.7 191.4V188M1038.6 191.4V186M1039.7 191.4V186.1M1040.4 191.4V189.8M1041.5 191.5V183.9M1042.5 191.5V188.8M1043.6 191.5V186.5M1044.6 191.5V190.3M1045.4 191.5V184.2M1046.5 191.5V184.1M1047.3 191.5V188.5M1048.4 191.4V183.1M1049.6 191.3V186.1M1050.7 191.2V190.1M1051.8 191.1V188.6M1052.5 191.1V186.6M1053.4 191V187.8M1054 190.9V183.1M1055 190.8V186.3M1056 190.7V184.4M1057.1 190.7V186.5M1057.7 190.6V189.1M1058.7 190.6V187M1059.2 190.6V185.3M1060.2 190.6V182.2M1060.9 190.6V186.8M1062 190.7V184.2M1062.6 190.7V186.7M1063.2 190.8V184M1064.2 190.9V186M1064.7 190.9V185.8M1065.4 191V185.8M1066.1 191.1V189.5M1067.2 191.2V185.2M1068.3 191.4V185.3M1068.8 191.5V182.5M1069.5 191.6V190.3M1070.2 191.6V189.9M1070.9 191.7V185.1M1071.8 191.8V186.9M1073 191.9V187.1M1074.2 192V185.4M1074.9 192V184.1M1075.6 192V189.4" fill="none" stroke="#004586" stroke-width="1" stroke-opacity="0.45" stroke-linejoin="round"/>
<path d="M593.4 194.6V189.9M594.3 194.6V186.1M595.2 194.5V185.7M596.2 194.5V188.3M597.1 194.4V191.3M598.3 194.4V191.5M599.4 194.3V187.4M600.1 194.3V192.1M601.2 194.3V187.9M602.3 194.4V191.9M602.9 194.4V191.8M603.8 194.4V187.3M604.5 194.5V192.6M605.3 194.5V189.9M606.4 194.6V185.6M607.3 194.7V191.4M607.9 194.7V193.6M608.4 194.7V192.3M609.1 194.8V190.5M610.2 194.8V186.8M611.3 194.9V188.7M612.5 194.9V186.2M613.2 194.9V190.8M614.4 194.9V185.9M615.1 194.8V191.8M616.2 194.8V193.2M617.3 194.6V192M618.4 194.5V188.6M619.2 194.4V186.4M619.9 194.3V187.6M620.5 194.2V187M621.5 194.1V187.7M622.5 193.9V189.2M623.5 193.8V186.1M624.6 193.6V187.5M625.2 193.5V188.7M626.3 193.4V186.8M626.9 193.4V186.1M627.9 193.3V191.3M628.5 193.3V187.7M629.2 193.2V192.1M630.3 193.2V184.7M631.5 193.2V190.2M632.6 193.3V191.7M633.7 193.3V189.5M634.5 193.4V184.4M635.5 193.4V189.6M636.6 193.5V189.2M637.4 193.6V192.1M638.6 193.6V192.2M639.1 193.7V190.7M640.1 193.7V186.7M640.7 193.7V190.3M641.6 193.7V185.2M642.2 193.7V191.4M642.9 193.7V191.3M644.1 193.7V185.2M644.6 193.7V187.3M645.4 193.7V191.7M646.5 193.6V190.3M647 193.6V190.5M648 193.5V191.1M649.2 193.4V187.8M650.3 193.4V185.8M651.3 193.3V186.8M651.9 193.3V185.3M652.5 193.3V189.4M653.7 193.3V186.1M654.3 193.3V184.5M655.3 193.4V191.8M656.2 193.4V189.8M657.3 193.5V191.8M658.2 193.6V190.8M659.1 193.7V191.5M659.8 193.8V186.1M660.7 193.9V189.4M661.2 194V192.4M662.1 194.1V190.7M663.2 194.3V191.3M664.3 194.4V185.8M664.9 194.5V189.6M665.7 194.5V188.3M666.8 194.6V193.3M668 194.7V190.2M668.7 194.7V188.1M669.4 194.7V192.9M670 194.7V193.3M671.2 194.7V192.4M672.1 194.6V190.1M673.3 194.5V191.8M673.9 194.5V191.8M674.7 194.4V193.2M675.5 194.3V189.6M676.5 194.2V187M677.5 194.1V191.2M678.6 194V185.1M679.8 193.9V190.6M680.8 193.8V191.2M681.9 193.7V188.3M682.6 193.7V191.3M683.8 193.7V191.5M684.4 193.7V185.4M685.5 193.7V192.5M686.5 193.7V185.3M687.6 193.7V191.8M688.7 193.8V191.7M689.3 193.8V189.5M690.4 193.8V189.1M691.5 193.8V192.7M692.7 193.9V187M693.8 193.8V191.5M694.4 193.8V188.9M695 193.8V187.4M696 193.8V185M696.7 193.7V188.2M697.9 193.6V187.2M698.5 193.5V185.5M699.3 193.4V186.7M700.1 193.4V186.5M701.3 193.2V185.3M702.2 193.1V189.4M702.8 193V187.4M703.5 192.9V184.9M704.1 192.9V189M704.9 192.8V184.7M705.8 192.7V190.7M706.3 192.6V190M707.2 192.6V186.6M708.1 192.5V186.2M708.8 192.5V187.7M710 192.5V184.1M711 192.6V189.4M712.2 192.6V183.9M712.7 192.7V191.2M713.4 192.7V184.8M714.2 192.8V187.2M714.9 192.9V190.8M715.8 193V185.1M716.8 193.1V186M717.3 193.2V189.4M718.5 193.3V185M719.4 193.4V188.4M720.5 193.5V191.1M721.7 193.6V186.5M722.6 193.7V189.1M723.6 193.7V185.2M724.4 193.8V188.5M725.1 193.8V185.7M725.9 193.7V189.3M726.6 193.7V184.9M727.8 193.7V186.5M728.6 193.7V191.1M729.1 193.6V191.4M730 193.6V187.4M731.2 193.5V190.7M732.3 193.5V185M733.4 193.5V187.1M734.1 193.5V188.6M735.1 193.5V188.9M736.2 193.5V185.6M737.2 193.5V190.9M738.2 193.6V192.2M738.8 193.6V191.9M739.4 193.6V189.4M740 193.7V189.7M740.9 193.8V191.2M741.5 193.8V184.8M742.1 193.9V184.9M742.9 193.9V188.3M744 194V192.2M745.1 194.1V189.4M745.7 194.2V190.7M746.7 194.2V190.2M747.8 194.2V186.2M748.9 194.2V188.1M750 194.2V186.9M751.1 194.1V185.4M751.6 194.1V185.2M752.8 194V189.7M753.7 193.9V185.9M754.8 193.7V191.8M755.9 193.6V190.5M756.9 193.4V189.9M758 193.2V189.9M758.6 193.2V188.6M759.3 193.1V190.9M760.5 192.9V184.1M761.5 192.8V185.2M762.4 192.7V188.7M763.2 192.7V190.1M763.7 192.6V185M764.6 192.6V186.9M765.5 192.6V185.4M766.5 192.6V186M767.5 192.6V185.2M768.6 192.6V184.3M769.5 192.7V189.4M770.5 192.7V187.7M771.1 192.8V190.5M772.2 192.8V191.1M773.4 192.9V187M774.5 192.9V188M775.4 192.9V187.7M776.1 192.9V185.7M776.8 192.9V187M777.4 192.9V184.3M777.9 192.9V184.7M778.6 192.9V191.1M779.4 192.9V183.1M780.2 192.8V190.7M781 192.8V184.6M782.2 192.7V190.4M783.1 192.6V190.4M783.9 192.6V183.2M784.8 192.5V185.2M785.6 192.5V184.4M786.5 192.4V185.8M787.7 192.4V186M788.4 192.4V188.3M789.2 192.4V182.3M790 192.4V190.6M791.1 192.5V183.9M792.2 192.6V184.5M793.4 192.7V189.8M794.5 192.8V191M795.6 193V189.3M796.2 193V187M797.2 193.2V183.8M798 193.3V183.5M798.7 193.4V191.6M799.4 193.5V189.9M800.3 193.6V183.6M801.4 193.7V186.9M802 193.7V186.7M803 193.8V185.7M803.5 193.8V190.4M804.4 193.9V186.9M805.5 193.9V183.8M806.5 193.8V188.2M807.6 193.8V188M808.2 193.7V186.5M809.1 193.7V190.1M809.7 193.6V188.3M810.7 193.5V184.8M811.2 193.5V191.9M811.8 193.4V189M812.6 193.4V189.1M813.2 193.3V185.1M814.2 193.2V188.2M815 193.2V186.9M815.7 193.1V185.8M816.5 193.1V191.3M817 193.1V191.3M818.1 193V185.9M819 193V188.4M819.9 193V186.1M820.6 193V190.6M821.1 193.1V187.7M822.1 193.1V186M822.7 193.1V187.6M823.3 193.1V186.5M824.5 193.2V187.7M825.4 193.2V186.5M826.1 193.2V187.5M826.9 193.2V189.5M827.7 193.2V186.1M828.4 193.2V185.4M829.6 193.2V186.8M830.6 193.2V183M831.7 193.1V185.4M832.8 193V187.6M833.4 192.9V190.5M834.6 192.8V189.1M835.3 192.7V190M835.9 192.6V190.2M836.8 192.5V186.2M837.9 192.3V182.8M838.6 192.2V185.8M839.4 192.1V183.5M840.2 192V179M841.1 191.9V185.7M842.2 191.9V182.8M843.1 191.8V187.2M843.8 191.8V183.6M844.9 191.8V180.1M845.4 191.8V187.8M846.1 191.8V185.4M846.8 191.8V179.3M847.9 191.9V187.6M848.5 191.9V186.7M849.2 192V188.4M849.7 192V179.1M850.5 192.1V182.4M851.6 192.2V178.7M852.7 192.3V184.4M853.5 192.4V187.8M854.2 192.5V178.7M854.8 192.6V178.8M855.4 192.6V181.3M856.2 192.7V179.2M856.9 192.7V183.7M857.6 192.8V184.4M858.2 192.8V182.2M859.1 192.8V189.9M859.7 192.8V179.9M860.6 192.8V188.9M861.1 192.8V187.2M862.3 192.8V187.8M863.4 192.7V180.6M863.9 192.7V184.3M864.5 192.7V190.2M865.7 192.6V184.2M866.2 192.6V188.3M866.9 192.6V181M868 192.5V185.9M868.7 192.5V185.5M869.5 192.5V186.6M870.4 192.5V188.6M871.4 192.6V189.3M872.6 192.6V184.4M873.5 192.7V185.1M874.1 192.7V188.6M874.7 192.8V187.5M875.2 192.8V184.4M876.2 192.9V190.2M877.3 193.1V186.8M878.5 193.2V185.3M879.2 193.3V190.6M880.3 193.4V187.5M881.1 193.4V190.9M882.1 193.5V189.7M882.7 193.5V191.1M883.4 193.5V182.9M884.2 193.5V190.6M885.4 193.5V183.3M886.4 193.4V182.9M887.1 193.4V180M888.1 193.3V183M888.9 193.2V185.3M890.1 193V186.6M891.3 192.9V182.2M892.1 192.8V188M893.1 192.6V180.9M894 192.5V188.4M894.8 192.4V182.4M895.9 192.3V183.2M896.8 192.2V182.8M897.8 192.1V184.2M898.4 192V188.9M899.1 192V181.3M900 192V178.6M901.2 192V186M902.2 192V181.8M903.3 192V180.8M904.2 192V179.8M905.3 192.1V187.9M906.4 192.1V181.7M907 192.1V189.7M907.8 192.2V180.7M908.5 192.2V178.2M909.1 192.2V182.3M909.9 192.2V183.2M910.8 192.2V186.8M911.5 192.2V187.8M912.3 192.2V183.8M912.9 192.2V179M913.8 192.1V188.8M914.5 192.1V188.5M915.5 192V185.2M916.3 191.9V185.5M916.9 191.9V179.5M917.4 191.8V187.1M918.4 191.8V178.5M918.9 191.7V182.9M919.9 191.6V181.2M920.9 191.6V182.1M922.1 191.5V181.7M922.8 191.5V180.6M923.4 191.5V184.1M924 191.5V188.6M924.9 191.5V179.1M925.6 191.5V187M926.6 191.6V181.7M927.5 191.6V181.7M928 191.7V184.1M929.2 191.8V185.5M930.3 191.9V186.9M931 192V187.3M931.8 192.2V180.4M932.8 192.3V180.5M933.7 192.4V179.4M934.8 192.6V187M935.4 192.6V190.1M936.2 192.7V188.5M937 192.8V187.5M938 192.9V189.5M938.6 192.9V186.9M939.7 192.9V183.3M940.8 193V186.1M942 192.9V188.1M942.7 192.9V190.2M943.8 192.9V186M944.7 192.8V185.5M945.8 192.7V191.4M946.4 192.7V191.1M947.2 192.6V190.5M948.2 192.5V188.2M949.2 192.5V185.9M949.9 192.4V184.1M950.7 192.4V189.5M951.5 192.3V188.7M952.2 192.3V180.9M952.7 192.3V179M953.8 192.3V183.8M954.8 192.3V181.4M955.6 192.4V187.9M956.7 192.4V181.1M957.5 192.4V177.9M958.5 192.5V189.2M959.1 192.5V179.4M960.1 192.6V185.9M960.8 192.6V184.9M961.5 192.6V183.9M962.1 192.6V188.5M962.6 192.6V181.3M963.5 192.6V188.5M964.3 192.6V187.4M965 192.6V181M965.8 192.6V180.6M966.6 192.5V181.7M967.8 192.4V183.6M969 192.3V187.4M970 192.1V181M970.5 192.1V180.6M971.3 192V182.6M972.2 191.8V184.4M972.7 191.7V186.9M973.9 191.6V185.5M974.7 191.5V187.4M975.4 191.4V189.8M976 191.3V182.2M976.6 191.2V184.2M977.3 191.2V185.5M978 191.1V184.1M979.2 191V183.3M980.2 191V186.1M981.2 191V185.2M981.9 191V183.1M982.5 191.1V186.5M983.2 191.1V184.6M983.7 191.1V184.1M984.5 191.2V183.6M985.5 191.3V182.6M986.4 191.4V189.7M987.5 191.5V187M988 191.5V189.4M988.8 191.6V184.8M990 191.7V187.8M991.1 191.8V184.4M991.9 191.8V187.5M993 191.9V190.2M994.2 191.9V190.7M995.3 191.9V186.6M996.4 191.9V183.9M997.3 191.8V184.4M998.2 191.8V187M999.2 191.7V187.6M1000 191.7V187.9M1000.9 191.7V184M1001.9 191.6V190.3M1002.4 191.6V186.3M1003.3 191.6V189.7M1003.9 191.6V190M1004.6 191.6V188.7M1005.6 191.6V185.7M1006.1 191.6V188.1M1007 191.7V185.5M1007.8 191.7V187.7M1008.3 191.8V190.1M1009.3 191.9V184.1M1010.3 192V186.7M1011.4 192.1V189.9M1012.4 192.2V190.7M1013.3 192.3V187.4M1014.1 192.4V185.6M1015.2 192.5V186.8M1016.1 192.6V191.1M1016.6 192.6V191.6M1017.4 192.7V189.4M1018 192.7V189.7M1018.6 192.7V190.9M1019.4 192.8V184.3M1020.4 192.7V185.7M1020.9 192.7V187.6M1022.1 192.7V184.6M1022.6 192.6V189.2M1023.3 192.6V190.1M1023.9 192.5V189.6M1024.5 192.5V188.7M1025.7 192.3V184.2M1026.7 192.2V184.1M1027.4 192.1V186.6M1028.1 192V188.3M1028.6 191.9V185.1M1029.4 191.8V189.2M1030.3 191.7V187.7M1030.9 191.6V182.7M1031.8 191.6V189.2M1032.4 191.5V183.7M1033.6 191.4V189M1034.5 191.4V187.7M1035.1 191.4V185.2M1035.9 191.4V185.2M1036.8 191.4V185.6M1037.6 191.4V189.7M1038.7 191.4V190M1039.3 191.4V187.1M1040.5 191.4V186.1M1041.2 191.5V189.8M1041.9 191.5V185.4M1043.1 191.5V182.8M1044.2 191.5V182.8M1044.9 191.5V190M1045.9 191.5V190.4M1046.7 191.5V183.9M1047.4 191.5V188.6M1048.1 191.4V185.9M1049 191.4V188.1M1050.1 191.3V186.2M1050.9 191.2V190M1051.7 191.1V187.3M1052.3 191.1V183.1M1053.4 191V188M1054.1 190.9V183.7M1054.9 190.8V182.4M1056.1 190.7V184.4M1056.8 190.7V185.4M1057.7 190.6V182.8M1058.4 190.6V186.2M1059.2 190.6V183.3M1059.9 190.6V186.4M1060.4 190.6V182.7M1061 190.6V181.8M1061.6 190.6V189.5M1062.3 190.7V186.6M1063.4 190.8V182.1M1064 190.8V186.3M1064.7 190.9V185.1M1065.3 191V187.8M1066.2 191.1V183.5M1067.3 191.3V185.2M1068.4 191.4V188.6M1069.2 191.5V186.5M1069.8 191.6V189.3M1070.3 191.7V185.9M1071.2 191.8V187.3M1072.2 191.9V184.7M1072.9 191.9V185.7M1073.9 192V189.1M1075 192V189.8M1075.7 192V188.8" fill="none" stroke="#004586" stroke-width="1" stroke-opacity="0.45" stroke-linejoin="round"/>
<path d="M593.4 194.6V189.8M594.4 194.6V192.4M595.4 194.5V193M595.9 194.5V186.2M596.6 194.4V187.2M597.8 194.4V188.2M598.9 194.3V185.4M599.9 194.3V186.5M600.9 194.3V186.4M601.6 194.3V187.5M602.6 194.4V186.6M603.2 194.4V190.4M604.3 194.5V187.2M605.3 194.5V189.7M606.4 194.6V190.6M607.1 194.6V192.7M608 194.7V193.5M609.2 194.8V192.9M609.8 194.8V188.1M610.3 194.9V188.4M611.1 194.9V188.7M612.1 194.9V191.1M613.2 194.9V189.8M614.3 194.9V192.5M615.2 194.8V186M616.1 194.8V189.6M616.7 194.7V191.2M617.3 194.6V190.3M618.2 194.5V192.1M618.7 194.5V188.6M619.6 194.4V190.1M620.2 194.3V192.5M620.9 194.2V186.1M621.4 194.1V192.2M622 194V192.5M622.9 193.9V188.4M623.9 193.7V185.9M624.6 193.6V189M625.7 193.5V188.8M626.6 193.4V192.2M627.1 193.3V189.4M627.7 193.3V188.7M628.4 193.3V187.7M629 193.2V190.9M630.1 193.2V185.2M631 193.2V189.3M631.8 193.2V185.3M632.7 193.3V189.8M633.9 193.3V189.8M634.4 193.4V192.4M635.3 193.4V186.8M636 193.5V184.4M636.6 193.5V184.6M637.8 193.6V190M638.9 193.7V191.8M639.7 193.7V188.8M640.7 193.7V188.1M641.2 193.7V187.7M642 193.7V186.3M642.8 193.7V185M644 193.7V187.7M644.8 193.7V189.4M645.5 193.6V186.4M646.4 193.6V186.7M647.1 193.6V188.7M648.2 193.5V188.8M648.8 193.5V188.6M649.8 193.4V187.1M650.4 193.4V191.2M651.2 193.3V185.1M651.9 193.3V185.4M652.6 193.3V186.8M653.2 193.3V192.3M654.4 193.3V185.3M655.2 193.4V185.3M655.8 193.4V187.7M656.7 193.5V191.2M657.2 193.5V189.2M658.1 193.6V189.2M658.9 193.7V191.9M659.6 193.8V187.6M660.5 193.9V190.3M661.6 194V192.7M662.1 194.1V190.5M662.6 194.2V188.6M663.7 194.3V187.2M664.3 194.4V189.1M665.4 194.5V187.3M666.4 194.6V192.1M667.4 194.7V189.3M667.9 194.7V187M668.5 194.7V189.8M669.3 194.7V191.3M669.9 194.7V189.8M670.4 194.7V185.8M671 194.7V192.3M671.9 194.6V189.4M673 194.6V191.7M674.2 194.5V187.6M674.9 194.4V187.8M676 194.3V185.5M677.1 194.2V189.3M677.6 194.1V190.7M678.3 194V186.2M679 194V187M680 193.9V189.4M681 193.8V186M681.9 193.7V188.6M683 193.7V187M683.8 193.7V185.8M684.9 193.7V189.8M686.1 193.7V189M687.1 193.7V188.9M688.3 193.8V192.3M689.4 193.8V191.5M690.5 193.8V186.1M691 193.8V190.6M691.6 193.8V187.6M692.5 193.9V192.1M693.4 193.9V189.1M694 193.8V189.4M695.2 193.8V191M695.8 193.8V187.4M696.5 193.7V188M697 193.7V186.8M698 193.6V188.4M699.2 193.5V185.1M700.3 193.3V184.2M701.4 193.2V191.7M702.5 193.1V184.4M703.7 192.9V189.7M704.8 192.8V184.2M705.7 192.7V186.7M706.6 192.6V188.7M707.3 192.6V185.1M708.3 192.5V188.6M709.2 192.5V185.6M709.9 192.5V190.1M711 192.6V190.5M711.6 192.6V185.3M712.2 192.6V186M713.4 192.7V187.4M714.2 192.8V190.1M715.4 193V185.7M716.1 193V187.6M717.2 193.2V188.7M718 193.3V188M719 193.4V186.3M719.6 193.5V188.5M720.7 193.6V187.1M721.9 193.7V187.1M722.7 193.7V191.1M723.5 193.7V187M724.3 193.7V188.8M724.8 193.8V186M725.3 193.8V188.6M726 193.7V187.7M726.6 193.7V191.7M727.5 193.7V188M728 193.7V187.5M729.1 193.6V186.9M729.9 193.6V191.8M730.8 193.6V189.2M731.6 193.5V192.1M732.1 193.5V188.1M733 193.5V187.9M733.6 193.5V190.5M734.2 193.5V186.1M734.8 193.5V190.5M735.9 193.5V191.4M736.7 193.5V185.2M737.8 193.5V192M738.6 193.6V190.3M739.5 193.6V185.6M740.4 193.7V186.3M741 193.8V191.3M741.9 193.8V187.9M742.8 193.9V191.2M743.9 194V186.5M744.8 194.1V186.8M745.9 194.2V188.5M746.6 194.2V187.9M747.6 194.2V190.9M748.1 194.2V188.9M748.8 194.2V186.4M749.9 194.2V192.9M751.1 194.1V189.9M752.3 194V192.4M753.2 193.9V185.5M753.7 193.9V192.4M754.9 193.7V189.8M755.8 193.6V187.2M756.5 193.5V192.1M757.2 193.4V185.1M757.8 193.3V190.3M759 193.1V187.9M759.9 193V189.6M760.5 192.9V187.4M761.6 192.8V190.2M762.5 192.7V187.4M763.4 192.6V189.2M764.4 192.6V190.1M765.5 192.6V184.9M766.3 192.6V189.5M767.1 192.6V186.1M768.1 192.6V186.5M769.1 192.7V187.4M769.9 192.7V191.7M770.5 192.7V186.2M771.6 192.8V182.8M772.5 192.8V186.1M773.2 192.9V183.9M773.9 192.9V184.8M774.7 192.9V190.3M775.6 192.9V189.4M776.1 192.9V186M777 192.9V188.3M778.1 192.9V183.6M779.3 192.9V188.6M780.4 192.8V187.6M781.1 192.8V188.9M782.3 192.7V189M783 192.6V183.9M783.6 192.6V182.6M784.5 192.5V186M785.3 192.5V189.1M786.5 192.4V188.8M787.3 192.4V188.2M787.9 192.4V186.1M788.9 192.4V189.9M789.5 192.4V185.9M790.2 192.4V185.4M790.9 192.5V190.1M792 192.5V188.6M793.1 192.6V183.5M794 192.7V182.6M794.7 192.8V184.6M795.5 192.9V188.1M796.3 193V183.8M796.9 193.1V185.1M798 193.3V185.4M799.1 193.4V186.4M800.2 193.6V189.5M801.3 193.7V189.1M802.3 193.8V186.2M803.4 193.8V183.6M804.2 193.8V189.8M804.9 193.9V186.4M806 193.8V190.2M806.7 193.8V185.9M807.6 193.8V191.7M808.5 193.7V191.5M809.5 193.6V192M810.3 193.6V187M811 193.5V188.5M811.6 193.5V183.8M812.8 193.3V183M813.9 193.2V186.1M815 193.2V182.4M815.6 193.1V191.1M816.6 193.1V187.8M817.5 193V188.4M818.4 193V187M818.9 193V183.5M819.5 193V189.6M820.5 193V190.3M821.4 193.1V182.5M822.3 193.1V187.3M822.8 193.1V184.8M824 193.2V185M824.7 193.2V185.9M825.8 193.2V189.5M826.9 193.2V182.7M827.9 193.2V189.7M828.9 193.2V184.3M829.8 193.2V191.3M830.9 193.2V184.1M831.7 193.1V189.3M832.6 193V183.2M833.7 192.9V182.4M834.7 192.8V186.1M835.3 192.7V187.3M835.9 192.6V185.5M837.1 192.5V183.3M838.3 192.3V189.3M838.9 192.2V181.4M839.6 192.1V188.8M840.2 192V184.9M841 192V179.5M842 191.9V178.4M842.8 191.8V180M843.9 191.8V178.4M844.8 191.8V188.5M845.8 191.8V182.5M846.9 191.8V179.5M847.8 191.9V182.9M848.7 191.9V184M849.4 192V189.3M850.5 192.1V178.8M851 192.2V183.1M852 192.3V181.9M853 192.4V184.3M853.8 192.5V183.6M854.9 192.6V188M855.6 192.6V189.6M856.3 192.7V179.7M856.9 192.7V187.8M857.6 192.8V182.7M858.3 192.8V182.7M858.9 192.8V187.9M860 192.8V180M861.2 192.8V188.8M861.9 192.8V188.5M862.5 192.8V180.8M863.3 192.7V186.7M864.4 192.7V185.4M865.6 192.6V187.2M866.3 192.6V183.8M867.3 192.6V180.1M868.4 192.5V188.3M869.1 192.5V181.3M870.3 192.5V185.8M871.3 192.6V187.5M872.4 192.6V185.9M873.6 192.7V184.1M874.7 192.8V188.2M875.9 192.9V185M876.5 193V186M877.3 193.1V180.6M878.4 193.2V187.1M879.3 193.3V190.4M880 193.3V182.4M880.7 193.4V185.7M881.3 193.4V187.4M882.3 193.5V184.1M882.9 193.5V185.5M883.6 193.5V180.4M884.1 193.5V187.9M884.8 193.5V180.2M885.8 193.5V181.5M886.9 193.4V189.6M887.7 193.3V189.6M888.7 193.2V185.4M889.8 193.1V183M891 192.9V182.1M891.6 192.8V187.9M892.2 192.7V187.4M893.1 192.6V183.2M894.1 192.5V187.2M895.1 192.4V180.3M896.1 192.2V178.4M896.9 192.2V188.8M898 192.1V189.2M899 192V181.6M900.1 192V183.1M900.8 192V183.6M901.7 192V185.8M902.7 192V188.9M903.2 192V180.9M904.1 192V185.3M904.9 192.1V185.6M905.6 192.1V185.4M906.7 192.1V183.1M907.9 192.2V181.5M908.6 192.2V183.1M909.6 192.2V188.3M910.5 192.2V179.6M911 192.2V184.1M912.1 192.2V183.2M913.2 192.2V183.1M913.9 192.1V178.7M914.9 192V180M916.1 192V182.7M917.2 191.9V178M917.9 191.8V181.7M919.1 191.7V180.4M919.8 191.6V183.9M920.4 191.6V185.5M921.3 191.5V183.9M922.4 191.5V181.9M923.5 191.5V182.6M924.1 191.5V186.7M924.6 191.5V188.2M925.4 191.5V187.5M926.4 191.5V179.3M927.2 191.6V180.8M928.3 191.7V178.5M929.3 191.8V186.3M930.4 192V181.3M931.5 192.1V186.5M932.1 192.2V185.9M932.7 192.3V179.3M933.3 192.4V184M934.4 192.5V183.7M934.9 192.6V183.9M935.5 192.6V181.9M936.3 192.7V182.1M937.4 192.8V184.7M938.2 192.9V188M939.3 192.9V181.3M940.4 193V185.5M941.1 193V190.1M941.9 192.9V185.5M942.7 192.9V185.9M943.3 192.9V188.1M944.1 192.8V185.6M944.8 192.8V184.7M945.4 192.7V187.4M946.6 192.6V190.3M947.4 192.6V188.3M948.2 192.5V184.8M949.1 192.5V186.4M949.9 192.4V190.2M950.7 192.4V180.6M951.5 192.3V182.2M952.1 192.3V179.6M953.2 192.3V185.9M953.7 192.3V188.3M954.3 192.3V188.6M955.5 192.4V178.7M956.2 192.4V178.8M957.3 192.4V186M958.1 192.5V189.1M959.1 192.5V187.3M959.9 192.6V188.3M961 192.6V185M962 192.6V188.1M963 192.6V188.4M963.8 192.6V186.3M965 192.6V185.3M965.8 192.6V186.3M966.9 192.5V188.2M968 192.4V178.1M968.7 192.3V182.1M969.3 192.2V182.4M969.9 192.1V178.4M970.5 192.1V182M971.2 192V188.9M971.7 191.9V179.4M972.7 191.7V190.1M973.5 191.6V189.9M974.1 191.5V182.6M975.3 191.4V186.6M976 191.3V188.4M977 191.2V185.9M977.7 191.1V186M978.5 191.1V183.8M979.6 191V182.4M980.5 191V182.1M981.1 191V188.6M981.8 191V185.8M982.7 191.1V186.8M983.5 191.1V183.5M984.5 191.2V187.4M985 191.2V188.8M985.9 191.3V182.5M986.5 191.4V188.1M987.4 191.5V188.8M988.5 191.6V184.4M989.3 191.6V187.4M989.8 191.7V188.9M990.8 191.7V188.1M991.5 191.8V186.1M992.2 191.8V190.6M993.2 191.9V190.7M994 191.9V187.6M994.6 191.9V189.7M995.2 191.9V187.4M995.9 191.9V183.8M996.8 191.8V188.1M997.5 191.8V188.4M998.3 191.8V183.8M999.4 191.7V190.1M1000.6 191.7V189.1M1001.8 191.6V188.1M1002.3 191.6V187.3M1003 191.6V183.2M1003.8 191.6V187.2M1004.6 191.6V183.9M1005.4 191.6V182.6M1006.4 191.6V189.6M1007 191.7V188.5M1007.6 191.7V183.8M1008.3 191.8V184.7M1009.4 191.9V187.1M1010.2 191.9V186.2M1011.4 192.1V188.3M1012.2 192.2V185.6M1013.3 192.3V185M1013.9 192.4V190.2M1015.1 192.5V190.5M1016 192.6V190M1017.2 192.7V190.4M1018.3 192.7V188M1019.1 192.8V191.6M1019.8 192.8V186.5M1020.4 192.7V190.8M1021.4 192.7V189.7M1022.3 192.7V191.3M1023.1 192.6V189.6M1024.1 192.5V190.9M1024.8 192.4V184.8M1025.6 192.3V188.1M1026.3 192.2V186.9M1026.9 192.2V188.5M1027.4 192.1V184.8M1028.4 192V190.9M1029 191.9V184.9M1029.7 191.8V187.9M1030.8 191.7V189.3M1031.7 191.6V190.3M1032.2 191.5V188.7M1033.4 191.4V182.6M1034.4 191.4V182.7M1035.3 191.4V190.1M1035.8 191.4V188.4M1036.6 191.4V187.4M1037.2 191.4V184.6M1038.3 191.4V186.5M1039.2 191.4V189.8M1040 191.4V184.1M1040.8 191.5V188.2M1041.8 191.5V183.9M1042.5 191.5V186.4M1043.1 191.5V184.1M1043.8 191.5V189.1M1044.5 191.5V187.2M1045.5 191.5V187.4M1046.1 191.5V186.8M1046.8 191.5V186M1047.9 191.5V188.7M1049.1 191.4V183.8M1049.6 191.3V189.5M1050.5 191.3V186.1M1051.2 191.2V189.2M1052.1 191.1V182.6M1053 191V187.2M1053.8 190.9V188.8M1054.4 190.9V186.1M1055.4 190.8V189.7M1056.5 190.7V187.8M1057.2 190.6V182.6M1058 190.6V186M1058.5 190.6V187.2M1059.2 190.6V188.4M1060.4 190.6V183M1061.1 190.6V189.3M1061.6 190.6V182.3M1062.3 190.7V189.2M1063.1 190.8V185.3M1063.7 190.8V184.5M1064.3 190.9V183.2M1065.3 191V184.4M1066.1 191.1V182.1M1066.7 191.2V188.5M1067.8 191.3V189.9M1068.6 191.4V186M1069.3 191.5V186.7M1070.2 191.7V187.8M1070.8 191.7V183.3M1071.9 191.8V186M1072.6 191.9V189.9M1073.5 192V190.7M1074.3 192V190.3M1075.5 192V186.6" fill="none" stroke="#004586" stroke-width="1" stroke-opacity="0.45" stroke-linejoin="round"/>
<path d="M593.3 192.6V179.4M594.4 192.5V180.7M596 192.4V183.9M597.5 192.4V181.2M599.4 192.3V186M600.9 192.3V187.3M601.9 192.3V187.7M603.8 192.4V179.6M604.7 192.4V184.5M605.8 192.5V181.3M607.8 192.7V185.9M608.8 192.7V186.5M610 192.8V188.3M611.5 192.9V180.6M612.4 192.9V179.6M614.3 192.9V183.2M615.5 192.8V185.5M616.6 192.7V184.2M618.3 192.5V183.9M619.5 192.3V186.1M621.3 192.1V180.3M623 191.8V181.6M624.3 191.6V178.4M625.7 191.5V185.5M626.8 191.3V184.8M628.3 191.2V180.6M629.4 191.2V180.4M631.2 191.2V177.2M633 191.3V187.2M634.5 191.4V179M635.3 191.4V178.6M636.8 191.5V177.5M638.6 191.6V178.8M640.2 191.7V179.7M641.1 191.7V179.4M643 191.7V183M644 191.7V179.7M645.4 191.6V183.9M647 191.5V187.2M648.6 191.4V181M649.4 191.4V184.8M651.4 191.3V180.5M653.3 191.3V182.9M654.5 191.3V184.5M656.5 191.4V179.4M657.5 191.5V183.3M658.7 191.6V184.4M660.6 191.9V182.2M662 192.1V179M663.8 192.3V179M664.9 192.4V180.2M666.1 192.6V179.1M667.4 192.6V186M668.9 192.7V185.5M670.5 192.7V186.9M672.2 192.6V186.6M673.8 192.5V179.9M674.9 192.4V184M676.5 192.2V181.5M677.6 192.1V187.5M679.5 191.9V179.7M681.3 191.8V183.6M682.6 191.7V187.3M684.1 191.7V179.3M686.1 191.7V180.2M687.6 191.7V183M688.8 191.7V182.2M689.9 191.8V180.4M691.4 191.8V186.7M692.9 191.8V187.6M693.8 191.8V186.9M695.1 191.8V182.7M696 191.7V183.7M697.4 191.6V181.1M698.3 191.5V178.8M700 191.4V186.4M701.1 191.2V183.6M702.8 191V184.2M704.3 190.8V181.4M706.1 190.6V180.6M707.2 190.6V177.1M709.1 190.5V183.3M710.6 190.5V178.7M711.8 190.6V180.6M712.8 190.7V178.2M714 190.8V177.4M715.2 190.9V184.6M716.4 191.1V183.1M717.6 191.2V180.3M719.3 191.4V180.5M721.2 191.6V185M722.4 191.7V177.8M724.3 191.7V179.3M725.5 191.7V187.2M727.1 191.7V180.4M728 191.7V179.5M729.1 191.6V183.2M729.9 191.6V186.8M730.8 191.5V181.7M732 191.5V184M733.5 191.4V178.4M734.5 191.4V183.1M735.6 191.4V181M736.6 191.5V184.1M737.9 191.5V185.6M739 191.6V180.4M739.9 191.7V181.2M740.9 191.7V187.4M742.4 191.9V181.2M743.6 192V185.8M744.5 192V179.4M745.4 192.1V186.7M746.7 192.2V184.8M747.7 192.2V180.4M748.8 192.2V187.4M750.3 192.2V185.8M751.2 192.1V181.3M752.3 192V177.9M753.7 191.8V185.5M754.9 191.7V180.7M756 191.5V184M757.7 191.3V177.5M759.3 191V185.3M760.4 190.9V184.6M761.3 190.8V178.7M763.1 190.6V180.6M764.3 190.6V178.1M765.7 190.6V179.3M767 190.6V180.1M767.9 190.6V178.8M768.8 190.6V182.4M769.8 190.7V181.1M771.5 190.8V174.9M773.3 190.9V177.3M775.1 190.9V176.4M776.1 190.9V180.7M777.5 190.9V175.2M779.3 190.8V174.1M780.7 190.8V173.9M782.2 190.7V183.4M783.4 190.6V174.3M784.7 190.5V179.9M785.7 190.4V181.1M787.5 190.4V174.9M788.4 190.4V183.9M789.7 190.4V184.8M790.7 190.4V185M792.3 190.5V178.2M794.3 190.8V180.7M796 191V184.2M796.9 191.1V178.7M797.8 191.2V182.2M799.5 191.5V182.8M801.1 191.6V174.9M802.7 191.8V183.5M803.7 191.8V184.9M805.2 191.8V183.1M807 191.8V179M808.3 191.7V178.9M810.2 191.6V181.3M811.7 191.4V176.1M813.6 191.2V180.8M814.6 191.2V174.5M815.9 191.1V175.1M817.8 191V174.1M819.2 191V178.8M820.4 191V179.3M822.3 191.1V177.6M823.2 191.1V183.5M825.1 191.2V182.5M826.6 191.2V182.6M828.5 191.2V176.1M829.7 191.2V177.4M831.2 191.1V184.7M832.4 191V178.4M834.1 190.8V179.2M835.6 190.6V182M836.7 190.5V178.1M838 190.3V184.7M839.7 190.1V168.7M841.6 189.9V173M842.9 189.8V173.5M844.2 189.7V171.9M845.6 189.7V180.5M847.4 189.8V177.3M849 189.9V177.6M850 190V181.1M851.8 190.2V178.1M853.1 190.4V179.5M854.5 190.5V177.9M855.5 190.6V172.4M856.7 190.7V173.2M858 190.7V176.4M859 190.8V169.2M860.2 190.8V178.7M862 190.8V176.3M863 190.7V177.9M864.2 190.7V174.6M866.1 190.6V175M868 190.5V179.7M869.8 190.5V173.3M871.3 190.5V182.8M873.2 190.7V182.2M874.8 190.8V182.5M875.6 190.9V181.2M876.8 191V181M878.2 191.1V179.3M879.4 191.3V180.8M881.3 191.4V173.2M883.1 191.5V177.3M884.4 191.5V182.8M885.9 191.4V174.2M887.4 191.3V171M888.9 191.2V173.4M890.2 191V181.5M891.7 190.8V170M892.8 190.6V168.4M894.5 190.4V173M895.7 190.3V170.7M897.7 190.1V180.3M898.6 190V178.7M900.1 190V176.5M901.8 189.9V170.5M902.6 190V171.6M904.1 190V179M905.8 190.1V181.1M907 190.1V173.9M907.9 190.2V173.2M909.1 190.2V172.3M910.1 190.2V173.4M911 190.2V176.3M912 190.2V176.1M913.7 190.1V179.9M914.9 190V171.9M916.1 189.9V178.2M917.6 189.8V179.1M918.4 189.7V170.9M919.6 189.6V178.3M921.4 189.5V168.4M922.7 189.5V174.7M924.2 189.4V169.7M925.2 189.5V179M927 189.6V172.7M928.7 189.7V177.3M929.7 189.8V170M931.4 190.1V170.8M932.4 190.2V169.8M933.6 190.4V172.2M935.2 190.6V172.2M936.7 190.7V179.8M938.4 190.9V182.2M940.1 190.9V183.9M941.5 190.9V182.4M943.2 190.9V179.8M944.2 190.8V177.4M946 190.7V183.6M947.9 190.5V185.3M949.3 190.4V177.3M950.3 190.4V169.3M952.3 190.3V174.2M954 190.3V172.4M955.8 190.3V172.5M957 190.4V168.5M957.9 190.4V168.2M959.8 190.5V176.1M960.9 190.6V176.6M962 190.6V178.9M963.4 190.6V173.6M965.1 190.6V173.8M966.6 190.5V172.6M967.9 190.4V169.6M969.9 190.1V172.2M970.9 190V175.3M972.2 189.8V176M973.4 189.6V182M974.4 189.5V179.1M976.3 189.2V178.8M977.3 189.1V177.7M979.3 189V175.4M980.8 189V182M981.9 189V178.5M983.3 189.1V178.8M985 189.2V183.7M986.3 189.3V178.9M988.3 189.5V175.8M989.8 189.7V180.4M991.3 189.8V177.8M992.9 189.8V177.8M994.2 189.9V179.9M995.8 189.8V180.1M997 189.8V179.7M999 189.7V177.4M1000.1 189.7V183.6M1001.7 189.6V182.6M1003.7 189.6V185.4M1005.5 189.6V183.7M1007.2 189.7V178.8M1008.3 189.7V181M1010.3 189.9V184.2M1011.7 190.1V182.3M1013.2 190.3V185.7M1014.9 190.5V184.2M1016.5 190.6V184.5M1017.9 190.7V178.5M1019.1 190.7V177.5M1020.7 190.7V183.1M1021.8 190.7V183.1M1023.5 190.5V184.6M1025.1 190.4V182.4M1026.3 190.2V177.6M1027.9 190V183.9M1029.8 189.7V179.3M1031.2 189.6V178.4M1032.9 189.4V176M1034.2 189.4V184.5M1035.1 189.3V179.8M1036.3 189.3V183.3M1037.4 189.3V178.1M1039.1 189.4V184M1040.5 189.4V180M1041.5 189.5V178.8M1043.3 189.5V177.4M1044.8 189.5V181M1046 189.5V176.2M1047.5 189.5V176.1M1049.4 189.3V179.9M1050.2 189.3V183.8M1051.3 189.2V180.1M1052.8 189V184.3M1053.6 188.9V183.6M1055.6 188.7V174.7M1057.6 188.6V179.6M1059 188.6V183.1M1060 188.6V176.7M1061.7 188.6V182.7M1062.6 188.7V177.1M1063.9 188.8V175.3M1065.6 189V182.6M1067 189.2V185M1068.1 189.4V181.4M1069.8 189.6V176.2M1071.6 189.8V180M1072.6 189.9V182.4M1073.8 190V179.1M1075.4 190V185.6" fill="none" stroke="#004586" stroke-width="1" stroke-opacity="0.32" stroke-linejoin="round"/>
<path d="M593.5 192.6V184.4M595.2 192.5V178.7M596.3 192.4V180.9M597.2 192.4V185M598.9 192.3V182.3M600.3 192.3V182M601.9 192.3V181M603.4 192.4V184.3M604.6 192.4V179.6M606.4 192.6V185.8M607.8 192.7V181.4M609.6 192.8V180.7M611.1 192.9V184.4M611.9 192.9V187.2M613.6 192.9V181M615.2 192.8V179.1M616.2 192.7V187.8M618 192.5V184M619.5 192.3V183.4M621.3 192.1V185.2M622.8 191.8V178.4M624.4 191.6V179.4M625.2 191.5V181.2M626.5 191.4V185.9M628.5 191.2V179.7M629.8 191.2V184.1M631.3 191.2V182.7M632.2 191.2V178M633.4 191.3V187M635.1 191.4V183.2M636.1 191.5V180.4M637.1 191.5V187.3M638.8 191.6V186.2M640 191.7V180.1M641.9 191.7V179M643.1 191.7V178.6M644.5 191.7V181.2M645.3 191.6V182.6M646.9 191.5V187M647.8 191.5V182.2M649.3 191.4V182.9M650.6 191.3V177.4M651.7 191.3V179M652.5 191.3V181.4M653.6 191.3V186.7M655.1 191.3V181.9M656.4 191.4V180.8M658.3 191.6V184.3M659.8 191.8V184.7M661.4 192V178.6M663 192.2V180.6M663.8 192.3V185.4M665.6 192.5V183.2M666.6 192.6V183.8M668.6 192.7V181.4M669.4 192.7V179.2M671.4 192.6V186.7M672.9 192.6V179.9M674.4 192.4V179.4M676.2 192.2V184.1M677.2 192.1V185.7M678.4 192V183M679.8 191.9V181.9M681.4 191.7V184.1M682.5 191.7V179.9M683.6 191.7V185.4M685.5 191.7V177.9M687 191.7V179.8M688.3 191.7V181.9M690 191.8V185.3M691.8 191.8V185.3M693.6 191.8V187.6M695.3 191.8V182.1M697.3 191.6V185M698.4 191.5V183.2M699.2 191.4V184.5M700.1 191.3V182.1M701.8 191.1V184.2M703.4 190.9V185.2M704.4 190.8V179.9M705.3 190.7V178.2M707 190.6V178.1M708.5 190.5V178.7M709.7 190.5V180.5M710.7 190.5V183.3M711.8 190.6V177.6M713 190.7V179.4M714.1 190.8V176.9M715 190.9V178.7M716.3 191V183.3M717.7 191.2V183.5M719.1 191.4V185.2M720.7 191.5V183.9M721.6 191.6V180.4M723.2 191.7V180.8M724.5 191.7V185.7M725.7 191.7V184.1M727 191.7V178.1M728.4 191.6V180.3M730 191.6V187.3M731 191.5V185.2M732.1 191.5V187.2M733.1 191.5V183.5M734.7 191.4V186.1M736.1 191.4V185.3M737.4 191.5V180.1M739 191.6V184M740.9 191.7V186.8M742.2 191.9V187.4M743.1 191.9V184.1M744.2 192V183.5M746.2 192.2V184.1M747.3 192.2V184.1M749.2 192.2V179.2M750.5 192.1V184.2M752 192V181.2M752.9 191.9V186.6M754.2 191.8V181.8M756 191.5V178.7M757.8 191.2V186.1M759.7 191V185.6M760.9 190.8V177.1M762 190.7V179.5M764 190.6V186.4M765.1 190.6V182.4M766.8 190.6V181M768.6 190.6V180.5M770.3 190.7V180.8M771.2 190.8V174.9M772.2 190.8V177.4M773.6 190.9V180.3M774.8 190.9V179.3M776.7 190.9V184.7M778.2 190.9V174.7M779.8 190.8V174.1M780.8 190.8V181M781.7 190.7V174.8M783 190.6V175M784.8 190.5V182.4M786.5 190.4V180.3M788 190.4V185M790 190.4V175.5M791.9 190.5V178.8M793.7 190.7V176.3M794.5 190.8V183.3M796.2 191V175.1M797 191.1V181.2M798.9 191.4V179.1M800.8 191.6V179.8M802.1 191.7V176.5M804.1 191.8V183.5M805.1 191.8V182.6M806.6 191.8V185.6M807.8 191.7V179M809 191.7V180.7M810.5 191.5V179.5M812.3 191.4V179.7M814 191.2V182.6M815.3 191.1V179.2M817.3 191V180.4M818.8 191V183.8M820.2 191V176.2M821.1 191V182.9M822.4 191.1V176.1M823.8 191.1V179.8M825 191.2V183.3M826 191.2V175.6M827.8 191.2V184M829.5 191.2V180M831 191.1V180.9M832.6 191V176.4M833.6 190.9V178.7M834.7 190.8V179.2M836.5 190.5V183.1M837.6 190.4V179.8M838.9 190.2V171.9M839.8 190.1V181.4M841.1 189.9V167.7M843.1 189.8V176.3M844.6 189.7V175.7M846 189.7V179.6M847 189.8V175.6M847.9 189.8V174.3M849.5 190V182M850.8 190.1V179.3M852.1 190.2V169.3M853.1 190.4V171.5M854.5 190.5V175.3M855.3 190.6V181.2M857.3 190.7V179.6M859 190.8V173.8M860.2 190.8V170.9M861.9 190.8V168.7M863.5 190.7V175.4M864.7 190.6V176.4M866 190.6V182.7M867.3 190.5V168.9M868.4 190.5V180M869.9 190.5V173M870.9 190.5V169.2M872.1 190.6V178.3M873.8 190.7V178.7M874.7 190.8V179.5M875.8 190.9V170.4M877.7 191.1V176.1M879.3 191.2V174.4M880.1 191.3V172.6M881.1 191.4V180.6M882.2 191.5V177M883.5 191.5V175.4M885.3 191.5V174.9M887 191.4V176.4M888.7 191.2V170.2M889.5 191.1V176.6M891 190.9V176.6M892.5 190.7V181.8M894.2 190.4V170.2M895.6 190.3V170.4M897.6 190.1V176.6M898.6 190V181.5M899.7 190V172.3M901 189.9V167.9M902.6 190V181.2M904 190V170.1M905.6 190.1V175.1M906.4 190.1V169.3M907.6 190.1V179.6M908.5 190.2V182.4M910.3 190.2V170.3M911.3 190.2V177.3M912.2 190.2V171.8M913.8 190.1V178M915.2 190V174.6M916.2 189.9V176.2M917.3 189.8V174.5M919.1 189.7V171.2M920.7 189.6V170.6M921.6 189.5V180.2M923.2 189.4V171.3M924.9 189.5V179.5M926.4 189.5V171.9M927.2 189.6V172.7M928.2 189.7V178.2M929.7 189.8V180.7M931.1 190V170.6M932.4 190.2V177.2M933.5 190.4V168.8M934.7 190.5V182.6M935.9 190.7V178.5M937.9 190.8V180M939.7 190.9V182.9M941 190.9V181.3M942.8 190.9V186.1M944.1 190.8V179.5M945.9 190.7V176.7M946.9 190.6V179.7M948 190.5V184.6M949.9 190.4V180.3M951.6 190.3V178.1M953.4 190.3V170.2M954.4 190.3V172.5M955.3 190.3V172.5M956.5 190.4V173.8M957.3 190.4V168.3M958.5 190.5V176.7M960.4 190.6V168.5M961.9 190.6V175.3M962.7 190.6V182.5M964.3 190.6V175.8M965.7 190.5V181.7M967.1 190.4V174.1M968.1 190.3V175.5M969.2 190.2V167.3M970.8 190V166.8M971.9 189.8V181.3M973.2 189.6V184.7M974.6 189.4V179.7M976.4 189.2V175.1M978.1 189.1V178.2M978.9 189V175.5M980.2 189V175.8M981.1 189V175.9M982 189V177.9M983 189.1V179.7M984.6 189.2V184.7M985.8 189.3V182.9M987 189.4V185.2M988.9 189.6V179M989.7 189.6V181.6M991.3 189.8V183.3M992.4 189.8V176.4M993.9 189.8V176.4M995 189.9V176.3M996.2 189.8V184.3M997 189.8V182.2M998.2 189.8V176.4M1000.1 189.7V180.8M1001 189.6V181.1M1002.5 189.6V178M1003.3 189.6V183.2M1005.2 189.6V182.2M1007 189.6V185.2M1008.8 189.8V177.7M1010.2 189.9V182.7M1011.4 190.1V181.6M1013.1 190.3V179.7M1014 190.4V178.2M1015.6 190.5V183.3M1016.8 190.6V183M1018.6 190.7V182.9M1020.3 190.7V180.3M1021.9 190.7V179.2M1023.1 190.6V181.2M1024.4 190.4V180.6M1026.1 190.2V183.1M1027.3 190.1V183.6M1028.7 189.9V183.9M1029.6 189.8V176M1030.6 189.7V180.1M1031.5 189.6V179.9M1032.8 189.5V179M1034.6 189.4V180.5M1036.3 189.3V183.1M1037.8 189.3V181.4M1039.4 189.4V183.5M1040.3 189.4V176.6M1041.3 189.5V184.7M1042.1 189.5V178.8M1043.8 189.5V176M1045.5 189.5V177M1047.2 189.5V175.8M1049.1 189.4V184.9M1050.9 189.2V180.9M1052.4 189.1V177.1M1053.4 189V177.2M1054.2 188.9V181.6M1055.4 188.8V179M1056.8 188.7V174.6M1058.5 188.6V176.1M1060.3 188.6V181M1062.2 188.7V179M1063.3 188.7V182.2M1065.1 188.9V183.4M1066.8 189.2V184.4M1068.2 189.4V178.7M1069.8 189.6V184.5M1071.5 189.8V177.9M1072.5 189.9V183.3M1073.8 190V178.1M1074.9 190V177.3" fill="none" stroke="#004586" stroke-width="1" stroke-opacity="0.32" stroke-linejoin="round"/>
<path d="M593.9 192.6V185.9M595.2 192.5V185.4M597.1 192.4V186.1M598.4 192.3V183.5M599.3 192.3V185.8M600.8 192.3V187.1M601.7 192.3V187M603.2 192.4V188M604.9 192.5V182.9M606.3 192.6V188.3M607.2 192.6V181.6M608.2 192.7V181M610.2 192.8V185.8M611.4 192.9V180.7M613 192.9V181.2M614.7 192.8V179.3M616.7 192.7V182.9M618.2 192.5V180.6M619.4 192.4V185.5M620.9 192.1V183.7M622.1 192V184.3M623.9 191.7V186.8M625.3 191.5V180.8M626.9 191.3V177.3M628.7 191.2V178.2M630 191.2V184.7M631.9 191.2V180.1M632.8 191.3V181.9M634 191.3V180.9M635.6 191.4V184.5M637.1 191.5V181.6M638.1 191.6V180.3M639.3 191.7V178.2M640.4 191.7V185.9M642.1 191.7V179M643.3 191.7V181M644.7 191.7V183.4M646.3 191.6V183.9M647.6 191.5V184M648.7 191.4V181.8M650.7 191.3V179.9M651.5 191.3V179.4M653.3 191.3V184.4M654.4 191.3V180.7M656 191.4V184.9M657.4 191.5V184.7M659.2 191.7V183.3M660.6 191.9V183.9M661.6 192V185.1M662.7 192.2V184.3M663.8 192.3V183.8M665.6 192.5V179.8M666.7 192.6V184.2M668.5 192.7V187.1M670 192.7V185.4M670.9 192.7V186.3M672.4 192.6V180.2M673.9 192.5V185.5M675.1 192.3V178.9M676.1 192.2V185M677.4 192.1V183.9M678.6 192V182.4M679.8 191.9V183.9M681.7 191.7V179.9M683.6 191.7V185M685 191.7V185.6M685.9 191.7V186.5M687.8 191.7V178M689 191.8V180.7M690.7 191.8V185.8M691.9 191.8V184.8M693.6 191.8V180.3M695.2 191.8V184.7M696.8 191.7V186.4M698.7 191.5V178.7M700.5 191.3V181.9M702.2 191.1V178.4M704 190.8V182.5M705.3 190.7V177.1M706.9 190.6V182.7M708.2 190.5V181.2M709.9 190.5V183.1M711.2 190.6V182.4M712.3 190.6V179.9M713.5 190.7V181.8M715.5 190.9V184.9M717.4 191.2V186.1M719.1 191.4V182.8M720.2 191.5V179.2M721.2 191.6V182.5M722.2 191.7V183.9M723.5 191.7V177.6M725.3 191.7V180M726.4 191.7V186.1M728.2 191.7V181.9M729.8 191.6V180.8M731.3 191.5V181M732.9 191.5V184.9M733.8 191.4V186M735.1 191.4V177.6M736.2 191.4V184.8M737.3 191.5V187.1M738.1 191.5V179.5M739.8 191.6V180.8M741.7 191.8V185.7M743.6 192V187.1M744.9 192.1V182.2M746.7 192.2V186.9M748.4 192.2V184M750 192.2V179.2M751.6 192.1V178.2M753.5 191.9V178.5M755.3 191.6V187.1M756.5 191.4V181.7M757.6 191.3V185.8M759.5 191V179.9M761 190.8V176.7M762.6 190.7V179.5M764.2 190.6V184.5M765.1 190.6V186.1M766.2 190.6V179.3M767.8 190.6V179.4M768.7 190.6V185.1M770.1 190.7V182.5M771.7 190.8V176.2M772.5 190.8V176.1M774 190.9V182M775.1 190.9V182M776.2 190.9V182M777 190.9V181.4M778.9 190.9V180.2M779.8 190.8V179.5M781.6 190.7V178.7M782.9 190.6V178.6M784 190.5V174.8M785 190.5V178.3M786.9 190.4V183.5M788 190.4V178.3M789.3 190.4V181.8M790.8 190.4V182.5M792.6 190.6V179.9M794 190.7V182.3M795.8 191V179.6M796.7 191.1V181.8M797.6 191.2V177.6M799.2 191.4V176.9M800.2 191.5V175.4M801.8 191.7V178.1M803.2 191.8V178.5M804.7 191.8V185.6M806.6 191.8V182.2M807.8 191.7V178.5M809.1 191.7V181.1M810.4 191.5V180M812.3 191.4V185.1M813.2 191.3V183.4M814.9 191.1V181.1M816.8 191V180M818.6 191V180.7M820.6 191V178.2M822.5 191.1V178.2M824.4 191.1V175.9M826 191.2V177.4M827.6 191.2V174.8M828.8 191.2V176.4M830.6 191.2V175.6M832.3 191V175.9M834 190.8V181.3M835.5 190.6V181.4M836.4 190.5V178.8M837.4 190.4V181.6M839.3 190.1V175.1M840.6 190V171.1M842.1 189.8V174.9M843.7 189.7V169.9M845.7 189.7V174.8M846.5 189.8V173.2M847.7 189.8V169M848.8 189.9V170.5M849.9 190V179.7M850.9 190.1V171.3M852.5 190.3V171.8M853.4 190.4V176.7M855.1 190.6V176.5M857 190.7V169.1M858.8 190.8V179.3M860.3 190.8V182M861.8 190.8V178.9M863 190.7V181.4M864.2 190.7V179.9M865.3 190.6V180.4M866.6 190.6V169.7M868.1 190.5V175.9M869.9 190.5V170.7M871.4 190.6V178.9M873.3 190.7V168.6M875.2 190.8V175.6M877 191V178.7M878.7 191.2V174.8M880 191.3V171.4M881.6 191.4V175.1M883.4 191.5V179.3M884.5 191.5V175.7M886.4 191.4V177M888 191.3V169.5M889.9 191.1V171.5M891.5 190.8V180.6M893.5 190.5V173M894.8 190.4V179M896.4 190.2V172.2M897.8 190.1V173.9M899.1 190V173.7M900 190V169.5M901.1 189.9V177.9M902.6 190V172.6M903.9 190V168.2M905.1 190V177.7M907 190.1V179.8M908.2 190.2V174.5M909.9 190.2V180.2M911.1 190.2V175.6M912.3 190.2V175M914.2 190.1V180.7M915.5 190V173.1M917 189.9V180.5M917.8 189.8V180.4M918.7 189.7V168.9M919.7 189.6V172.4M921 189.5V171.5M922.9 189.5V168.3M924.1 189.4V172.1M925.5 189.5V167.5M927.3 189.6V168M928.4 189.7V179.7M930.2 189.9V167.7M931.4 190.1V171.5M932.3 190.2V179M934.2 190.5V173.3M936.2 190.7V180.3M937.2 190.8V179.3M938.2 190.9V182.6M940.1 190.9V185.7M942.1 190.9V180.4M944 190.8V182.3M945.6 190.7V180.8M947.3 190.6V180.1M948.5 190.5V183.7M949.6 190.4V185.3M950.7 190.4V170.7M951.8 190.3V179.6M953.2 190.3V178.3M954 190.3V171.4M955.2 190.3V175.1M956.2 190.4V171.5M958 190.4V178.7M959.4 190.5V180M961 190.6V174.7M962.5 190.6V177.4M963.8 190.6V176M964.8 190.6V174.9M966.4 190.5V172.4M968.4 190.3V179.1M970.2 190.1V175.1M972.1 189.8V184.8M973.7 189.6V182.9M974.9 189.4V178.4M976.2 189.2V181M977.2 189.1V180.1M978.2 189.1V176.7M979.3 189V180.1M981.1 189V178.1M982.8 189.1V183.4M984.7 189.2V180.1M985.5 189.3V175.4M986.9 189.4V179.5M988.2 189.5V176.2M989.9 189.7V176.7M991.3 189.8V180.4M993.1 189.8V184.4M994.7 189.9V177.4M996.5 189.8V182.3M997.5 189.8V177.1M999 189.7V177.1M1000.4 189.7V176.4M1001.2 189.6V179.8M1002.8 189.6V184.1M1004.5 189.6V185M1006.2 189.6V179.2M1008.2 189.7V176.8M1009.5 189.8V183.3M1010.7 190V181.2M1012 190.1V180.9M1013.7 190.3V185M1014.9 190.5V185.2M1016.7 190.6V180M1017.9 190.7V179.3M1019.5 190.7V186.2M1021.3 190.7V182.1M1022.9 190.6V179.7M1024.9 190.4V181M1026.1 190.2V185.8M1027.2 190.1V183.8M1028.8 189.9V185.2M1030.5 189.7V182.8M1031.5 189.6V179.8M1033.2 189.4V183.7M1034.6 189.4V182.4M1036.1 189.3V180.2M1037.8 189.3V181.9M1038.8 189.4V179.3M1040.5 189.4V182M1041.7 189.5V178M1043.5 189.5V179M1044.5 189.5V176M1045.9 189.5V181.8M1047.5 189.5V177.4M1048.8 189.4V183.2M1050.5 189.2V184.8M1051.5 189.1V177.3M1053.3 189V183.1M1054.1 188.9V176.7M1056 188.7V181.1M1057.4 188.6V175.1M1058.9 188.6V177.7M1060.7 188.6V179.8M1062 188.6V177.5M1063 188.7V176.2M1064.8 188.9V178.7M1066 189.1V178.5M1067.9 189.3V179M1069.6 189.6V175.7M1070.8 189.7V183M1072.5 189.9V176.5M1073.5 189.9V183.8M1075.3 190V182.5M1076.1 190V182.6" fill="none" stroke="#004586" stroke-width="1" stroke-opacity="0.32" stroke-linejoin="round"/>
<path d="M593.6 188.5V177.1M596.4 188.4V174.8M600.6 188.3V174.3M604.6 188.4V179.1M609.4 188.7V175.7M613 188.8V172.2M615.8 188.7V178.3M619.9 188.2V174.2M623 187.8V176.7M626.5 187.3V179.2M629.6 187.2V171.1M631.9 187.2V171.4M636.8 187.5V176M640.5 187.6V176.2M643.9 187.6V175.4M647.1 187.5V171.5M650.3 187.3V177.7M655.2 187.3V175M659.5 187.7V176.4M662.3 188.1V176.5M665.7 188.5V178.9M669.6 188.7V173.5M673.8 188.4V179.2M678.8 187.9V175.4M681.9 187.7V172.7M685.1 187.6V176.6M689.9 187.7V178.1M692.2 187.8V172M696.3 187.7V176.2M700.5 187.2V176M704.4 186.8V172.2M709.4 186.5V170.5M712.9 186.6V177.6M716.5 187V178.1M720.2 187.4V170.9M724.2 187.7V175M728.3 187.6V178.3M732.4 187.4V174M736.4 187.4V174.2M741.4 187.7V171.8M744.9 188V174.3M748.9 188.2V171.3M753.8 187.8V178.3M756.9 187.3V175.2M760.6 186.8V173.7M763 186.6V177.7M765.6 186.5V171.3M770.4 186.7V170.9M775.4 186.9V174.1M777.9 186.9V166.3M782.3 186.6V174.8M785.8 186.4V172.9M789.3 186.3V167M794.2 186.7V173.8M798.5 187.3V167.3M802.5 187.7V171M806.6 187.8V172.6M810.4 187.5V171.2M814.8 187.1V174.5M819.5 187V168.7M824 187.1V174.8M826.5 187.2V170.3M829.3 187.2V168.5M832.1 187V167.9M836.5 186.5V165.6M841 185.9V164.1M843.2 185.7V163.5M847.6 185.8V158M849.9 186V163.9M852 186.2V160.2M855 186.5V159.3M860 186.7V166M862.6 186.7V166.5M867.1 186.5V168.3M870.5 186.5V169.5M874.1 186.7V166.1M876.5 186.9V159.3M880.5 187.3V164.6M882.9 187.4V167.2M886.9 187.3V160.6M889.1 187.1V161.4M892.1 186.7V160.9M896 186.2V168.4M899 185.9V163.9M902.7 185.9V160.9M907 186.1V158.5M911.7 186.1V163.4M916.4 185.9V160.6M920.3 185.5V168.1M924 185.4V162.5M926.8 185.5V157.8M928.9 185.7V163.7M931 186V158.8M934.3 186.4V164.9M936.9 186.7V168.5M940.2 186.9V169.9M945 186.7V175.7M949.6 186.4V171.9M952.1 186.3V164.5M957.1 186.3V161.4M961.4 186.5V159.7M964.6 186.5V162.9M966.7 186.4V159.4M969.2 186.2V161.5M973 185.6V170.1M976.4 185.2V176M980.3 185V174.1M984.6 185.1V175.6M988.4 185.5V173.6M992.2 185.8V169.4M995 185.8V176.1M999.2 185.7V174.9M1001.2 185.6V169.9M1004 185.5V175.6M1006.2 185.6V169.5M1008.4 185.7V171M1012.4 186.1V174M1015 186.4V170.8M1019.4 186.7V173.7M1024.4 186.4V172.9M1028.8 185.8V171.9M1031.4 185.5V172.3M1036.1 185.3V168.5M1038.5 185.3V170.7M1042.1 185.4V171.5M1045.3 185.5V169.5M1048.4 185.4V170.7M1051.5 185.1V172.9M1055.3 184.7V168.2M1058.6 184.5V175.6M1061.4 184.6V174M1066.4 185.1V173.2M1069.1 185.4V173.9M1071.1 185.7V172.1M1075.1 186V176.4" fill="none" stroke="#3566a8" stroke-width="1" stroke-opacity="0.3" stroke-linejoin="round"/>
<path d="M593 200.7V205.4M599.4 200.4V202.5M614.7 200.9V203.2M631 199.3V202.6M643.6 199.8V203.8M660.8 200V204.4M668.5 200.8V206M677.1 200.2V206.2M686.6 199.8V203.2M698.1 199.7V204.3M708 198.6V201.4M717.6 199.3V204.6M728 199.8V205.1M736.4 199.5V202.3M750.8 200.2V203M768.1 198.7V204.1M780.7 198.9V202.7M788 198.4V202.5M802.7 199.9V202.9M818.1 199.1V202M824.7 199.3V205.2M841.1 198V203.3M857.6 198.8V204.7M868.9 198.6V202.7M882.1 199.5V203.2M893 198.7V201M900.2 198V203.9M913.3 198.2V203.3M928.4 197.8V201.5M937.7 198.9V204.2M950.6 198.5V203.6M958.7 198.6V201M969.1 198.3V202.3M984.7 197.3V200M991.9 197.9V201.9M998.9 197.8V202.8M1014.3 198.5V202.7M1021.9 198.8V201.9M1036.1 197.4V201.3M1048.7 197.5V199.9M1055.3 196.9V201.5M1067.2 197.3V203.3" fill="none" stroke="#3a6aa8" stroke-width="1" stroke-opacity="0.25" stroke-linejoin="round"/>
<path d="M633.5 218.3V131.3M755.6 202.1V153.6M923 198.1V123.2M1052 198.1V147.5M846.5 198.1V137.4M874.5 198.1V163.7M934 198.1V161.7M966 198.1V161.7M812 198.1V165.7M684 198.1V167.7M700 198.1V171.8M960 198.1V163.7M1018 198.1V165.7M988 198.1V169.8M594.9 252.7V151.6" fill="none" stroke="#3f6fae" stroke-width="1" stroke-opacity="0.5" stroke-linejoin="round"/>
<path d="M589 177.9V57.3M588.3 177.9V88.8M589.6 177.9V76.7" fill="none" stroke="#2f5f9f" stroke-width="1" stroke-opacity="0.6" stroke-linejoin="round"/>
<path d="M589 72.6V57.3M589.7 177.9V96.9" fill="none" stroke="#3a64a0" stroke-width="1.2" stroke-opacity="0.8" stroke-linejoin="round"/>
<path d="M585.9 256.8V181.9" fill="none" stroke="#004586" stroke-width="2" stroke-linejoin="round"/>
<path d="M585.5 218.3L586.5 204.2L587.6 188L588.4 137.4L588.9 80.7L589.2 80.7L589.8 137.4L590.6 181.9L591.5 192L593 194L594.5 194.9L596 197.1L596.7 196.1L597.4 196.6L598.1 196.2L598.8 195.9L599.5 197L600.2 195.2L600.9 195.9L601.6 196.2L602.3 196.2L603 195.7L603.7 196.2L604.4 196.9L605.1 196.6L605.8 195.5L606.5 195.5L607.2 196.3L607.9 195.8L608.6 196.8L609.3 196.9L610 197L610.7 196L611.4 195.9L612.1 196.4L612.8 197.6L613.5 197.2L614.2 196.8L614.9 196.3L615.6 195.8L616.3 196L617 196.4L617.7 196.4L618.4 195.8L619.1 197L619.8 196.5L620.5 196.6L621.2 195.7L621.9 195.8L622.6 195.8L623.3 194.9L624 194.7L624.7 194.7L625.4 195.4L626.1 195.7L626.8 195.7L627.5 194.9L628.2 195.1L628.9 194.9L629.6 195.1L630.3 195L631 195.8L631.7 195.1L632.4 194.8L633.1 191.2L633.8 191L634.5 195L635.2 195L635.9 195.4L636.6 195L637.3 194.7L638 196.1L638.7 195.1L639.4 196.2L640.1 196.4L640.8 195L641.5 196.5L642.2 196.1L642.9 195.3L643.6 195.5L644.3 195L645 195.3L645.7 195.9L646.4 196.2L647.1 196.1L647.8 195.6L648.5 195.7L649.2 194.4L649.9 195.4L650.6 194.7L651.3 194.3L652 194.6L652.7 194.8L653.4 195.3L654.1 195.4L654.8 195.1L655.5 196L656.2 195.1L656.9 195.4L657.6 195.9L658.3 195.5L659 195.1L659.7 195L660.4 194.9L661.1 195.9L661.8 196.4L662.5 195.5L663.2 195.4L663.9 195.5L664.6 196.4L665.3 196.9L666 195.6L666.7 197.1L667.4 197.3L668.1 196L668.8 197.3L669.5 196L670.2 195.9L670.9 196.7L671.6 195.9L672.3 196.2L673 196.6L673.7 197.2L674.4 196.3L675.1 196.1L675.8 195.4L676.5 196.3L677.2 196.2L677.9 195.7L678.6 196.1L679.3 195.4L680 196.5L680.7 195.1L681.4 195.1L682.1 196.3L682.8 196.1L683.5 195.6L684.2 195.1L684.9 196L685.6 195.7L686.3 195.1L687 195.3L687.7 195.2L688.4 196.2L689.1 194.7L689.8 196.3L690.5 196L691.2 196.3L691.9 195L692.6 195.6L693.3 196.4L694 196.5L694.7 195.5L695.4 195L696.1 195.7L696.8 194.8L697.5 195.3L698.2 195.5L698.9 194.4L699.6 194.9L700.3 195.4L701 194.2L701.7 194.8L702.4 195.1L703.1 195.5L703.8 195.5L704.5 195.4L705.2 193.9L705.9 193.6L706.6 194.3L707.3 194L708 194L708.7 194.9L709.4 194.6L710.1 193.7L710.8 195L711.5 195.2L712.2 194.3L712.9 194.6L713.6 194.8L714.3 194.6L715 194.9L715.7 194.4L716.4 194.5L717.1 195.3L717.8 194.5L718.5 195.8L719.2 195L719.9 195.3L720.6 194.5L721.3 196.3L722 195.7L722.7 195.1L723.4 194.9L724.1 195.4L724.8 196.1L725.5 195.2L726.2 194.7L726.9 195.3L727.6 196.3L728.3 196L729 195.7L729.7 196.1L730.4 195.6L731.1 195.3L731.8 194.5L732.5 194.9L733.2 196.1L733.9 194.5L734.6 195.3L735.3 195.2L736 195.2L736.7 194.6L737.4 196.1L738.1 196.2L738.8 196.2L739.5 195.8L740.2 194.7L740.9 196.5L741.6 195.5L742.3 195.1L743 195.3L743.7 195.2L744.4 196.2L745.1 195.4L745.8 195.4L746.5 195.5L747.2 195.2L747.9 195.2L748.6 196.5L749.3 196.7L750 195.2L750.7 196.6L751.4 195.9L752.1 196.1L752.8 196.2L753.5 196.4L754.2 194.8L754.9 193.5L755.6 187L756.3 193L757 196.1L757.7 195.5L758.4 195L759.1 195.8L759.8 194.7L760.5 195.1L761.2 194.3L761.9 195.5L762.6 195.4L763.3 193.7L764 194.9L764.7 194L765.4 194.4L766.1 194.6L766.8 195.3L767.5 194.6L768.2 194L768.9 195L769.6 195.2L770.3 195.3L771 194.7L771.7 195.3L772.4 193.9L773.1 194.8L773.8 194.2L774.5 195.2L775.2 194.8L775.9 193.9L776.6 195.6L777.3 194.6L778 195.5L778.7 194.7L779.4 195L780.1 193.8L780.8 194L781.5 194L782.2 194.5L782.9 195L783.6 194.3L784.3 193.7L785 193.5L785.7 194.1L786.4 193.7L787.1 195.1L787.8 194.2L788.5 194.3L789.2 193.6L789.9 193.4L790.6 194.3L791.3 195.1L792 193.7L792.7 194.6L793.4 193.8L794.1 194.3L794.8 195.4L795.5 195.1L796.2 195.4L796.9 195.6L797.6 195.9L798.3 196L799 196L799.7 194.5L800.4 195.3L801.1 196.1L801.8 194.8L802.5 196.3L803.2 196.4L803.9 196L804.6 196.3L805.3 195.2L806 196.3L806.7 196.1L807.4 195L808.1 195L808.8 196.1L809.5 196.3L810.2 195.2L810.9 195L811.6 194.9L812.3 195.4L813 195.4L813.7 194.3L814.4 194.2L815.1 194.2L815.8 195.4L816.5 195.6L817.2 195.1L817.9 194L818.6 194.9L819.3 194.1L820 194.2L820.7 194.8L821.4 194.7L822.1 194.2L822.8 194.7L823.5 194.6L824.2 194.3L824.9 194.3L825.6 194.8L826.3 195.9L827 195.3L827.7 194.7L828.4 195.4L829.1 195.2L829.8 194.9L830.5 194.7L831.2 195.5L831.9 195.1L832.6 194.7L833.3 195.5L834 195L834.7 195.4L835.4 194.3L836.1 194.4L836.8 194.7L837.5 194.5L838.2 194.4L838.9 193.7L839.6 194L840.3 194.2L841 193.5L841.7 193.8L842.4 194.3L843.1 193.3L843.8 193.7L844.5 194L845.2 193.3L845.9 193L846.6 190.5L847.3 189.8L848 193.4L848.7 194.6L849.4 194.2L850.1 193.9L850.8 193.3L851.5 194.9L852.2 194.4L852.9 193.7L853.6 193.4L854.3 193.5L855 194.9L855.7 194.1L856.4 193.8L857.1 195.3L857.8 195L858.5 194.3L859.2 195.3L859.9 194.7L860.6 194.4L861.3 194.8L862 194.5L862.7 195.2L863.4 194.8L864.1 194.3L864.8 195.4L865.5 194.3L866.2 193.7L866.9 194.2L867.6 195L868.3 193.6L869 193.8L869.7 194.3L870.4 194.6L871.1 194.4L871.8 193.6L872.5 195L873.2 194.2L873.9 194.4L874.6 193.7L875.3 194.1L876 193.9L876.7 194.6L877.4 195.2L878.1 194.1L878.8 195.2L879.5 195L880.2 193.8L880.9 190.5L881.6 192.8L882.3 195.7L883 194.5L883.7 194.6L884.4 195.5L885.1 194.6L885.8 194.7L886.5 195.1L887.2 195.9L887.9 194.9L888.6 195.6L889.3 194.5L890 195.5L890.7 195.1L891.4 194.7L892.1 195.4L892.8 195.1L893.5 193.7L894.2 194.5L894.9 194.7L895.6 193.3L896.3 193.8L897 193.1L897.7 193L898.4 193.2L899.1 193.5L899.8 193.6L900.5 194.5L901.2 193.9L901.9 194.1L902.6 193.7L903.3 194.4L904 192.9L904.7 194.3L905.4 193.6L906.1 194.5L906.8 193.2L907.5 193.7L908.2 194.2L908.9 193.3L909.6 193.7L910.3 194.4L911 193.5L911.7 194.3L912.4 192.7L913.1 190.4L913.8 192.9L914.5 194L915.2 194.7L915.9 194.1L916.6 193.5L917.3 193L918 194.5L918.7 193.5L919.4 194.3L920.1 193.9L920.8 193.8L921.5 194L922.2 193.7L922.9 154.9L923.6 182.7L924.3 193.5L925 193.3L925.7 192.9L926.4 192.5L927.1 193L927.8 193.9L928.5 193L929.2 193.6L929.9 193.2L930.6 188.6L931.3 187.6L932 193.8L932.7 194.4L933.4 194.8L934.1 193.4L934.8 194.6L935.5 194.6L936.2 194.2L936.9 195.1L937.6 195.1L938.3 194.9L939 195.2L939.7 194.1L940.4 195.1L941.1 194.5L941.8 194.9L942.5 194.6L943.2 194.5L943.9 194.1L944.6 195.4L945.3 194.4L946 194.2L946.7 194.8L947.4 194.9L948.1 194.4L948.8 193.6L949.5 194.2L950.2 194.7L950.9 193.6L951.6 193.3L952.3 195L953 194L953.7 194.5L954.4 194.9L955.1 194.7L955.8 195L956.5 195L957.2 194.5L957.9 193.4L958.6 194.4L959.3 193.8L960 195L960.7 195.2L961.4 194.8L962.1 193.9L962.8 194.4L963.5 193.6L964.2 194.8L964.9 195.3L965.6 194.9L966.3 194.6L967 193.6L967.7 193.5L968.4 195L969.1 194.5L969.8 193.4L970.5 194.7L971.2 193.2L971.9 194.5L972.6 193.5L973.3 194.2L974 193.7L974.7 193.7L975.4 192.7L976.1 193.9L976.8 193.5L977.5 192.9L978.2 193.7L978.9 193.8L979.6 192.4L980.3 193.6L981 192.6L981.7 192.1L982.4 192.3L983.1 192.6L983.8 192.4L984.5 193.1L985.2 192.2L985.9 193.2L986.6 192.7L987.3 192.6L988 193.4L988.7 193L989.4 193.1L990.1 193.4L990.8 193.5L991.5 194.5L992.2 194.5L992.9 193.1L993.6 194.6L994.3 193.6L995 193.5L995.7 194.1L996.4 193.1L997.1 193.5L997.8 194.5L998.5 194.4L999.2 194.2L999.9 193.9L1000.6 194.1L1001.3 192.8L1002 193.4L1002.7 193.9L1003.4 192.5L1004.1 193.9L1004.8 193.7L1005.5 193.5L1006.2 193.6L1006.9 193.4L1007.6 193.7L1008.3 194.3L1009 194.4L1009.7 194.3L1010.4 194.6L1011.1 194.1L1011.8 194L1012.5 193.4L1013.2 195L1013.9 193.8L1014.6 193.9L1015.3 193.6L1016 193.5L1016.7 194.8L1017.4 195.1L1018.1 193.7L1018.8 194.1L1019.5 194.4L1020.2 194.6L1020.9 194.1L1021.6 194.3L1022.3 193.7L1023 195.2L1023.7 194.4L1024.4 194.7L1025.1 193.9L1025.8 194.9L1026.5 193.7L1027.2 193.3L1027.9 194.3L1028.6 193L1029.3 193.3L1030 194L1030.7 193.5L1031.4 193.1L1032.1 193.5L1032.8 192.6L1033.5 192.3L1034.2 193.2L1034.9 192.7L1035.6 192.9L1036.3 193.1L1037 193.7L1037.7 193.2L1038.4 192.4L1039.1 192.6L1039.8 193.2L1040.5 192.6L1041.2 193.8L1041.9 193L1042.6 193.1L1043.3 193.6L1044 193.3L1044.7 193.2L1045.4 193.2L1046.1 193L1046.8 192.4L1047.5 193.9L1048.2 192.8L1048.9 193.6L1049.6 192.7L1050.3 193.8L1051 192.4L1051.7 189.7L1052.4 189.6L1053.1 192.6L1053.8 192.8L1054.5 192.1L1055.2 193.4L1055.9 193.2L1056.6 193.3L1057.3 193.2L1058 192.6L1058.7 192.6L1059.4 191.6L1060.1 193.2L1060.8 193L1061.5 193.2L1062.2 192.2L1062.9 192.8L1063.6 193L1064.3 192L1065 192.5L1065.7 193.4L1066.4 193.6L1067.1 192.5L1067.8 192.4L1068.5 192.5L1069.2 193.2L1069.9 193.4L1070.6 194.2L1071.3 193.8L1072 194.2L1072.7 193.9L1073.4 193.6L1074.1 194.1L1074.8 193L1075.5 193.2L1076.2 194.6" fill="none" stroke="#ff420e" stroke-width="1.8" stroke-linejoin="round"/>
<text transform="translate(536.8,158.2) rotate(-90)" text-anchor="middle" font-size="12">Verbrauch</text>
<text x="815.7" y="321.0" text-anchor="middle" font-size="12">Zeit</text>
<line x1="579" y1="373.6" x2="1077.5" y2="373.6" stroke="#b9b9b9" stroke-width="1.6"/>
<line x1="579" y1="414.1" x2="1077.5" y2="414.1" stroke="#b3b3b3" stroke-width="1"/>
<line x1="579" y1="454.5" x2="1077.5" y2="454.5" stroke="#b3b3b3" stroke-width="1"/>
<line x1="579" y1="495.0" x2="1077.5" y2="495.0" stroke="#b3b3b3" stroke-width="1"/>
<line x1="579" y1="535.5" x2="1077.5" y2="535.5" stroke="#b3b3b3" stroke-width="1"/>
<line x1="579" y1="575.9" x2="1077.5" y2="575.9" stroke="#b3b3b3" stroke-width="1"/>
<line x1="579" y1="616.4" x2="585" y2="616.4" stroke="#b3b3b3" stroke-width="1"/>
<line x1="584.8" y1="373.6" x2="584.8" y2="616.4" stroke="#b3b3b3" stroke-width="1"/>
<line x1="1076.9" y1="373.6" x2="1076.9" y2="616.4" stroke="#d0d0d0" stroke-width="1.6"/>
<rect x="584.8" y="615.6" width="492" height="6.3" fill="#b3b3b3"/>
<text x="575.3" y="377.8" text-anchor="end" font-size="12">120</text>
<text x="575.3" y="418.3" text-anchor="end" font-size="12">100</text>
<text x="575.3" y="458.7" text-anchor="end" font-size="12">80</text>
<text x="575.3" y="499.2" text-anchor="end" font-size="12">60</text>
<text x="575.3" y="539.7" text-anchor="end" font-size="12">40</text>
<text x="575.3" y="580.1" text-anchor="end" font-size="12">20</text>
<text x="575.3" y="620.6" text-anchor="end" font-size="12">0</text>
<text transform="translate(587.5,633.3) rotate(-45)" text-anchor="end" font-size="12">2</text>
<text transform="translate(608.1,633.3) rotate(-45)" text-anchor="end" font-size="12">32</text>
<text transform="translate(628.8,633.3) rotate(-45)" text-anchor="end" font-size="12">62</text>
<text transform="translate(649.4,633.3) rotate(-45)" text-anchor="end" font-size="12">91</text>
<text transform="translate(670.0,633.3) rotate(-45)" text-anchor="end" font-size="12">123</text>
<text transform="translate(690.6,633.3) rotate(-45)" text-anchor="end" font-size="12">152</text>
<text transform="translate(711.3,633.3) rotate(-45)" text-anchor="end" font-size="12">182</text>
<text transform="translate(731.9,633.3) rotate(-45)" text-anchor="end" font-size="12">211</text>
<text transform="translate(752.5,633.3) rotate(-45)" text-anchor="end" font-size="12">242</text>
<text transform="translate(773.2,633.3) rotate(-45)" text-anchor="end" font-size="12">272</text>
<text transform="translate(793.8,633.3) rotate(-45)" text-anchor="end" font-size="12">301</text>
<text transform="translate(814.4,633.3) rotate(-45)" text-anchor="end" font-size="12">331</text>
<text transform="translate(835.1,633.3) rotate(-45)" text-anchor="end" font-size="12">362</text>
<text transform="translate(855.7,633.3) rotate(-45)" text-anchor="end" font-size="12">391</text>
<text transform="translate(876.3,633.3) rotate(-45)" text-anchor="end" font-size="12">421</text>
<text transform="translate(897.0,633.3) rotate(-45)" text-anchor="end" font-size="12">451</text>
<text transform="translate(917.6,633.3) rotate(-45)" text-anchor="end" font-size="12">482</text>
<text transform="translate(938.2,633.3) rotate(-45)" text-anchor="end" font-size="12">511</text>
<text transform="translate(958.8,633.3) rotate(-45)" text-anchor="end" font-size="12">541</text>
<text transform="translate(979.5,633.3) rotate(-45)" text-anchor="end" font-size="12">571</text>
<text transform="translate(1000.1,633.3) rotate(-45)" text-anchor="end" font-size="12">601</text>
<text transform="translate(1020.7,633.3) rotate(-45)" text-anchor="end" font-size="12">631</text>
<text transform="translate(1041.4,633.3) rotate(-45)" text-anchor="end" font-size="12">660</text>
<text transform="translate(1062.0,633.3) rotate(-45)" text-anchor="end" font-size="12">0</text>
<path d="M585.2 555.5L585.6 613.2L585.9 613.2L586.2 559.5L587.1 549.4L588.4 555.5L588.8 525.1L589.6 454.3L590.3 426L590.6 427L590.8 411.2L591 427.4L591.2 413.1L591.4 426.9L591.6 411.9L591.8 427.7L592 412L592.2 427.7L592.4 413L592.6 426.5L592.8 412.6L593 427.7L593.2 411.8L593.4 428.3L593.6 412.1L593.8 428.1L594 411L594.2 427L594.4 410.8L594.6 426.4L594.8 412.1L595 427.1L595.2 411L595.4 426.3L595.6 412.1L595.8 427.5L596 412.4L596.2 427.3L596.4 413L596.6 428.8L596.8 413.9L597 429.6L597.2 415.3L597.4 430.5L597.6 415.1L597.8 430L598 414.8L598.2 429.4L598.4 413.9L598.6 430.4L598.8 414.2L599 429.7L599.2 412.3L599.4 427.3L599.6 412.3L599.8 427.8L600 411.4L600.2 427L600.4 411.3L600.6 425.2L600.8 411L601 426.2L601.2 409.8L601.4 425.2L601.6 410.7L601.8 424.8L602 410.6L602.2 426.2L602.4 411.1L602.6 425.3L602.8 411.9L603 426.6L603.2 412.2L603.4 427.9L603.6 411.7L603.8 429.1L604 412.7L604.2 429.7L604.4 414.3L604.6 429.3L604.8 414L605 430.9L605.2 415.6L605.4 429.7L605.6 415.6L605.8 430.3L606 415.6L606.2 430.1L606.4 415.6L606.6 430.8L606.8 414.4L607 429L607.2 414.4L607.4 427.4L607.6 412.4L607.8 428.4L608 411.7L608.2 426.2L608.4 412L608.6 426.8L608.8 411L609 425.9L609.2 409.9L609.4 425.7L609.6 410.4L609.8 425.3L610 410.8L610.2 424.8L610.4 409.7L610.6 426.6L610.8 411.5L611 427.7L611.2 411.3L611.4 426.7L611.6 413.5L611.8 429L612 414L612.2 429.6L612.4 415.4L612.6 429.3L612.8 414.3L613 430.4L613.2 414.7L613.4 430.9L613.6 416.6L613.8 430.8L614 415.3L614.2 430.4L614.4 414.9L614.6 430.9L614.8 414.2L615 429.1L615.2 414.5L615.4 428.4L615.6 413.6L615.8 428.4L616 413.1L616.2 427.4L616.4 412L616.6 426.9L616.8 411.2L617 424.9L617.2 410.9L617.4 425L617.6 410.2L617.8 426.1L618 410.2L618.2 425.1L618.4 411.5L618.6 426.2L618.8 411L619 426.8L619.2 411.2L619.4 427.4L619.6 413.3L619.8 429.5L620 414.7L620.2 428.7L620.4 413.8L620.6 429.3L620.8 415.3L621 430.7L621.2 416L621.4 430.3L621.6 415.5L621.8 430.5L622 415L622.2 429.1L622.4 415.3L622.6 428.5L622.8 414.2L623 428.4L623.2 413.7L623.4 428.9L623.6 413.5L623.8 428L624 411.9L624.2 427.6L624.4 412.2L624.6 427.5L624.8 412.8L625 427.3L625.2 412.7L625.4 427.1L625.6 411.3L625.8 428.2L626 413.4L626.2 428L626.4 412.9L626.6 427L626.8 412.6L627 428.5L627.2 412L627.4 428.8L627.6 412.2L627.8 428.5L628 413L628.2 427.8L628.4 412.9L628.6 428.2L628.8 412.6L629 427.8L629.2 412L629.4 427.3L629.6 413.7L629.8 427.6L630 412.1L630.2 428.3L630.4 413.4L630.6 428.6L630.8 412.3L631 427.4L631.2 411.9L631.4 427.7L631.6 411.5L631.8 427.4L632 411.9L632.2 428.3L632.4 411.8L632.6 428L632.8 412.6L633 428.7L633.2 411.9L633.4 429L633.6 412.1L633.8 428.3L634 412L634.2 429.1L634.4 414L634.6 428L634.8 412.5L635 428.6L635.2 412.3L635.4 427.8L635.6 414L635.8 429.6L636 413.9L636.2 429.2L636.4 414.3L636.6 428.5L636.8 413.4L637 429L637.2 414.3L637.4 428.9L637.6 413.1L637.8 428.2L638 413.2L638.2 428.4L638.4 413.5L638.6 427.9L638.8 413.4L639 428.1L639.2 413.8L639.4 429.5L639.6 413.4L639.8 428.6L640 412.9L640.2 428.1L640.4 413L640.6 429.6L640.8 414.4L641 427.9L641.2 413.3L641.4 428.2L641.6 413.1L641.8 429.6L642 413L642.2 429L642.4 412.8L642.6 429.2L642.8 413L643 429.3L643.2 412.8L643.4 429.2L643.6 413.9L643.8 428.7L644 413.4L644.2 429.7L644.4 412.7L644.6 429.6L644.8 413.6L645 428.8L645.2 413.8L645.4 429.3L645.6 413.9L645.8 428L646 413.8L646.2 428.2L646.4 413.2L646.6 429.4L646.8 414.5L647 428.2L647.2 413.7L647.4 429.4L647.6 413.9L647.8 429.8L648 414L648.2 429.4L648.4 414.2L648.6 427.9L648.8 412.7L649 428.4L649.2 413.1L649.4 428.2L649.6 414.6L649.8 428.9L650 414L650.2 429.1L650.4 414.5L650.6 428.9L650.8 414.2L651 429.5L651.2 414.2L651.4 429.8L651.6 413.6L651.8 429.6L652 414.2L652.2 429.8L652.4 414.7L652.6 429.2L652.8 413.2L653 429.8L653.2 413.3L653.4 428.8L653.6 414.5L653.8 428.3L654 413L654.2 428.6L654.4 414.3L654.6 429L654.8 413.7L655 428.8L655.2 413.7L655.4 428L655.6 414.1L655.8 428.3L656 413.6L656.2 429L656.4 412.8L656.6 429.8L656.8 413.2L657 429.4L657.2 413.7L657.4 429.5L657.6 414.5L657.8 430L658 413.4L658.2 428.6L658.4 414.7L658.6 429.1L658.8 412.9L659 429.4L659.2 414.8L659.4 428.6L659.6 414.6L659.8 428L660 413.6L660.2 429.3L660.4 413.6L660.6 429.9L660.8 412.9L661 428.2L661.2 414.5L661.4 429.2L661.9 434.1L662.8 555.5L663.2 613.2L663.5 613.2L663.8 559.5L664.7 549.4L666 555.5L666.4 525.1L667.2 454.3L667.9 426L668.2 427.6L668.4 411.2L668.6 428L668.8 412.7L669 426.4L669.2 412.9L669.4 427.4L669.6 413.1L669.8 427.9L670 411.4L670.2 427.2L670.4 411.9L670.6 427.9L670.8 411.3L671 428L671.2 411.4L671.4 427.1L671.6 411.2L671.8 427.1L672 411.7L672.2 426.4L672.4 410.7L672.6 427.6L672.8 411.6L673 427.6L673.2 412.2L673.4 426.9L673.6 413L673.8 429.1L674 412.8L674.2 429.6L674.4 413.6L674.6 429.4L674.8 414.8L675 429.7L675.2 414.1L675.4 430.6L675.6 414.6L675.8 429.7L676 414.8L676.2 430.4L676.4 413.8L676.6 428.5L676.8 413.9L677 427.3L677.2 412.6L677.4 427L677.6 412L677.8 426.6L678 410.5L678.2 425.2L678.4 410.2L678.6 426.2L678.8 409.1L679 425.7L679.2 409.2L679.4 424.1L679.6 410.9L679.8 426.2L680 410L680.2 425.2L680.4 411.3L680.6 426.5L680.8 411.2L681 427.5L681.2 412.1L681.4 427.6L681.6 413.7L681.8 429.9L682 414.3L682.2 429.7L682.4 414.3L682.6 430.1L682.8 416.2L683 429.7L683.2 415.7L683.4 430.1L683.6 415L683.8 430L684 415L684.2 430.3L684.4 414.2L684.6 429.7L684.8 413L685 427.8L685.2 413.6L685.4 427.6L685.6 411.6L685.8 426.1L686 411.6L686.2 425.2L686.4 411.4L686.6 425.5L686.8 411.1L687 424.5L687.2 409.4L687.4 425.3L687.6 411.1L687.8 424.5L688 410.3L688.2 426.6L688.4 411.6L688.6 426.6L688.8 412.9L689 428.5L689.2 412.5L689.4 429.2L689.6 413.6L689.8 428.6L690 414.4L690.2 430.1L690.4 415.2L690.6 430.3L690.8 415.7L691 429.9L691.2 416.2L691.4 430.9L691.6 415.8L691.8 431L692 415.7L692.2 429L692.4 415.3L692.6 428.9L692.8 414L693 428.2L693.2 413.8L693.4 427.3L693.6 412.9L693.8 426.5L694 410.9L694.2 426.7L694.4 410.2L694.6 425.1L694.8 410.8L695 424.5L695.2 410.3L695.4 424.7L695.6 409.5L695.8 426.3L696 411.3L696.2 427.1L696.4 410.6L696.6 426.8L696.8 413.2L697 427L697.2 413L697.4 428L697.6 414.8L697.8 429.8L698 415.2L698.2 430.4L698.4 415L698.6 430.2L698.8 415.6L699 429.4L699.2 415.2L699.4 430.6L699.6 414.6L699.8 429.3L700 413.6L700.2 428.8L700.4 414.9L700.6 428.2L700.8 412.9L701 429.4L701.2 412.8L701.4 428.3L701.6 413.7L701.8 428.1L702 412.1L702.2 426.6L702.4 412.6L702.6 426.9L702.8 412.7L703 428.4L703.2 411.8L703.4 426.9L703.6 412L703.8 427.2L704 411.6L704.2 428L704.4 413.5L704.6 428L704.8 412.4L705 428.4L705.2 412.2L705.4 428.8L705.6 412L705.8 428.2L706 412.9L706.2 428.2L706.4 412.8L706.6 427.6L706.8 413.2L707 428.5L707.2 413.7L707.4 428.7L707.6 412.5L707.8 428.8L708 412L708.2 428.5L708.4 412.5L708.6 427.8L708.8 413.4L709 427.8L709.2 412.5L709.4 428.2L709.6 412.4L709.8 427.5L710 412.9L710.2 428L710.4 411.7L710.6 426.9L710.8 413.5L711 427.6L711.2 412.9L711.4 428.7L711.6 412.6L711.8 427.8L712 413.1L712.2 427.5L712.4 412.3L712.6 427.9L712.8 413.9L713 428.4L713.2 413.1L713.4 428.6L713.6 413.1L713.8 427.7L714 413.4L714.2 429L714.4 412.6L714.6 427.8L714.8 413.2L715 428.3L715.2 414.2L715.4 427.9L715.6 413L715.8 428.2L716 414.5L716.2 428.5L716.4 412.9L716.6 429.2L716.8 414.4L717 428.5L717.2 413.4L717.4 428.8L717.6 414.2L717.8 428L718 412.6L718.2 428.8L718.4 413L718.6 427.8L718.8 413.1L719 429.5L719.2 412.7L719.4 428.1L719.6 412.8L719.8 429.3L720 414L720.2 428.4L720.4 414.2L720.6 429.4L720.8 413.4L721 428.7L721.2 414.2L721.4 428.3L721.6 414.3L721.8 428.8L722 412.6L722.2 429.4L722.4 414.2L722.6 429.3L722.8 413.2L723 428.2L723.2 413.5L723.4 429L723.6 413.9L723.8 429.5L724 413.5L724.2 427.9L724.4 414.5L724.6 428.6L724.8 414.2L725 429.5L725.2 413.2L725.4 429.8L725.6 414.4L725.8 428.7L726 412.8L726.2 428.4L726.4 413L726.6 429.2L726.8 412.7L727 429.4L727.2 413.9L727.4 429L727.6 413.7L727.8 429.1L728 414.4L728.2 429.7L728.4 413L728.6 428.8L728.8 414.2L729 428.9L729.2 414.1L729.4 429.7L729.6 414.3L729.8 427.9L730 414.3L730.2 429.5L730.4 413.7L730.6 428.1L730.8 414.7L731 429.5L731.2 413.8L731.4 429.3L731.6 413.9L731.8 428.7L732 413.3L732.2 429.9L732.4 413.6L732.6 428.2L732.8 414.8L733 428.6L733.2 413.9L733.4 429.3L733.6 414.1L733.8 429.6L734 414.2L734.2 429.9L734.4 414.2L734.6 429.8L734.8 413.6L735 429.6L735.2 414.6L735.4 429.7L735.6 413L735.8 429.8L736 414.5L736.2 428.9L736.4 414.2L736.6 428.5L736.8 413.1L737 429.5L737.2 413.8L737.4 429.3L737.6 414.5L737.8 428.9L738 413.9L738.2 429.5L738.4 414.8L738.6 429.7L738.8 413.7L739 429.3L739.2 413.8L739.4 429.1L739.6 413.3L740.1 434.1L740.9 555.5L741.3 613.2L741.6 613.2L741.9 559.5L742.8 549.4L744.1 555.5L744.5 525.1L745.3 454.3L746 426L746.3 427.4L746.5 412.1L746.7 427.8L746.9 413L747.1 428.2L747.3 412.9L747.5 427.2L747.7 411.8L747.9 426.3L748.1 411.3L748.3 426.7L748.5 411.7L748.7 427.8L748.9 412.4L749.1 427.4L749.3 411.4L749.5 427.8L749.7 411.8L749.9 426.4L750.1 411.3L750.3 427.4L750.5 411.6L750.7 427.1L750.9 412.1L751.1 427.7L751.3 411.3L751.5 426.7L751.7 411.8L751.9 429.1L752.1 412.7L752.3 429.4L752.5 414.8L752.7 430.6L752.9 414.3L753.1 430.2L753.3 414.4L753.5 429.6L753.7 414.5L753.9 430.5L754.1 413.6L754.3 428.9L754.5 414L754.7 428.6L754.9 412.9L755.1 428.4L755.3 411.9L755.5 427.5L755.7 411.8L755.9 427.2L756.1 411.8L756.3 425.6L756.5 410L756.7 425.8L756.9 410.5L757.1 424.4L757.3 410.7L757.5 425.1L757.7 409.3L757.9 424.4L758.1 409.9L758.3 424.8L758.5 411.3L758.7 427.3L758.9 411.6L759.1 426.8L759.3 411.7L759.5 427.8L759.7 412.6L759.9 430L760.1 413.3L760.3 429.3L760.5 414.4L760.7 429.7L760.9 415.4L761.1 431L761.3 416.3L761.5 430L761.7 414.3L761.9 429.6L762.1 415.7L762.3 430.5L762.5 414.2L762.7 428.5L762.9 414.1L763.1 428.3L763.3 413.1L763.5 427.5L763.7 411.4L763.9 427.5L764.1 412L764.3 426L764.5 410.7L764.7 424.9L764.9 410.5L765.1 425.5L765.3 409.4L765.5 424.5L765.7 410.2L765.9 425.7L766.1 410.9L766.3 425.2L766.5 410.7L766.7 427L766.9 412L767.1 427L767.3 412.6L767.5 427.5L767.7 414.4L767.9 429L768.1 415.2L768.3 429.9L768.5 414.3L768.7 430.4L768.9 416L769.1 430.8L769.3 416.5L769.5 431.3L769.7 416.2L769.9 430.2L770.1 415.6L770.3 429.3L770.5 413.5L770.7 429.6L770.9 414.1L771.1 428.2L771.3 412.7L771.5 427.7L771.7 412.1L771.9 427.5L772.1 410.7L772.3 426.6L772.5 411.6L772.7 425.6L772.9 410.3L773.1 424.6L773.3 410.6L773.5 425.2L773.7 409.7L773.9 424.9L774.1 409.9L774.3 426.5L774.5 411.3L774.7 426.4L774.9 413.2L775.1 428.5L775.3 413.5L775.5 428.3L775.7 413.5L775.9 430.3L776.1 413.9L776.3 430.2L776.5 414.8L776.7 430.9L776.9 415.1L777.1 430.5L777.3 415.4L777.5 429.9L777.7 414.6L777.9 430.4L778.1 414.1L778.3 429.5L778.5 414.5L778.7 429.9L778.9 413.2L779.1 429L779.3 412.3L779.5 427.4L779.7 413L779.9 427.7L780.1 412.7L780.3 427.1L780.5 413.1L780.7 427.1L780.9 412.9L781.1 428.1L781.3 411.9L781.5 427.4L781.7 412.9L781.9 427.7L782.1 413.5L782.3 428.3L782.5 411.8L782.7 427L782.9 411.9L783.1 428.7L783.3 413.1L783.5 427.9L783.7 413.3L783.9 428.3L784.1 413.4L784.3 427.2L784.5 412.4L784.7 428.8L784.9 413.5L785.1 428.5L785.3 413L785.5 427L785.7 413.2L785.9 427.4L786.1 412L786.3 428.6L786.5 411.7L786.7 427.7L786.9 412.1L787.1 428.1L787.3 412.4L787.5 427.6L787.7 412.7L787.9 427.6L788.1 412.4L788.3 428.2L788.5 412.1L788.7 428.6L788.9 413.3L789.1 427.1L789.3 413.2L789.5 428.3L789.7 413.4L789.9 428.5L790.1 413.7L790.3 428.3L790.5 413.5L790.7 427.8L790.9 412.3L791.1 428.7L791.3 414.2L791.5 429.5L791.7 413.1L791.9 428L792.1 414.1L792.3 429.1L792.5 414.1L792.7 428L792.9 413.5L793.1 429.5L793.3 413L793.5 428.1L793.7 412.5L793.9 427.9L794.1 413.1L794.3 428L794.5 413.3L794.7 428.7L794.9 413.1L795.1 428.5L795.3 413.8L795.5 428.3L795.7 413.9L795.9 428.7L796.1 412.6L796.3 428L796.5 414.4L796.7 429.2L796.9 414.1L797.1 429L797.3 413.2L797.5 427.8L797.7 413.1L797.9 428.7L798.1 412.8L798.3 429.5L798.5 413L798.7 428.9L798.9 412.6L799.1 429.5L799.3 414.4L799.5 429.1L799.7 414L799.9 428.9L800.1 412.9L800.3 428.8L800.5 412.8L800.7 428L800.9 413.1L801.1 429.7L801.3 414.1L801.5 428.3L801.7 414.1L801.9 429.6L802.1 413.7L802.3 427.9L802.5 413.2L802.7 428.6L802.9 413L803.1 429.5L803.3 414.2L803.5 429.4L803.7 414.4L803.9 429.7L804.1 413.8L804.3 429.3L804.5 414.1L804.7 428.4L804.9 413.9L805.1 429.8L805.3 412.8L805.5 428.9L805.7 413.1L805.9 429.6L806.1 412.9L806.3 429.8L806.5 414.5L806.7 429.3L806.9 414.1L807.1 429.5L807.3 413.8L807.5 429.8L807.7 413.2L807.9 429.6L808.1 413.5L808.3 429.1L808.5 413.8L808.7 428L808.9 412.8L809.1 428.6L809.3 414.4L809.5 429.5L809.7 414.7L809.9 429.4L810.1 413.9L810.3 429.3L810.5 412.8L810.7 428.4L810.9 413.1L811.1 428.3L811.3 414.7L811.5 429.9L811.7 414.5L811.9 429.9L812.1 413.9L812.3 429L812.5 414.4L812.7 429.3L812.9 414.5L813.1 428.3L813.3 414.8L813.5 428.4L813.7 413.9L813.9 428.6L814.1 413.5L814.3 429.6L814.5 414.4L814.7 428.8L814.9 413.1L815.1 430L815.3 414.7L815.5 428.7L815.7 413.6L815.9 428.4L816.1 414.2L816.3 429.3L816.5 414.3L816.7 428.8L816.9 413L817.1 429.6L817.3 414.5L817.5 429.7L818 434.1L818.8 555.5L819.2 613.2L819.5 613.2L819.8 559.5L820.7 549.4L822 555.5L822.4 525.1L823.2 454.3L823.9 426L824.2 427.1L824.4 412.1L824.6 428.1L824.8 413L825 427.8L825.2 412.5L825.4 426.7L825.6 412.6L825.8 427.5L826 412.7L826.2 428L826.4 413.1L826.6 428L826.8 411.5L827 427.1L827.2 412.1L827.4 426.4L827.6 411.2L827.8 428L828 412.7L828.2 426.8L828.4 411.4L828.6 427.8L828.8 412.1L829 428.2L829.2 412.7L829.4 426.9L829.6 412.2L829.8 428.7L830 413.6L830.2 428.1L830.4 413.8L830.6 428.9L830.8 413.8L831 429.5L831.2 415L831.4 430.8L831.6 415.1L831.8 429.5L832 413.6L832.2 428.9L832.4 413.2L832.6 429.8L832.8 412.8L833 428L833.2 412.7L833.4 427.1L833.6 411L833.8 425.6L834 411.3L834.2 424.7L834.4 410.3L834.6 426L834.8 409.8L835 425.6L835.2 409.2L835.4 425.8L835.6 410.7L835.8 424.7L836 410.5L836.2 425.7L836.4 410.9L836.6 425.7L836.8 412.3L837 427.5L837.2 412.8L837.4 428.3L837.6 414.2L837.8 428L838 415L838.2 429L838.4 414L838.6 430.4L838.8 416.1L839 430.5L839.2 416.2L839.4 430.6L839.6 416.2L839.8 429.8L840 415.7L840.2 429.7L840.4 413.8L840.6 428.7L840.8 414L841 428.2L841.2 413.6L841.4 427.7L841.6 411.2L841.8 427.3L842 411.6L842.2 426.9L842.4 410.8L842.6 425L842.8 411.1L843 425.3L843.2 410.2L843.4 425.6L843.6 409.3L843.8 425.6L844 411.2L844.2 426.3L844.4 411.4L844.6 426.6L844.8 412.4L845 427.9L845.2 412.5L845.4 429.4L845.6 414.6L845.8 429.5L846 413.9L846.2 429.4L846.4 415.7L846.6 430.6L846.8 414.5L847 430.9L847.2 415.8L847.4 430.7L847.6 414.7L847.8 430.4L848 414.4L848.2 429.3L848.4 415.4L848.6 430.2L848.8 413.1L849 428.2L849.2 412.5L849.4 427.7L849.6 412.8L849.8 427.3L850 412.1L850.2 427.1L850.4 410.8L850.6 425.5L850.8 410.2L851 424.7L851.2 409.7L851.4 426.1L851.6 410.2L851.8 425.9L852 411.8L852.2 426.6L852.4 410.9L852.6 427.3L852.8 412.8L853 428.5L853.2 412.3L853.4 428L853.6 414.5L853.8 428.6L854 414.5L854.2 428.8L854.4 414L854.6 429.2L854.8 415.6L855 429.4L855.2 415.8L855.4 429.2L855.6 413.9L855.8 429.1L856 414.7L856.2 428.9L856.4 413.1L856.6 428.7L856.8 414.2L857 428.6L857.2 412.4L857.4 428.9L857.6 413.5L857.8 428.5L858 413.5L858.2 426.9L858.4 412.2L858.6 428.2L858.8 411.5L859 427.5L859.2 412L859.4 427.5L859.6 412.2L859.8 427.8L860 412.6L860.2 428.6L860.4 412.3L860.6 427.6L860.8 412.8L861 428.4L861.2 412.3L861.4 428.8L861.6 412.9L861.8 428.4L862 413.3L862.2 428.2L862.4 412.6L862.6 427.5L862.8 412.2L863 427.2L863.2 412.9L863.4 428.2L863.6 413.3L863.8 428.7L864 412.2L864.2 427L864.4 411.6L864.6 426.7L864.8 411.6L865 428.3L865.2 412.2L865.4 428.4L865.6 412.7L865.8 428.4L866 413.3L866.2 428.2L866.4 412.3L866.6 428.1L866.8 413.2L867 428.5L867.2 412.7L867.4 428.1L867.6 412.8L867.8 429L868 413.8L868.2 427.8L868.4 413.4L868.6 429.1L868.8 412.4L869 427.6L869.2 413.1L869.4 428.9L869.6 412.5L869.8 428.3L870 414.2L870.2 429.6L870.4 413.2L870.6 429L870.8 413.4L871 427.7L871.2 412.6L871.4 429.1L871.6 413.7L871.8 428.8L872 413.5L872.2 429L872.4 414.5L872.6 428.6L872.8 414.2L873 429.4L873.2 413.8L873.4 428.7L873.6 414.3L873.8 428.3L874 413.4L874.2 428.8L874.4 413.2L874.6 428.1L874.8 413.5L875 428.8L875.2 412.8L875.4 428.5L875.6 414.1L875.8 428L876 412.7L876.2 428.1L876.4 413.6L876.6 428.9L876.8 414.5L877 428.9L877.2 412.7L877.4 428L877.6 414L877.8 429.8L878 412.7L878.2 429.2L878.4 412.8L878.6 429.8L878.8 413.7L879 429L879.2 413.5L879.4 428.3L879.6 413.4L879.8 428.7L880 412.7L880.2 429.5L880.4 412.8L880.6 428.5L880.8 414.4L881 427.9L881.2 413.7L881.4 428.9L881.6 413.5L881.8 429.8L882 413.9L882.2 429.2L882.4 414.1L882.6 428.9L882.8 414L883 428.3L883.2 413.7L883.4 429.4L883.6 412.8L883.8 429.2L884 413.1L884.2 429.8L884.4 413.1L884.6 429.2L884.8 414.3L885 429L885.2 414.2L885.4 427.9L885.6 414.3L885.8 429.9L886 413L886.2 428.5L886.4 413.3L886.6 428.1L886.8 413.2L887 428L887.2 414.6L887.4 429.6L887.6 414.5L887.8 429.7L888 413.5L888.2 428.1L888.4 413.6L888.6 428.2L888.8 413.5L889 428L889.2 412.8L889.4 428L889.6 414.6L889.8 428.8L890 414.1L890.2 429.5L890.4 413.5L890.6 428.6L890.8 413.1L891 429.3L891.2 414.2L891.4 428L891.6 413.9L891.8 429.4L892 414.1L892.2 429L892.4 414.2L892.6 428.6L892.8 413.5L893 428.1L893.2 413.7L893.4 429.3L893.6 413.4L893.8 429.6L894 413.9L894.2 429.1L894.4 413.2L894.6 428.3L894.8 413.6L895 429.3L895.2 413.1L895.4 429.7L895.9 434.1L896.7 555.5L897.1 613.2L897.4 613.2L897.7 559.5L898.6 549.4L899.9 555.5L900.3 525.1L901.1 454.3L901.8 426L902.1 427.1L902.3 412.2L902.5 427.5L902.7 412.8L902.9 428.2L903.1 412.9L903.3 427.3L903.5 411.7L903.7 426.3L903.9 411.2L904.1 427.8L904.3 411.4L904.5 428.2L904.7 412.8L904.9 428.3L905.1 412.3L905.3 427.3L905.5 411.4L905.7 426.7L905.9 411.6L906.1 426.7L906.3 412.4L906.5 427.4L906.7 411.3L906.9 427.5L907.1 412.9L907.3 426.7L907.5 412.2L907.7 427.5L907.9 412.7L908.1 429.8L908.3 414.3L908.5 430.1L908.7 414.7L908.9 430.7L909.1 415.7L909.3 429.6L909.5 415.9L909.7 429.3L909.9 414.3L910.1 430.2L910.3 413.9L910.5 428.3L910.7 413.9L910.9 427.1L911.1 413.2L911.3 427.4L911.5 412.4L911.7 426.8L911.9 411.7L912.1 425.7L912.3 409.7L912.5 424.2L912.7 409.3L912.9 425.7L913.1 409.9L913.3 424.7L913.5 410.1L913.7 424.2L913.9 410.4L914.1 425.9L914.3 411.4L914.5 426.3L914.7 411.1L914.9 427.4L915.1 412.4L915.3 428.4L915.5 414.3L915.7 428.8L915.9 413.4L916.1 430.2L916.3 414.5L916.5 430.6L916.7 415.9L916.9 430.5L917.1 416.1L917.3 430.7L917.5 414.8L917.7 431.2L917.9 415.1L918.1 429.7L918.3 414.7L918.5 428.4L918.7 413.6L918.9 428L919.1 413L919.3 426.9L919.5 411.9L919.7 427.6L919.9 411.1L920.1 425.8L920.3 411L920.5 425.4L920.7 409.9L920.9 425.6L921.1 409.8L921.3 425.9L921.5 409.7L921.7 425.3L921.9 409.8L922.1 426.7L922.3 411.8L922.5 426.2L922.7 412.4L922.9 427.7L923.1 412.3L923.3 428.9L923.5 414.3L923.7 429.1L923.9 414.9L924.1 430.3L924.3 414.9L924.5 430.6L924.7 415.5L924.9 430.8L925.1 415.1L925.3 430.7L925.5 414.7L925.7 429.8L925.9 414.2L926.1 430.2L926.3 413.7L926.5 429.2L926.7 414.2L926.9 428.3L927.1 413.5L927.3 428.6L927.5 413L927.7 427.8L927.9 410.8L928.1 425.5L928.3 411.4L928.5 425L928.7 409.8L928.9 426.2L929.1 410.7L929.3 424.7L929.5 410.1L929.7 425.8L929.9 409.8L930.1 426.2L930.3 411.9L930.5 426.7L930.7 411.3L930.9 427.4L931.1 413.2L931.3 429.1L931.5 414.7L931.7 430.3L931.9 413.5L932.1 430.1L932.3 415L932.5 429.5L932.7 414.7L932.9 429.5L933.1 415.1L933.3 429.6L933.5 415L933.7 428.8L933.9 414.4L934.1 429.5L934.3 413.8L934.5 429L934.7 413.7L934.9 429L935.1 413.6L935.3 428.2L935.5 412.4L935.7 428.4L935.9 413.4L936.1 427.8L936.3 413.3L936.5 427.8L936.7 412.3L936.9 426.9L937.1 412.6L937.3 427.8L937.5 413.3L937.7 428.4L937.9 412.2L938.1 428.3L938.3 413.5L938.5 428.5L938.7 412.8L938.9 428.6L939.1 413.7L939.3 427.3L939.5 413.4L939.7 428.6L939.9 413.4L940.1 428.7L940.3 413.1L940.5 427.2L940.7 412.4L940.9 428.1L941.1 413.2L941.3 428.7L941.5 412.6L941.7 427L941.9 412.5L942.1 427.1L942.3 412.1L942.5 427.4L942.7 412.1L942.9 427.4L943.1 412.1L943.3 427.6L943.5 411.8L943.7 428.2L943.9 412.9L944.1 428.4L944.3 412.9L944.5 427.2L944.7 411.9L944.9 428L945.1 413.5L945.3 427.7L945.5 413.9L945.7 428.9L945.9 413.8L946.1 428.3L946.3 414L946.5 429L946.7 412.4L946.9 428.2L947.1 412.5L947.3 429.1L947.5 412.8L947.7 429.5L947.9 413.6L948.1 428.3L948.3 414.2L948.5 427.7L948.7 413.7L948.9 428.7L949.1 413.8L949.3 427.7L949.5 413.9L949.7 428.4L949.9 413.3L950.1 428.9L950.3 414.3L950.5 428.2L950.7 414.3L950.9 428.5L951.1 413.7L951.3 429.2L951.5 413L951.7 429.5L951.9 412.5L952.1 429L952.3 412.8L952.5 428.4L952.7 412.9L952.9 428.5L953.1 413.2L953.3 428.5L953.5 412.9L953.7 428.3L953.9 413.4L954.1 428.1L954.3 412.7L954.5 427.9L954.7 412.7L954.9 428.4L955.1 414.4L955.3 428.7L955.5 412.9L955.7 428.4L955.9 413.2L956.1 428.8L956.3 414.4L956.5 429.2L956.7 414.6L956.9 428.2L957.1 412.8L957.3 428.7L957.5 412.9L957.7 429L957.9 413.3L958.1 429.4L958.3 413.1L958.5 428.5L958.7 413.6L958.9 428.1L959.1 413.9L959.3 429.4L959.5 412.9L959.7 428.2L959.9 413.1L960.1 428.8L960.3 413.3L960.5 428.4L960.7 413.9L960.9 428.1L961.1 413.1L961.3 428.3L961.5 413.5L961.7 429.3L961.9 413.3L962.1 429.2L962.3 413.1L962.5 428.5L962.7 413.8L962.9 428.7L963.1 413.1L963.3 427.9L963.5 413.6L963.7 429.5L963.9 414L964.1 429.4L964.3 414.4L964.5 429.3L964.7 414.2L964.9 429.8L965.1 413.8L965.3 428.7L965.5 413.1L965.7 429.4L965.9 413.7L966.1 429.1L966.3 413.2L966.5 428L966.7 414.5L966.9 428.4L967.1 414.4L967.3 429L967.5 414L967.7 428.5L967.9 414.4L968.1 429.2L968.3 414.3L968.5 428.3L968.7 414.4L968.9 429.4L969.1 413.8L969.3 429.2L969.5 413.8L969.7 428L969.9 413.8L970.1 428.6L970.3 413.2L970.5 429L970.7 413.7L970.9 429.5L971.1 412.8L971.3 430L971.5 413.3L971.7 428.3L971.9 413.3L972.1 428.3L972.3 412.9L972.5 428.6L972.7 414L972.9 429.2L973.1 413.7L973.6 434.1L974.4 555.5L974.8 613.2L975.1 613.2L975.4 559.5L976.3 549.4L977.6 555.5L978 525.1L978.8 454.3L979.5 426L979.8 428.2L980 412.7L980.2 428.1L980.4 412.6L980.6 427.7L980.8 412.9L981 427.1L981.2 411.2L981.4 426.5L981.6 411.2L981.8 426.3L982 411.8L982.2 426.7L982.4 411.3L982.6 427.5L982.8 412.5L983 426.8L983.2 412.5L983.4 426.4L983.6 411.2L983.8 426.3L984 411.7L984.2 427.5L984.4 412.2L984.6 426.9L984.8 413.2L985 428.4L985.2 412.7L985.4 428.3L985.6 413.7L985.8 428.9L986 413.1L986.2 429.6L986.4 414.2L986.6 431L986.8 415.2L987 429.6L987.2 414.7L987.4 430.1L987.6 414.7L987.8 430.3L988 414L988.2 429.7L988.4 412.6L988.6 427.1L988.8 412L989 427L989.2 410.6L989.4 427.1L989.6 411.6L989.8 425.9L990 410.1L990.2 426.2L990.4 409.2L990.6 424.2L990.8 408.9L991 424.6L991.2 409.4L991.4 425.1L991.6 409.3L991.8 425.6L992 410.2L992.2 426.9L992.4 410.7L992.6 427.4L992.8 412.4L993 428.6L993.2 413.4L993.4 429.1L993.6 413.4L993.8 428.8L994 415.3L994.2 430.1L994.4 415.3L994.6 430.6L994.8 414.5L995 431.1L995.2 415.9L995.4 430.6L995.6 414.8L995.8 430.2L996 413.3L996.2 429.3L996.4 414L996.6 428.8L996.8 411.9L997 426.8L997.2 412.5L997.4 427.5L997.6 410.1L997.8 425L998 410.9L998.2 426.5L998.4 410.4L998.6 425.5L998.8 410.3L999 425.9L999.2 409.9L999.4 424.6L999.6 410.4L999.8 426.8L1000 410.2L1000.2 427.7L1000.4 412.9L1000.6 427.1L1000.8 413.1L1001 427.7L1001.2 413.5L1001.4 428.5L1001.6 413.7L1001.8 430.8L1002 414.1L1002.2 430.4L1002.4 415.4L1002.6 431.8L1002.8 416.6L1003 430.9L1003.2 415.1L1003.4 431.1L1003.6 415.9L1003.8 430L1004 415.5L1004.2 429L1004.4 414L1004.6 428.8L1004.8 412.1L1005 427.4L1005.2 411.7L1005.4 427.1L1005.6 412.3L1005.8 425.9L1006 410L1006.2 426.2L1006.4 410L1006.6 424.9L1006.8 409.3L1007 425.9L1007.2 409.5L1007.4 425L1007.6 411.6L1007.8 426.2L1008 411.2L1008.2 427L1008.4 411.3L1008.6 427.2L1008.8 412.9L1009 427.9L1009.2 414.8L1009.4 428.5L1009.6 413.6L1009.8 429.5L1010 414.8L1010.2 429.7L1010.4 414.5L1010.6 430.3L1010.8 415L1011 429.7L1011.2 414.9L1011.4 429.3L1011.6 415.4L1011.8 429.2L1012 414.7L1012.2 429.5L1012.4 414.4L1012.6 429.1L1012.8 414.1L1013 427.7L1013.2 413.2L1013.4 428.3L1013.6 413.4L1013.8 428.2L1014 411.5L1014.2 428.2L1014.4 412L1014.6 428.4L1014.8 412.4L1015 427.8L1015.2 412.3L1015.4 427.1L1015.6 413.3L1015.8 427.6L1016 412.9L1016.2 428.5L1016.4 412.7L1016.6 427.5L1016.8 413.5L1017 427.6L1017.2 413.4L1017.4 427.4L1017.6 412.1L1017.8 427.4L1018 413.9L1018.2 427.4L1018.4 413.6L1018.6 428.7L1018.8 413.5L1019 427.6L1019.2 413.2L1019.4 427.7L1019.6 412.7L1019.8 427.5L1020 412.3L1020.2 428.4L1020.4 411.7L1020.6 426.6L1020.8 411.5L1021 427.6L1021.2 412.2L1021.4 427.8L1021.6 413.3L1021.8 428.2L1022 413.5L1022.2 427.3L1022.4 413.5L1022.6 428.8L1022.8 412.2L1023 427.9L1023.2 412.2L1023.4 428.3L1023.6 413.4L1023.8 428.9L1024 412.6L1024.2 427.6L1024.4 413.2L1024.6 429.2L1024.8 413.5L1025 427.9L1025.2 413.6L1025.4 428.6L1025.6 414.3L1025.8 428L1026 413.4L1026.2 428.9L1026.4 412.9L1026.6 428.9L1026.8 413.8L1027 428.6L1027.2 412.6L1027.4 429.1L1027.6 414.4L1027.8 429.5L1028 413.1L1028.2 427.9L1028.4 413.7L1028.6 429.1L1028.8 413L1029 429.1L1029.2 414.3L1029.4 428.5L1029.6 413.1L1029.8 427.9L1030 414.1L1030.2 427.8L1030.4 412.9L1030.6 429.3L1030.8 413.8L1031 429.4L1031.2 413.5L1031.4 428.2L1031.6 413.2L1031.8 428L1032 413.3L1032.2 429.4L1032.4 413.6L1032.6 428.3L1032.8 412.7L1033 427.8L1033.2 414.3L1033.4 429L1033.6 413.9L1033.8 429.4L1034 414.5L1034.2 429.7L1034.4 413.5L1034.6 429.1L1034.8 414.5L1035 428.8L1035.2 413.5L1035.4 428.8L1035.6 412.7L1035.8 428.5L1036 413.3L1036.2 428.4L1036.4 414.2L1036.6 429.2L1036.8 414.6L1037 428.1L1037.2 414L1037.4 428.2L1037.6 413.9L1037.8 429.5L1038 413.8L1038.2 428.8L1038.4 413.2L1038.6 427.9L1038.8 412.8L1039 428.2L1039.2 413.5L1039.4 429.3L1039.6 412.8L1039.8 429.9L1040 413.9L1040.2 429.1L1040.4 413.4L1040.6 429.5L1040.8 414L1041 428.5L1041.2 413.9L1041.4 429L1041.6 413L1041.8 429.8L1042 413.5L1042.2 428.1L1042.4 413.4L1042.6 429.9L1042.8 413.9L1043 428.7L1043.2 413.5L1043.4 428.8L1043.6 413.5L1043.8 429.6L1044 414.6L1044.2 429.3L1044.4 413.3L1044.6 428.8L1044.8 414.7L1045 429.8L1045.2 414.7L1045.4 429L1045.6 414L1045.8 428.9L1046 413.7L1046.2 430L1046.4 414.5L1046.6 428.7L1046.8 414.4L1047 429.9L1047.2 413L1047.4 428.9L1047.6 412.8L1047.8 429.8L1048 414.5L1048.2 428L1048.4 414.5L1048.6 429.9L1048.8 414.8L1049 428.4L1049.2 413.1L1049.4 429.5L1049.6 414L1049.8 430L1050 413L1050.2 429.5L1050.7 434.1" fill="none" stroke="#004586" stroke-width="1" stroke-linejoin="round"/>
<path d="M585.8 613.2V575.7M663.4 613.2V575.7M741.4 613.2V575.7M819.4 613.2V575.7M897.2 613.2V575.7M974.9 613.2V575.7" fill="none" stroke="#004586" stroke-width="2" stroke-linejoin="round"/>
<path d="M590.6 413.3V408.8M593 413.4V409.9M594.9 425.1V428.9M596.8 427.5V432M599.9 413.1V411M603 412.5V409.8M605.7 428.7V433.6M608.4 424.4V428.9M612.1 427.2V431.4M615.6 426.2V430.4M619 425.2V429.6M622.2 427.9V430.1M624.8 425.7V428.4M626.8 413.9V409.9M628.8 426.3V430.9M631.9 425.8V429.8M635.7 414.6V410M638.7 426.9V431.4M642 426.9V430.2M643.6 426.9V431.6M646 427V430.6M649.1 414.9V411.7M653.1 415V411.5M656.1 415V412.5M659.3 415V412.6M668.2 425.4V430.2M670.4 413.4V410.1M672.7 413V409.4M675.1 428.3V433.1M678.1 411.8V407.4M680.6 412.5V409.4M682.4 416V413.5M686.3 424.1V426.5M688 423.9V428.2M690.9 428.9V431.1M692.6 415.4V411.4M695.8 423.9V426.5M699.5 416V413.2M701.8 413.9V411.8M703.3 413.6V410.3M706.8 426.2V430.2M708.7 413.7V411M712.3 414.4V412M714.4 426.9V429.1M716.2 426.9V431.7M719.9 426.9V431.9M723.7 427V430.9M725.6 427V429.4M727.4 427V432M730.6 415V412.5M733.5 427.1V429.6M735 427.2V431.4M736.9 415V412.3M746.3 413.3V410.7M750.3 425.1V428.5M751.9 414.3V410.4M755.6 425.1V427.6M758.1 411.5V408.2M759.7 426.9V429.4M761.6 416.5V413.7M763.9 424.8V428.3M767.4 414.2V411.2M769.2 428.9V433.1M772.2 412.5V409.5M775.5 426.9V429.3M777.6 416V413.2M780.8 425.7V429.7M783.7 414.2V409.7M786.2 425.9V428.3M789.6 414.1V410.4M793.4 426.9V429.5M796.1 414.7V412.2M800.1 414.8V411.2M802.1 427V429.7M805.4 414.9V411.7M809 415V410.9M812.7 427.2V431.6M816.6 415.1V412.7M824.2 413.3V410.1M826.4 425.5V428.6M829.2 425.7V429.7M832.5 427.2V431.3M836.4 412.1V409.3M839.3 416.6V414M841.3 413.7V411.6M845.1 413.9V409.5M847.3 416.8V413.1M849.6 425.4V428.1M851.5 423.7V425.8M855.1 416.2V412.5M857.5 414.1V409.6M860.7 426.1V429.7M863.6 426V429.4M867 426.1V429.2M870.9 426.9V431.3M873.3 426.9V429.5M876.9 414.8V411.8M879.1 414.8V411.1M881.5 414.9V410.4M884.2 414.9V412.7M886.8 415V410.4M890.4 415V412.8M894.2 415.1V410.8M902.1 413.3V408.8M905 425.5V428.7M906.8 413.2V409.4M908.5 415.6V412.4M912 411.9V409.6M915.8 427.4V432.2M918.7 414.7V412.7M921.7 423.7V425.9M923.9 427.7V430.7M925.4 416.8V413.3M929 423.6V427.3M931.2 426.7V430M932.9 428.3V431.3M934.6 427V431.8M937.9 425.9V429.5M941.4 413.9V411.3M943.8 413.7V411.2M947.6 414.7V410.4M950.9 426.9V429.9M954.5 426.9V431.7M957.5 414.9V411.4M961.1 427V431.3M962.9 427.1V430.6M966.7 427.1V431.5M970.3 415V410.7M972.6 427.2V431.1M979.8 413.3V409.1M982.8 425.5V427.7M985.4 426.5V429.7M988.6 426.2V428.6M991.9 412V408.7M993.7 427.8V431.8M997.7 424.3V428.6M1000 424.6V428.6M1001.7 428V430.2M1005.3 413V409M1009 414.6V410.4M1011.3 415.9V412.9M1013 426.3V429.5M1016.8 426.2V428.5M1019.4 413.8V410M1021.8 413.8V411.2M1023.3 414.2V411.5M1025.6 414.7V411M1028 426.9V430.7M1032 414.8V411.7M1035.2 414.9V412.8M1036.7 427V431.2M1040.4 427.1V430.4M1042.8 415V411.3M1046.7 427.2V431.4" fill="none" stroke="#004586" stroke-width="1" stroke-opacity="0.22" stroke-linejoin="round"/>
<path d="M590.6 425.4V439.4M599 427.1V436.2M613.5 416.8V400.8M622.8 415.2V400.7M640.6 414.7V401.1M660.2 427.2V440.5M668.2 413.3V400.5M676.6 414.9V407.1M688 411.9V400M697.1 413.9V401.1M712 414.3V400.9M727 414.9V400.8M746.3 425.4V434.6M760.3 415.7V403.4M771.1 414.5V400.6M780.8 425.7V432.2M800.2 414.8V405.7M824.2 425.4V435.9M832.3 415.4V407.2M842 412.3V401.5M857.5 426.2V432.6M874.6 414.7V400.4M891.6 415V405.9M902.1 413.3V403.4M918.1 427.9V440.1M936.3 425.7V433.6M950.5 414.7V407M967.6 415V398.9M979.8 413.3V399.8M989 413.2V404.4M997.5 412.6V401.2M1013.2 426.2V434.4M1030.8 414.7V404M1046.4 427.2V434" fill="none" stroke="#5a86bd" stroke-width="1" stroke-opacity="0.22" stroke-linejoin="round"/>
<path d="M585.4 535.3L585.7 577.8L586 577.8L586.8 555.5L587.8 541.3L588.4 543.4L589.2 474.6L590.2 420.3L592.1 418.8L593.1 419.7L594.1 418.5L595.1 419.2L596.1 419.6L597.1 421.1L598.1 422.4L599.1 420.9L600.1 418.3L601.1 417.1L602.1 417.5L603.1 418.5L604.1 420.8L605.1 421.8L606.1 422.6L607.1 420.5L608.1 418.4L609.1 417.5L610.1 417.1L611.1 419L612.1 421.1L613.1 422.1L614.1 422.1L615.1 420.6L616.1 418.9L617.1 417.1L618.1 417.7L619.1 419.6L620.1 421.5L621.1 421.6L622.1 421.7L623.1 421.2L624.1 420.2L625.1 419.5L626.1 419L627.1 420.3L628.1 420.1L629.1 420.3L630.1 419.9L631.1 419.9L632.1 419.1L633.1 419.3L634.1 420.6L635.1 419.9L636.1 420.1L637.1 420.7L638.1 420.7L639.1 420.3L640.1 420.6L641.1 420.4L642.1 420.4L643.1 420.4L644.1 420.4L645.1 420.6L646.1 421.2L647.1 420.2L648.1 420.5L649.1 420.6L650.1 420.8L651.1 420.3L652.1 421.3L653.1 420.9L654.1 420.6L655.1 420.5L656.1 420.5L657.1 420.7L658.1 420.9L659.1 421.4L660.1 421.1L661.1 420.9L661.9 424L663 535.3L663.3 577.8L663.6 577.8L664.4 555.5L665.4 541.3L666 543.4L666.8 474.6L667.8 420.3L669.7 419.7L670.7 418.7L671.7 419.2L672.7 419.1L673.7 419.9L674.7 421.4L675.7 421.9L676.7 420.2L677.7 418.7L678.7 417.1L679.7 417.1L680.7 418.6L681.7 421L682.7 422.6L683.7 421.9L684.7 420.9L685.7 418.7L686.7 417.6L687.7 417.7L688.7 418.9L689.7 421.3L690.7 422.4L691.7 422.6L692.7 420.7L693.7 419.4L694.7 417.8L695.7 417.4L696.7 419.1L697.7 421.2L698.7 421.9L699.7 421.3L700.7 421.2L701.7 420.2L702.7 419.2L703.7 420L704.7 420.3L705.7 419.9L706.7 420L707.7 419.8L708.7 420L709.7 419.5L710.7 419.4L711.7 419.7L712.7 420.3L713.7 420.9L714.7 420.2L715.7 420.3L716.7 420.3L717.7 420.3L718.7 420.8L719.7 420.3L720.7 420.7L721.7 420.6L722.7 420.3L723.7 420.7L724.7 421L725.7 421.2L726.7 421.1L727.7 420.8L728.7 420.6L729.7 421.1L730.7 421.1L731.7 421L732.7 420.4L733.7 420.4L734.7 421.1L735.7 420.9L736.7 420.7L737.7 421L738.7 420.8L739.7 421.4L740.1 424L741.1 535.3L741.4 577.8L741.7 577.8L742.5 555.5L743.5 541.3L744.1 543.4L744.9 474.6L745.9 420.3L747.8 419.1L748.8 418.9L749.8 419.3L750.8 419L751.8 419.7L752.8 421.3L753.8 422.5L754.8 420.9L755.8 418.7L756.8 417.5L757.8 417.6L758.8 418.8L759.8 421L760.8 422.6L761.8 422.1L762.8 421.1L763.8 418.3L764.8 417.5L765.8 417.7L766.8 418.4L767.8 420.8L768.8 422.8L769.8 422.2L770.8 420.8L771.8 418.7L772.8 417.3L773.8 418L774.8 418.7L775.8 421L776.8 422.4L777.8 422.1L778.8 420.4L779.8 419.6L780.8 419.5L781.8 419.4L782.8 420.3L783.8 420L784.8 420.2L785.8 419.5L786.8 419.1L787.8 419.6L788.8 420.3L789.8 420.3L790.8 419.9L791.8 420.9L792.8 420.4L793.8 420.2L794.8 420.7L795.8 420.1L796.8 421L797.8 421L798.8 420.8L799.8 420.3L800.8 420.3L801.8 420.9L802.8 420.4L803.8 420.9L804.8 421.2L805.8 421.3L806.8 420.3L807.8 421L808.8 421.3L809.8 420.7L810.8 420.9L811.8 421L812.8 420.4L813.8 421.2L814.8 420.7L815.8 421.3L816.8 421.4L818 424L819 535.3L819.3 577.8L819.6 577.8L820.4 555.5L821.4 541.3L822 543.4L822.8 474.6L823.8 420.3L825.7 419.5L826.7 419.5L827.7 418.6L828.7 418.8L829.7 419.5L830.7 421.4L831.7 422.1L832.7 420.1L833.7 418.4L834.7 416.7L835.7 417.6L836.7 418.7L837.7 420.9L838.7 422.5L839.7 422.1L840.7 421L841.7 419.3L842.7 417.5L843.7 417.4L844.7 419L845.7 421.1L846.7 422.7L847.7 422.1L848.7 421.4L849.7 419.4L850.7 417.5L851.7 417.2L852.7 419.1L853.7 421.3L854.7 422.3L855.7 421.6L856.7 420.4L857.7 420.2L858.7 419.9L859.7 419.5L860.7 420.1L861.7 419.8L862.7 419.7L863.7 420.2L864.7 419.1L865.7 419.6L866.7 419.6L867.7 419.7L868.7 420L869.7 420.7L870.7 420.4L871.7 420.7L872.7 420.3L873.7 420.8L874.7 420.9L875.7 420.8L876.7 420.5L877.7 420.4L878.7 420.8L879.7 420.3L880.7 420.9L881.7 420.8L882.7 420.5L883.7 420.8L884.7 421L885.7 420.5L886.7 420.9L887.7 420.5L888.7 421.4L889.7 420.8L890.7 421.1L891.7 421.3L892.7 421L893.7 421.3L894.7 420.7L895.9 424L896.9 535.3L897.2 577.8L897.5 577.8L898.3 555.5L899.3 541.3L899.9 543.4L900.7 474.6L901.7 420.3L903.6 418.8L904.6 419.1L905.6 418.7L906.6 418.4L907.6 420L908.6 421.7L909.6 422L910.6 420.1L911.6 418L912.6 416.9L913.6 417.2L914.6 419L915.6 420.3L916.6 422.7L917.6 422.7L918.6 420.6L919.6 418.3L920.6 416.9L921.6 417.2L922.6 419.2L923.6 420.9L924.6 422.5L925.6 422.4L926.6 421.2L927.6 418.7L928.6 417.5L929.6 417.5L930.6 418.7L931.6 421L932.6 422.3L933.6 421.3L934.6 420.5L935.6 420.2L936.6 419.1L937.6 419.9L938.6 420.2L939.6 419.9L940.6 419.6L941.6 419.9L942.6 419.1L943.6 419.8L944.6 419.7L945.6 420.1L946.6 420.5L947.6 420.1L948.6 420.8L949.6 421L950.6 420.6L951.6 420.2L952.6 421.1L953.6 420.6L954.6 420.7L955.6 420.9L956.6 420.9L957.6 420.5L958.6 420.3L959.6 420.4L960.6 420.3L961.6 420.5L962.6 420.5L963.6 421L964.6 421L965.6 420.5L966.6 420.9L967.6 420.6L968.6 420.9L969.6 420.9L970.6 420.7L971.6 420.7L972.6 421L973.6 424L974.6 535.3L974.9 577.8L975.2 577.8L976 555.5L977 541.3L977.6 543.4L978.4 474.6L979.4 420.3L981.3 419.5L982.3 419.4L983.3 418.7L984.3 419.1L985.3 419.9L986.3 421.6L987.3 421.7L988.3 420.5L989.3 418.3L990.3 416.9L991.3 417.3L992.3 419L993.3 421.1L994.3 422.5L995.3 422.8L996.3 420.3L997.3 418.3L998.3 417.7L999.3 417L1000.3 419.1L1001.3 421.2L1002.3 422.5L1003.3 422.6L1004.3 421.4L1005.3 418.6L1006.3 417.7L1007.3 417.5L1008.3 418.8L1009.3 420.7L1010.3 421.6L1011.3 422.2L1012.3 420.8L1013.3 420.2L1014.3 419.6L1015.3 419.7L1016.3 419.9L1017.3 420.2L1018.3 420L1019.3 420.1L1020.3 419.1L1021.3 419.9L1022.3 420.3L1023.3 420L1024.3 420.5L1025.3 420.6L1026.3 420.9L1027.3 420.6L1028.3 420.6L1029.3 420.3L1030.3 420.3L1031.3 420.8L1032.3 420.2L1033.3 421L1034.3 420.7L1035.3 421.1L1036.3 421L1037.3 421.2L1038.3 420.9L1039.3 420.4L1040.3 421L1041.3 420.9L1042.3 420.5L1043.3 420.5L1044.3 421.3L1045.3 420.6L1046.3 421L1047.3 420.6L1048.3 421.4L1049.3 420.7L1050.3 421L1050.7 424L1050.6 616.2L1076.6 616.2" fill="none" stroke="#fa4512" stroke-width="2.8" stroke-linejoin="round"/>
<text transform="translate(536.8,515.8) rotate(-90)" text-anchor="middle" font-size="12">Verbrauch</text>
<text x="815.7" y="678.6" text-anchor="middle" font-size="12">Zeit</text>
</svg>
</body></html>
